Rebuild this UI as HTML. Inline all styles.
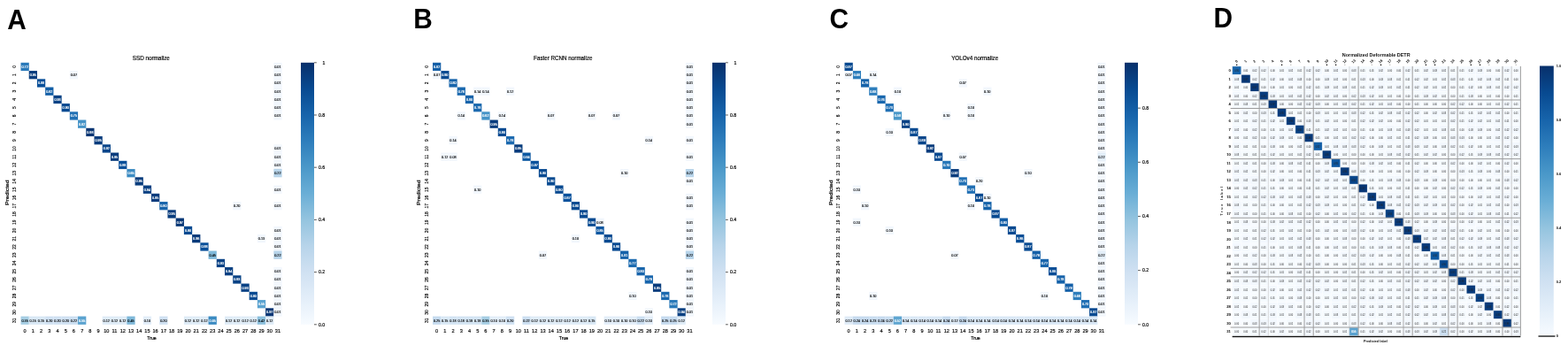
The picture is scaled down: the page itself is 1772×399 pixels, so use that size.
<!DOCTYPE html>
<html><head><meta charset="utf-8"><title>Confusion matrices</title>
<style>
html,body{margin:0;padding:0;background:#fff;}
body{width:1772px;height:399px;overflow:hidden;position:relative;}
svg text{font-family:"Liberation Sans",Arial,sans-serif;}
.cw text{font-size:3.7px;fill:#fff;stroke:#fff;stroke-width:.15px;text-anchor:middle}
.ck text{font-size:3.8px;fill:#000;stroke:#000;stroke-width:.12px;text-anchor:middle}
.tk text{fill:#000;stroke:#000;stroke-width:.15px;text-anchor:middle}
.dk text{font-size:3.0px;fill:#222}
.dw text{font-size:3.3px;fill:#fff;stroke:#fff;stroke-width:.18px}
</style></head><body>
<svg width="1772" height="399" viewBox="0 0 1772 399" style="position:absolute;left:0;top:0">
<rect x="0" y="0" width="1772" height="399" fill="#ffffff"/>
<rect x="23.50" y="70.80" width="9.27" height="9.30" fill="#2979b9"/>
<rect x="32.72" y="80.05" width="9.27" height="9.30" fill="#083c7d"/>
<rect x="41.94" y="89.30" width="9.27" height="9.30" fill="#084f99"/>
<rect x="51.16" y="98.55" width="9.27" height="9.30" fill="#135fa7"/>
<rect x="60.38" y="107.80" width="9.27" height="9.30" fill="#084285"/>
<rect x="69.60" y="117.05" width="9.27" height="9.30" fill="#084a91"/>
<rect x="78.82" y="126.30" width="9.27" height="9.30" fill="#2070b4"/>
<rect x="88.04" y="135.55" width="9.27" height="9.30" fill="#4493c7"/>
<rect x="97.26" y="144.80" width="9.27" height="9.30" fill="#083573"/>
<rect x="106.48" y="154.05" width="9.27" height="9.30" fill="#083c7d"/>
<rect x="115.70" y="163.30" width="9.27" height="9.30" fill="#08458a"/>
<rect x="124.92" y="172.55" width="9.27" height="9.30" fill="#083c7d"/>
<rect x="134.14" y="181.80" width="9.27" height="9.30" fill="#084f99"/>
<rect x="143.36" y="191.05" width="9.27" height="9.30" fill="#3b8bc2"/>
<rect x="152.58" y="200.30" width="9.27" height="9.30" fill="#083c7d"/>
<rect x="161.80" y="209.55" width="9.27" height="9.30" fill="#084082"/>
<rect x="171.02" y="218.80" width="9.27" height="9.30" fill="#083c7d"/>
<rect x="180.24" y="228.05" width="9.27" height="9.30" fill="#1764ab"/>
<rect x="189.46" y="237.30" width="9.27" height="9.30" fill="#083c7d"/>
<rect x="198.68" y="246.55" width="9.27" height="9.30" fill="#083776"/>
<rect x="207.90" y="255.80" width="9.27" height="9.30" fill="#084a91"/>
<rect x="217.12" y="265.05" width="9.27" height="9.30" fill="#083a7a"/>
<rect x="226.34" y="274.30" width="9.27" height="9.30" fill="#084f99"/>
<rect x="235.56" y="283.55" width="9.27" height="9.30" fill="#7fb9da"/>
<rect x="244.78" y="292.80" width="9.27" height="9.30" fill="#084285"/>
<rect x="254.00" y="302.05" width="9.27" height="9.30" fill="#084082"/>
<rect x="263.22" y="311.30" width="9.27" height="9.30" fill="#084285"/>
<rect x="272.44" y="320.55" width="9.27" height="9.30" fill="#084285"/>
<rect x="281.66" y="329.80" width="9.27" height="9.30" fill="#084a91"/>
<rect x="290.88" y="339.05" width="9.27" height="9.30" fill="#5ba3d0"/>
<rect x="300.10" y="348.30" width="9.27" height="9.30" fill="#083776"/>
<rect x="78.82" y="80.05" width="9.27" height="9.30" fill="#f2f7fd"/>
<rect x="263.22" y="228.05" width="9.27" height="9.30" fill="#f2f7fd"/>
<rect x="290.88" y="265.05" width="9.27" height="9.30" fill="#f2f7fd"/>
<rect x="309.32" y="70.80" width="9.27" height="9.30" fill="#f2f7fd"/>
<rect x="309.32" y="80.05" width="9.27" height="9.30" fill="#f2f7fd"/>
<rect x="309.32" y="89.30" width="9.27" height="9.30" fill="#f2f7fd"/>
<rect x="309.32" y="98.55" width="9.27" height="9.30" fill="#f2f7fd"/>
<rect x="309.32" y="107.80" width="9.27" height="9.30" fill="#f2f7fd"/>
<rect x="309.32" y="117.05" width="9.27" height="9.30" fill="#f2f7fd"/>
<rect x="309.32" y="126.30" width="9.27" height="9.30" fill="#f2f7fd"/>
<rect x="309.32" y="163.30" width="9.27" height="9.30" fill="#f2f7fd"/>
<rect x="309.32" y="172.55" width="9.27" height="9.30" fill="#f2f7fd"/>
<rect x="309.32" y="181.80" width="9.27" height="9.30" fill="#f2f7fd"/>
<rect x="309.32" y="191.05" width="9.27" height="9.30" fill="#b7d4ea"/>
<rect x="309.32" y="209.55" width="9.27" height="9.30" fill="#f2f7fd"/>
<rect x="309.32" y="228.05" width="9.27" height="9.30" fill="#f2f7fd"/>
<rect x="309.32" y="255.80" width="9.27" height="9.30" fill="#f2f7fd"/>
<rect x="309.32" y="265.05" width="9.27" height="9.30" fill="#f2f7fd"/>
<rect x="309.32" y="274.30" width="9.27" height="9.30" fill="#f2f7fd"/>
<rect x="309.32" y="283.55" width="9.27" height="9.30" fill="#b7d4ea"/>
<rect x="309.32" y="302.05" width="9.27" height="9.30" fill="#f2f7fd"/>
<rect x="309.32" y="311.30" width="9.27" height="9.30" fill="#f2f7fd"/>
<rect x="309.32" y="320.55" width="9.27" height="9.30" fill="#f2f7fd"/>
<rect x="309.32" y="329.80" width="9.27" height="9.30" fill="#f2f7fd"/>
<rect x="309.32" y="339.05" width="9.27" height="9.30" fill="#f2f7fd"/>
<rect x="309.32" y="348.30" width="9.27" height="9.30" fill="#f2f7fd"/>
<rect x="23.50" y="357.55" width="9.27" height="9.30" fill="#a6cee4"/>
<rect x="32.72" y="357.55" width="9.27" height="9.30" fill="#d9e8f5"/>
<rect x="41.94" y="357.55" width="9.27" height="9.30" fill="#d9e8f5"/>
<rect x="51.16" y="357.55" width="9.27" height="9.30" fill="#d0e1f2"/>
<rect x="60.38" y="357.55" width="9.27" height="9.30" fill="#d0e1f2"/>
<rect x="69.60" y="357.55" width="9.27" height="9.30" fill="#d0e1f2"/>
<rect x="78.82" y="357.55" width="9.27" height="9.30" fill="#ccdff1"/>
<rect x="88.04" y="357.55" width="9.27" height="9.30" fill="#5ba3d0"/>
<rect x="115.70" y="357.55" width="9.27" height="9.30" fill="#dfecf7"/>
<rect x="124.92" y="357.55" width="9.27" height="9.30" fill="#dfecf7"/>
<rect x="134.14" y="357.55" width="9.27" height="9.30" fill="#dfecf7"/>
<rect x="143.36" y="357.55" width="9.27" height="9.30" fill="#7fb9da"/>
<rect x="161.80" y="357.55" width="9.27" height="9.30" fill="#e3eef9"/>
<rect x="180.24" y="357.55" width="9.27" height="9.30" fill="#d0e1f2"/>
<rect x="207.90" y="357.55" width="9.27" height="9.30" fill="#dfecf7"/>
<rect x="217.12" y="357.55" width="9.27" height="9.30" fill="#dfecf7"/>
<rect x="226.34" y="357.55" width="9.27" height="9.30" fill="#dfecf7"/>
<rect x="235.56" y="357.55" width="9.27" height="9.30" fill="#3b8bc2"/>
<rect x="254.00" y="357.55" width="9.27" height="9.30" fill="#dfecf7"/>
<rect x="263.22" y="357.55" width="9.27" height="9.30" fill="#dfecf7"/>
<rect x="272.44" y="357.55" width="9.27" height="9.30" fill="#dfecf7"/>
<rect x="281.66" y="357.55" width="9.27" height="9.30" fill="#dfecf7"/>
<rect x="290.88" y="357.55" width="9.27" height="9.30" fill="#8cc0dd"/>
<rect x="300.10" y="357.55" width="9.27" height="9.30" fill="#dfecf7"/>
<g class="cw"><text x="28.1" y="76.7">0.72</text><text x="37.3" y="86.0">0.95</text><text x="46.5" y="95.2">0.88</text><text x="55.8" y="104.5">0.82</text><text x="65.0" y="113.7">0.93</text><text x="74.2" y="123.0">0.90</text><text x="83.4" y="132.2">0.75</text><text x="92.7" y="141.5">0.62</text><text x="101.9" y="150.7">0.98</text><text x="111.1" y="160.0">0.95</text><text x="120.3" y="169.2">0.92</text><text x="129.5" y="178.5">0.95</text><text x="138.8" y="187.7">0.88</text><text x="148.0" y="197.0">0.65</text><text x="157.2" y="206.2">0.95</text><text x="166.4" y="215.5">0.94</text><text x="175.6" y="224.7">0.95</text><text x="184.9" y="234.0">0.80</text><text x="194.1" y="243.2">0.95</text><text x="203.3" y="252.5">0.97</text><text x="212.5" y="261.7">0.90</text><text x="221.7" y="271.0">0.96</text><text x="231.0" y="280.2">0.88</text><text x="249.4" y="298.7">0.93</text><text x="258.6" y="308.0">0.94</text><text x="267.8" y="317.2">0.93</text><text x="277.1" y="326.5">0.93</text><text x="286.3" y="335.7">0.90</text><text x="295.5" y="345.0">0.55</text><text x="304.7" y="354.2">0.97</text><text x="92.7" y="363.5">0.55</text><text x="240.2" y="363.5">0.65</text></g>
<g class="ck"><text x="240.2" y="289.5">0.45</text><text x="83.4" y="86.0">0.07</text><text x="267.8" y="234.0">0.20</text><text x="295.5" y="271.0">0.13</text><text x="313.9" y="76.7">0.01</text><text x="313.9" y="86.0">0.01</text><text x="313.9" y="95.2">0.01</text><text x="313.9" y="104.5">0.01</text><text x="313.9" y="113.7">0.01</text><text x="313.9" y="123.0">0.01</text><text x="313.9" y="132.2">0.01</text><text x="313.9" y="169.2">0.01</text><text x="313.9" y="178.5">0.01</text><text x="313.9" y="187.7">0.01</text><text x="313.9" y="197.0">0.22</text><text x="313.9" y="215.5">0.01</text><text x="313.9" y="234.0">0.01</text><text x="313.9" y="261.7">0.01</text><text x="313.9" y="271.0">0.01</text><text x="313.9" y="280.2">0.01</text><text x="313.9" y="289.5">0.22</text><text x="313.9" y="308.0">0.01</text><text x="313.9" y="317.2">0.01</text><text x="313.9" y="326.5">0.01</text><text x="313.9" y="335.7">0.01</text><text x="313.9" y="345.0">0.01</text><text x="313.9" y="354.2">0.01</text><text x="28.1" y="363.5">0.35</text><text x="37.3" y="363.5">0.15</text><text x="46.5" y="363.5">0.15</text><text x="55.8" y="363.5">0.20</text><text x="65.0" y="363.5">0.20</text><text x="74.2" y="363.5">0.20</text><text x="83.4" y="363.5">0.22</text><text x="120.3" y="363.5">0.12</text><text x="129.5" y="363.5">0.12</text><text x="138.8" y="363.5">0.12</text><text x="148.0" y="363.5">0.45</text><text x="166.4" y="363.5">0.10</text><text x="184.9" y="363.5">0.20</text><text x="212.5" y="363.5">0.12</text><text x="221.7" y="363.5">0.12</text><text x="231.0" y="363.5">0.12</text><text x="258.6" y="363.5">0.12</text><text x="267.8" y="363.5">0.12</text><text x="277.1" y="363.5">0.12</text><text x="286.3" y="363.5">0.12</text><text x="295.5" y="363.5">0.42</text><text x="304.7" y="363.5">0.12</text></g>
<g class="tk" font-size="5"><text transform="translate(18.3,75.4) rotate(-90)">0</text><text transform="translate(18.3,84.7) rotate(-90)">1</text><text transform="translate(18.3,93.9) rotate(-90)">2</text><text transform="translate(18.3,103.2) rotate(-90)">3</text><text transform="translate(18.3,112.4) rotate(-90)">4</text><text transform="translate(18.3,121.7) rotate(-90)">5</text><text transform="translate(18.3,130.9) rotate(-90)">6</text><text transform="translate(18.3,140.2) rotate(-90)">7</text><text transform="translate(18.3,149.4) rotate(-90)">8</text><text transform="translate(18.3,158.7) rotate(-90)">9</text><text transform="translate(18.3,167.9) rotate(-90)">10</text><text transform="translate(18.3,177.2) rotate(-90)">11</text><text transform="translate(18.3,186.4) rotate(-90)">12</text><text transform="translate(18.3,195.7) rotate(-90)">13</text><text transform="translate(18.3,204.9) rotate(-90)">14</text><text transform="translate(18.3,214.2) rotate(-90)">15</text><text transform="translate(18.3,223.4) rotate(-90)">16</text><text transform="translate(18.3,232.7) rotate(-90)">17</text><text transform="translate(18.3,241.9) rotate(-90)">18</text><text transform="translate(18.3,251.2) rotate(-90)">19</text><text transform="translate(18.3,260.4) rotate(-90)">20</text><text transform="translate(18.3,269.7) rotate(-90)">21</text><text transform="translate(18.3,278.9) rotate(-90)">22</text><text transform="translate(18.3,288.2) rotate(-90)">23</text><text transform="translate(18.3,297.4) rotate(-90)">24</text><text transform="translate(18.3,306.7) rotate(-90)">25</text><text transform="translate(18.3,315.9) rotate(-90)">26</text><text transform="translate(18.3,325.2) rotate(-90)">27</text><text transform="translate(18.3,334.4) rotate(-90)">28</text><text transform="translate(18.3,343.7) rotate(-90)">29</text><text transform="translate(18.3,352.9) rotate(-90)">30</text><text transform="translate(18.3,362.2) rotate(-90)">31</text></g>
<g class="tk" font-size="5.6"><text x="28.1" y="376.2">0</text><text x="37.3" y="376.2">1</text><text x="46.5" y="376.2">2</text><text x="55.8" y="376.2">3</text><text x="65.0" y="376.2">4</text><text x="74.2" y="376.2">5</text><text x="83.4" y="376.2">6</text><text x="92.7" y="376.2">7</text><text x="101.9" y="376.2">8</text><text x="111.1" y="376.2">9</text><text x="120.3" y="376.2">10</text><text x="129.5" y="376.2">11</text><text x="138.8" y="376.2">12</text><text x="148.0" y="376.2">13</text><text x="157.2" y="376.2">14</text><text x="166.4" y="376.2">15</text><text x="175.6" y="376.2">16</text><text x="184.9" y="376.2">17</text><text x="194.1" y="376.2">18</text><text x="203.3" y="376.2">19</text><text x="212.5" y="376.2">20</text><text x="221.7" y="376.2">21</text><text x="231.0" y="376.2">22</text><text x="240.2" y="376.2">23</text><text x="249.4" y="376.2">24</text><text x="258.6" y="376.2">25</text><text x="267.8" y="376.2">26</text><text x="277.1" y="376.2">27</text><text x="286.3" y="376.2">28</text><text x="295.5" y="376.2">29</text><text x="304.7" y="376.2">30</text><text x="313.9" y="376.2">31</text></g>
<text transform="translate(9.90,232.0) rotate(-90)" font-size="5.4" fill="#000" stroke="#000" stroke-width="0.2" textLength="28.6" lengthAdjust="spacingAndGlyphs">Predicted</text>
<text x="171.50" y="384.2" font-size="5.2" fill="#000" stroke="#000" stroke-width="0.2" text-anchor="middle">True</text>
<text x="149.70" y="68.1" font-size="7.2" fill="#000" stroke="#000" stroke-width="0.2" textLength="42.2" lengthAdjust="spacingAndGlyphs">SSD normalize</text>
<defs><linearGradient id="cb23" x1="0" y1="1" x2="0" y2="0">
<stop offset="0.00" stop-color="#f7fbff"/>
<stop offset="0.10" stop-color="#e3eef9"/>
<stop offset="0.20" stop-color="#d0e1f2"/>
<stop offset="0.30" stop-color="#b7d4ea"/>
<stop offset="0.40" stop-color="#94c4df"/>
<stop offset="0.50" stop-color="#6aaed6"/>
<stop offset="0.60" stop-color="#4a98c9"/>
<stop offset="0.70" stop-color="#2e7ebc"/>
<stop offset="0.80" stop-color="#1764ab"/>
<stop offset="0.90" stop-color="#084a91"/>
<stop offset="1.00" stop-color="#08306b"/>
</linearGradient></defs>
<rect x="340" y="70.8" width="15" height="296.0" fill="url(#cb23)"/>
<line x1="355" y1="70.80" x2="357.8" y2="70.80" stroke="#111" stroke-width="0.7"/>
<text x="364.5" y="72.60" font-size="5.1" fill="#000" stroke="#000" stroke-width="0.2">1</text>
<line x1="355" y1="130.00" x2="357.8" y2="130.00" stroke="#111" stroke-width="0.7"/>
<text x="360" y="131.80" font-size="5.1" fill="#000" stroke="#000" stroke-width="0.2">0.8</text>
<line x1="355" y1="189.20" x2="357.8" y2="189.20" stroke="#111" stroke-width="0.7"/>
<text x="360" y="191.00" font-size="5.1" fill="#000" stroke="#000" stroke-width="0.2">0.6</text>
<line x1="355" y1="248.40" x2="357.8" y2="248.40" stroke="#111" stroke-width="0.7"/>
<text x="360" y="250.20" font-size="5.1" fill="#000" stroke="#000" stroke-width="0.2">0.4</text>
<line x1="355" y1="307.60" x2="357.8" y2="307.60" stroke="#111" stroke-width="0.7"/>
<text x="360" y="309.40" font-size="5.1" fill="#000" stroke="#000" stroke-width="0.2">0.2</text>
<line x1="355" y1="366.80" x2="357.8" y2="366.80" stroke="#111" stroke-width="0.7"/>
<text x="360" y="368.60" font-size="5.1" fill="#000" stroke="#000" stroke-width="0.2">0.0</text>
<rect x="489.00" y="70.80" width="9.27" height="9.30" fill="#135fa7"/>
<rect x="498.22" y="80.05" width="9.27" height="9.30" fill="#084a91"/>
<rect x="507.44" y="89.30" width="9.27" height="9.30" fill="#1764ab"/>
<rect x="516.66" y="98.55" width="9.27" height="9.30" fill="#1b69af"/>
<rect x="525.88" y="107.80" width="9.27" height="9.30" fill="#1764ab"/>
<rect x="535.10" y="117.05" width="9.27" height="9.30" fill="#1b69af"/>
<rect x="544.32" y="126.30" width="9.27" height="9.30" fill="#4493c7"/>
<rect x="553.54" y="135.55" width="9.27" height="9.30" fill="#083c7d"/>
<rect x="562.76" y="144.80" width="9.27" height="9.30" fill="#084a91"/>
<rect x="571.98" y="154.05" width="9.27" height="9.30" fill="#1b69af"/>
<rect x="581.20" y="163.30" width="9.27" height="9.30" fill="#083c7d"/>
<rect x="590.42" y="172.55" width="9.27" height="9.30" fill="#0e59a2"/>
<rect x="599.64" y="181.80" width="9.27" height="9.30" fill="#09529d"/>
<rect x="608.86" y="191.05" width="9.27" height="9.30" fill="#084a91"/>
<rect x="618.08" y="200.30" width="9.27" height="9.30" fill="#084a91"/>
<rect x="627.30" y="209.55" width="9.27" height="9.30" fill="#084a91"/>
<rect x="636.52" y="218.80" width="9.27" height="9.30" fill="#09529d"/>
<rect x="645.74" y="228.05" width="9.27" height="9.30" fill="#084a91"/>
<rect x="654.96" y="237.30" width="9.27" height="9.30" fill="#084a91"/>
<rect x="664.18" y="246.55" width="9.27" height="9.30" fill="#084a91"/>
<rect x="673.40" y="255.80" width="9.27" height="9.30" fill="#0d57a1"/>
<rect x="682.62" y="265.05" width="9.27" height="9.30" fill="#084a91"/>
<rect x="691.84" y="274.30" width="9.27" height="9.30" fill="#084a91"/>
<rect x="701.06" y="283.55" width="9.27" height="9.30" fill="#1561a9"/>
<rect x="710.28" y="292.80" width="9.27" height="9.30" fill="#1c6bb0"/>
<rect x="719.50" y="302.05" width="9.27" height="9.30" fill="#1764ab"/>
<rect x="728.72" y="311.30" width="9.27" height="9.30" fill="#1966ad"/>
<rect x="737.94" y="320.55" width="9.27" height="9.30" fill="#083c7d"/>
<rect x="747.16" y="329.80" width="9.27" height="9.30" fill="#1b69af"/>
<rect x="756.38" y="339.05" width="9.27" height="9.30" fill="#2979b9"/>
<rect x="765.60" y="348.30" width="9.27" height="9.30" fill="#084082"/>
<rect x="489.00" y="80.05" width="9.27" height="9.30" fill="#f2f7fd"/>
<rect x="535.10" y="98.55" width="9.27" height="9.30" fill="#f2f7fd"/>
<rect x="544.32" y="98.55" width="9.27" height="9.30" fill="#f2f7fd"/>
<rect x="571.98" y="98.55" width="9.27" height="9.30" fill="#f2f7fd"/>
<rect x="516.66" y="126.30" width="9.27" height="9.30" fill="#f2f7fd"/>
<rect x="562.76" y="126.30" width="9.27" height="9.30" fill="#f2f7fd"/>
<rect x="618.08" y="126.30" width="9.27" height="9.30" fill="#f2f7fd"/>
<rect x="664.18" y="126.30" width="9.27" height="9.30" fill="#f2f7fd"/>
<rect x="691.84" y="126.30" width="9.27" height="9.30" fill="#f2f7fd"/>
<rect x="507.44" y="154.05" width="9.27" height="9.30" fill="#f2f7fd"/>
<rect x="728.72" y="154.05" width="9.27" height="9.30" fill="#f2f7fd"/>
<rect x="498.22" y="172.55" width="9.27" height="9.30" fill="#f2f7fd"/>
<rect x="507.44" y="172.55" width="9.27" height="9.30" fill="#f2f7fd"/>
<rect x="701.06" y="191.05" width="9.27" height="9.30" fill="#f2f7fd"/>
<rect x="535.10" y="209.55" width="9.27" height="9.30" fill="#f2f7fd"/>
<rect x="673.40" y="246.55" width="9.27" height="9.30" fill="#f2f7fd"/>
<rect x="645.74" y="265.05" width="9.27" height="9.30" fill="#f2f7fd"/>
<rect x="608.86" y="283.55" width="9.27" height="9.30" fill="#f2f7fd"/>
<rect x="710.28" y="329.80" width="9.27" height="9.30" fill="#f2f7fd"/>
<rect x="728.72" y="348.30" width="9.27" height="9.30" fill="#f2f7fd"/>
<rect x="774.82" y="70.80" width="9.27" height="9.30" fill="#f2f7fd"/>
<rect x="774.82" y="80.05" width="9.27" height="9.30" fill="#f2f7fd"/>
<rect x="774.82" y="89.30" width="9.27" height="9.30" fill="#f2f7fd"/>
<rect x="774.82" y="98.55" width="9.27" height="9.30" fill="#f2f7fd"/>
<rect x="774.82" y="107.80" width="9.27" height="9.30" fill="#f2f7fd"/>
<rect x="774.82" y="117.05" width="9.27" height="9.30" fill="#f2f7fd"/>
<rect x="774.82" y="126.30" width="9.27" height="9.30" fill="#f2f7fd"/>
<rect x="774.82" y="135.55" width="9.27" height="9.30" fill="#f2f7fd"/>
<rect x="774.82" y="154.05" width="9.27" height="9.30" fill="#f2f7fd"/>
<rect x="774.82" y="172.55" width="9.27" height="9.30" fill="#f2f7fd"/>
<rect x="774.82" y="191.05" width="9.27" height="9.30" fill="#b7d4ea"/>
<rect x="774.82" y="200.30" width="9.27" height="9.30" fill="#f2f7fd"/>
<rect x="774.82" y="218.80" width="9.27" height="9.30" fill="#f2f7fd"/>
<rect x="774.82" y="228.05" width="9.27" height="9.30" fill="#f2f7fd"/>
<rect x="774.82" y="246.55" width="9.27" height="9.30" fill="#f2f7fd"/>
<rect x="774.82" y="255.80" width="9.27" height="9.30" fill="#f2f7fd"/>
<rect x="774.82" y="265.05" width="9.27" height="9.30" fill="#f2f7fd"/>
<rect x="774.82" y="274.30" width="9.27" height="9.30" fill="#f2f7fd"/>
<rect x="774.82" y="283.55" width="9.27" height="9.30" fill="#b7d4ea"/>
<rect x="774.82" y="302.05" width="9.27" height="9.30" fill="#f2f7fd"/>
<rect x="774.82" y="311.30" width="9.27" height="9.30" fill="#f2f7fd"/>
<rect x="774.82" y="320.55" width="9.27" height="9.30" fill="#f2f7fd"/>
<rect x="774.82" y="329.80" width="9.27" height="9.30" fill="#f2f7fd"/>
<rect x="774.82" y="339.05" width="9.27" height="9.30" fill="#f2f7fd"/>
<rect x="774.82" y="348.30" width="9.27" height="9.30" fill="#f2f7fd"/>
<rect x="489.00" y="357.55" width="9.27" height="9.30" fill="#c6dbef"/>
<rect x="498.22" y="357.55" width="9.27" height="9.30" fill="#d9e8f5"/>
<rect x="507.44" y="357.55" width="9.27" height="9.30" fill="#d3e4f3"/>
<rect x="516.66" y="357.55" width="9.27" height="9.30" fill="#d3e4f3"/>
<rect x="525.88" y="357.55" width="9.27" height="9.30" fill="#d3e4f3"/>
<rect x="535.10" y="357.55" width="9.27" height="9.30" fill="#d3e4f3"/>
<rect x="544.32" y="357.55" width="9.27" height="9.30" fill="#a6cee4"/>
<rect x="553.54" y="357.55" width="9.27" height="9.30" fill="#e3eef9"/>
<rect x="562.76" y="357.55" width="9.27" height="9.30" fill="#e3eef9"/>
<rect x="571.98" y="357.55" width="9.27" height="9.30" fill="#d0e1f2"/>
<rect x="590.42" y="357.55" width="9.27" height="9.30" fill="#ccdff1"/>
<rect x="599.64" y="357.55" width="9.27" height="9.30" fill="#dfecf7"/>
<rect x="608.86" y="357.55" width="9.27" height="9.30" fill="#dfecf7"/>
<rect x="618.08" y="357.55" width="9.27" height="9.30" fill="#dfecf7"/>
<rect x="627.30" y="357.55" width="9.27" height="9.30" fill="#dfecf7"/>
<rect x="636.52" y="357.55" width="9.27" height="9.30" fill="#dfecf7"/>
<rect x="645.74" y="357.55" width="9.27" height="9.30" fill="#dfecf7"/>
<rect x="654.96" y="357.55" width="9.27" height="9.30" fill="#dfecf7"/>
<rect x="664.18" y="357.55" width="9.27" height="9.30" fill="#d9e8f5"/>
<rect x="682.62" y="357.55" width="9.27" height="9.30" fill="#e3eef9"/>
<rect x="691.84" y="357.55" width="9.27" height="9.30" fill="#e3eef9"/>
<rect x="701.06" y="357.55" width="9.27" height="9.30" fill="#e3eef9"/>
<rect x="710.28" y="357.55" width="9.27" height="9.30" fill="#e3eef9"/>
<rect x="719.50" y="357.55" width="9.27" height="9.30" fill="#ccdff1"/>
<rect x="728.72" y="357.55" width="9.27" height="9.30" fill="#e3eef9"/>
<rect x="747.16" y="357.55" width="9.27" height="9.30" fill="#c6dbef"/>
<rect x="756.38" y="357.55" width="9.27" height="9.30" fill="#c6dbef"/>
<rect x="765.60" y="357.55" width="9.27" height="9.30" fill="#dfecf7"/>
<g class="cw"><text x="493.6" y="76.7">0.82</text><text x="502.8" y="86.0">0.90</text><text x="512.0" y="95.2">0.80</text><text x="521.3" y="104.5">0.78</text><text x="530.5" y="113.7">0.80</text><text x="539.7" y="123.0">0.78</text><text x="548.9" y="132.2">0.62</text><text x="558.1" y="141.5">0.95</text><text x="567.4" y="150.7">0.90</text><text x="576.6" y="160.0">0.78</text><text x="585.8" y="169.2">0.95</text><text x="595.0" y="178.5">0.84</text><text x="604.2" y="187.7">0.87</text><text x="613.5" y="197.0">0.90</text><text x="622.7" y="206.2">0.90</text><text x="631.9" y="215.5">0.90</text><text x="641.1" y="224.7">0.87</text><text x="650.4" y="234.0">0.90</text><text x="659.6" y="243.2">0.90</text><text x="668.8" y="252.5">0.90</text><text x="678.0" y="261.7">0.85</text><text x="687.2" y="271.0">0.90</text><text x="696.5" y="280.2">0.90</text><text x="705.7" y="289.5">0.81</text><text x="714.9" y="298.7">0.77</text><text x="724.1" y="308.0">0.80</text><text x="733.3" y="317.2">0.79</text><text x="742.6" y="326.5">0.95</text><text x="751.8" y="335.7">0.78</text><text x="761.0" y="345.0">0.72</text><text x="770.2" y="354.2">0.94</text></g>
<g class="ck"><text x="493.6" y="86.0">0.07</text><text x="539.7" y="104.5">0.14</text><text x="548.9" y="104.5">0.14</text><text x="576.6" y="104.5">0.12</text><text x="521.3" y="132.2">0.14</text><text x="567.4" y="132.2">0.14</text><text x="622.7" y="132.2">0.07</text><text x="668.8" y="132.2">0.07</text><text x="696.5" y="132.2">0.07</text><text x="512.0" y="160.0">0.14</text><text x="733.3" y="160.0">0.14</text><text x="502.8" y="178.5">0.12</text><text x="512.0" y="178.5">0.08</text><text x="705.7" y="197.0">0.10</text><text x="539.7" y="215.5">0.10</text><text x="678.0" y="252.5">0.08</text><text x="650.4" y="271.0">0.10</text><text x="613.5" y="289.5">0.07</text><text x="714.9" y="335.7">0.10</text><text x="733.3" y="354.2">0.10</text><text x="779.4" y="76.7">0.01</text><text x="779.4" y="86.0">0.01</text><text x="779.4" y="95.2">0.01</text><text x="779.4" y="104.5">0.01</text><text x="779.4" y="113.7">0.01</text><text x="779.4" y="123.0">0.01</text><text x="779.4" y="132.2">0.01</text><text x="779.4" y="141.5">0.01</text><text x="779.4" y="160.0">0.01</text><text x="779.4" y="178.5">0.01</text><text x="779.4" y="197.0">0.22</text><text x="779.4" y="206.2">0.01</text><text x="779.4" y="224.7">0.01</text><text x="779.4" y="234.0">0.01</text><text x="779.4" y="252.5">0.01</text><text x="779.4" y="261.7">0.01</text><text x="779.4" y="271.0">0.01</text><text x="779.4" y="280.2">0.01</text><text x="779.4" y="289.5">0.22</text><text x="779.4" y="308.0">0.01</text><text x="779.4" y="317.2">0.01</text><text x="779.4" y="326.5">0.01</text><text x="779.4" y="335.7">0.01</text><text x="779.4" y="345.0">0.01</text><text x="779.4" y="354.2">0.01</text><text x="493.6" y="363.5">0.25</text><text x="502.8" y="363.5">0.15</text><text x="512.0" y="363.5">0.18</text><text x="521.3" y="363.5">0.18</text><text x="530.5" y="363.5">0.18</text><text x="539.7" y="363.5">0.18</text><text x="548.9" y="363.5">0.35</text><text x="558.1" y="363.5">0.10</text><text x="567.4" y="363.5">0.10</text><text x="576.6" y="363.5">0.20</text><text x="595.0" y="363.5">0.22</text><text x="604.2" y="363.5">0.12</text><text x="613.5" y="363.5">0.12</text><text x="622.7" y="363.5">0.12</text><text x="631.9" y="363.5">0.12</text><text x="641.1" y="363.5">0.12</text><text x="650.4" y="363.5">0.12</text><text x="659.6" y="363.5">0.12</text><text x="668.8" y="363.5">0.15</text><text x="687.2" y="363.5">0.10</text><text x="696.5" y="363.5">0.10</text><text x="705.7" y="363.5">0.10</text><text x="714.9" y="363.5">0.10</text><text x="724.1" y="363.5">0.22</text><text x="733.3" y="363.5">0.10</text><text x="751.8" y="363.5">0.25</text><text x="761.0" y="363.5">0.25</text><text x="770.2" y="363.5">0.12</text></g>
<g class="tk" font-size="5"><text transform="translate(483.8,75.4) rotate(-90)">0</text><text transform="translate(483.8,84.7) rotate(-90)">1</text><text transform="translate(483.8,93.9) rotate(-90)">2</text><text transform="translate(483.8,103.2) rotate(-90)">3</text><text transform="translate(483.8,112.4) rotate(-90)">4</text><text transform="translate(483.8,121.7) rotate(-90)">5</text><text transform="translate(483.8,130.9) rotate(-90)">6</text><text transform="translate(483.8,140.2) rotate(-90)">7</text><text transform="translate(483.8,149.4) rotate(-90)">8</text><text transform="translate(483.8,158.7) rotate(-90)">9</text><text transform="translate(483.8,167.9) rotate(-90)">10</text><text transform="translate(483.8,177.2) rotate(-90)">11</text><text transform="translate(483.8,186.4) rotate(-90)">12</text><text transform="translate(483.8,195.7) rotate(-90)">13</text><text transform="translate(483.8,204.9) rotate(-90)">14</text><text transform="translate(483.8,214.2) rotate(-90)">15</text><text transform="translate(483.8,223.4) rotate(-90)">16</text><text transform="translate(483.8,232.7) rotate(-90)">17</text><text transform="translate(483.8,241.9) rotate(-90)">18</text><text transform="translate(483.8,251.2) rotate(-90)">19</text><text transform="translate(483.8,260.4) rotate(-90)">20</text><text transform="translate(483.8,269.7) rotate(-90)">21</text><text transform="translate(483.8,278.9) rotate(-90)">22</text><text transform="translate(483.8,288.2) rotate(-90)">23</text><text transform="translate(483.8,297.4) rotate(-90)">24</text><text transform="translate(483.8,306.7) rotate(-90)">25</text><text transform="translate(483.8,315.9) rotate(-90)">26</text><text transform="translate(483.8,325.2) rotate(-90)">27</text><text transform="translate(483.8,334.4) rotate(-90)">28</text><text transform="translate(483.8,343.7) rotate(-90)">29</text><text transform="translate(483.8,352.9) rotate(-90)">30</text><text transform="translate(483.8,362.2) rotate(-90)">31</text></g>
<g class="tk" font-size="5.6"><text x="493.6" y="376.2">0</text><text x="502.8" y="376.2">1</text><text x="512.0" y="376.2">2</text><text x="521.3" y="376.2">3</text><text x="530.5" y="376.2">4</text><text x="539.7" y="376.2">5</text><text x="548.9" y="376.2">6</text><text x="558.1" y="376.2">7</text><text x="567.4" y="376.2">8</text><text x="576.6" y="376.2">9</text><text x="585.8" y="376.2">10</text><text x="595.0" y="376.2">11</text><text x="604.2" y="376.2">12</text><text x="613.5" y="376.2">13</text><text x="622.7" y="376.2">14</text><text x="631.9" y="376.2">15</text><text x="641.1" y="376.2">16</text><text x="650.4" y="376.2">17</text><text x="659.6" y="376.2">18</text><text x="668.8" y="376.2">19</text><text x="678.0" y="376.2">20</text><text x="687.2" y="376.2">21</text><text x="696.5" y="376.2">22</text><text x="705.7" y="376.2">23</text><text x="714.9" y="376.2">24</text><text x="724.1" y="376.2">25</text><text x="733.3" y="376.2">26</text><text x="742.6" y="376.2">27</text><text x="751.8" y="376.2">28</text><text x="761.0" y="376.2">29</text><text x="770.2" y="376.2">30</text><text x="779.4" y="376.2">31</text></g>
<text transform="translate(475.40,232.0) rotate(-90)" font-size="5.4" fill="#000" stroke="#000" stroke-width="0.2" textLength="28.6" lengthAdjust="spacingAndGlyphs">Predicted</text>
<text x="637.00" y="384.2" font-size="5.2" fill="#000" stroke="#000" stroke-width="0.2" text-anchor="middle">True</text>
<text x="603.10" y="68.1" font-size="7.2" fill="#000" stroke="#000" stroke-width="0.2" textLength="66.4" lengthAdjust="spacingAndGlyphs">Faster RCNN normalize</text>
<defs><linearGradient id="cb489" x1="0" y1="1" x2="0" y2="0">
<stop offset="0.00" stop-color="#f7fbff"/>
<stop offset="0.10" stop-color="#e3eef9"/>
<stop offset="0.20" stop-color="#d0e1f2"/>
<stop offset="0.30" stop-color="#b7d4ea"/>
<stop offset="0.40" stop-color="#94c4df"/>
<stop offset="0.50" stop-color="#6aaed6"/>
<stop offset="0.60" stop-color="#4a98c9"/>
<stop offset="0.70" stop-color="#2e7ebc"/>
<stop offset="0.80" stop-color="#1764ab"/>
<stop offset="0.90" stop-color="#084a91"/>
<stop offset="1.00" stop-color="#08306b"/>
</linearGradient></defs>
<rect x="805" y="70.8" width="15" height="296.0" fill="url(#cb489)"/>
<line x1="820" y1="70.80" x2="822.8" y2="70.80" stroke="#111" stroke-width="0.7"/>
<text x="829.5" y="72.60" font-size="5.1" fill="#000" stroke="#000" stroke-width="0.2">1</text>
<line x1="820" y1="130.00" x2="822.8" y2="130.00" stroke="#111" stroke-width="0.7"/>
<text x="825" y="131.80" font-size="5.1" fill="#000" stroke="#000" stroke-width="0.2">0.8</text>
<line x1="820" y1="189.20" x2="822.8" y2="189.20" stroke="#111" stroke-width="0.7"/>
<text x="825" y="191.00" font-size="5.1" fill="#000" stroke="#000" stroke-width="0.2">0.6</text>
<line x1="820" y1="248.40" x2="822.8" y2="248.40" stroke="#111" stroke-width="0.7"/>
<text x="825" y="250.20" font-size="5.1" fill="#000" stroke="#000" stroke-width="0.2">0.4</text>
<line x1="820" y1="307.60" x2="822.8" y2="307.60" stroke="#111" stroke-width="0.7"/>
<text x="825" y="309.40" font-size="5.1" fill="#000" stroke="#000" stroke-width="0.2">0.2</text>
<line x1="820" y1="366.80" x2="822.8" y2="366.80" stroke="#111" stroke-width="0.7"/>
<text x="825" y="368.60" font-size="5.1" fill="#000" stroke="#000" stroke-width="0.2">0.0</text>
<rect x="954.50" y="70.80" width="9.27" height="9.30" fill="#084a91"/>
<rect x="963.72" y="80.05" width="9.27" height="9.30" fill="#2e7ebc"/>
<rect x="972.94" y="89.30" width="9.27" height="9.30" fill="#1562a9"/>
<rect x="982.16" y="98.55" width="9.27" height="9.30" fill="#2e7ebc"/>
<rect x="991.38" y="107.80" width="9.27" height="9.30" fill="#1a68ae"/>
<rect x="1000.60" y="117.05" width="9.27" height="9.30" fill="#206fb4"/>
<rect x="1009.82" y="126.30" width="9.27" height="9.30" fill="#4a98c9"/>
<rect x="1019.04" y="135.55" width="9.27" height="9.30" fill="#084285"/>
<rect x="1028.26" y="144.80" width="9.27" height="9.30" fill="#084a91"/>
<rect x="1037.48" y="154.05" width="9.27" height="9.30" fill="#08458a"/>
<rect x="1046.70" y="163.30" width="9.27" height="9.30" fill="#083c7d"/>
<rect x="1055.92" y="172.55" width="9.27" height="9.30" fill="#084a91"/>
<rect x="1065.14" y="181.80" width="9.27" height="9.30" fill="#2777b8"/>
<rect x="1074.36" y="191.05" width="9.27" height="9.30" fill="#083c7d"/>
<rect x="1083.58" y="200.30" width="9.27" height="9.30" fill="#206fb4"/>
<rect x="1092.80" y="209.55" width="9.27" height="9.30" fill="#206fb4"/>
<rect x="1102.02" y="218.80" width="9.27" height="9.30" fill="#084a91"/>
<rect x="1111.24" y="228.05" width="9.27" height="9.30" fill="#1562a9"/>
<rect x="1120.46" y="237.30" width="9.27" height="9.30" fill="#084a91"/>
<rect x="1129.68" y="246.55" width="9.27" height="9.30" fill="#125da6"/>
<rect x="1138.90" y="255.80" width="9.27" height="9.30" fill="#084a91"/>
<rect x="1148.12" y="265.05" width="9.27" height="9.30" fill="#084d96"/>
<rect x="1157.34" y="274.30" width="9.27" height="9.30" fill="#084a91"/>
<rect x="1166.56" y="283.55" width="9.27" height="9.30" fill="#1460a8"/>
<rect x="1175.78" y="292.80" width="9.27" height="9.30" fill="#1865ac"/>
<rect x="1185.00" y="302.05" width="9.27" height="9.30" fill="#084d96"/>
<rect x="1194.22" y="311.30" width="9.27" height="9.30" fill="#1562a9"/>
<rect x="1203.44" y="320.55" width="9.27" height="9.30" fill="#1460a8"/>
<rect x="1212.66" y="329.80" width="9.27" height="9.30" fill="#2e7ebc"/>
<rect x="1221.88" y="339.05" width="9.27" height="9.30" fill="#206fb4"/>
<rect x="1231.10" y="348.30" width="9.27" height="9.30" fill="#084a91"/>
<rect x="954.50" y="80.05" width="9.27" height="9.30" fill="#f2f7fd"/>
<rect x="982.16" y="80.05" width="9.27" height="9.30" fill="#f2f7fd"/>
<rect x="1083.58" y="89.30" width="9.27" height="9.30" fill="#f2f7fd"/>
<rect x="1009.82" y="98.55" width="9.27" height="9.30" fill="#f2f7fd"/>
<rect x="1111.24" y="98.55" width="9.27" height="9.30" fill="#f2f7fd"/>
<rect x="1092.80" y="117.05" width="9.27" height="9.30" fill="#f2f7fd"/>
<rect x="1065.14" y="126.30" width="9.27" height="9.30" fill="#f2f7fd"/>
<rect x="1092.80" y="126.30" width="9.27" height="9.30" fill="#f2f7fd"/>
<rect x="1000.60" y="144.80" width="9.27" height="9.30" fill="#f2f7fd"/>
<rect x="1083.58" y="172.55" width="9.27" height="9.30" fill="#f2f7fd"/>
<rect x="1157.34" y="191.05" width="9.27" height="9.30" fill="#f2f7fd"/>
<rect x="1102.02" y="200.30" width="9.27" height="9.30" fill="#f2f7fd"/>
<rect x="963.72" y="209.55" width="9.27" height="9.30" fill="#f2f7fd"/>
<rect x="1111.24" y="218.80" width="9.27" height="9.30" fill="#f2f7fd"/>
<rect x="972.94" y="228.05" width="9.27" height="9.30" fill="#f2f7fd"/>
<rect x="1092.80" y="228.05" width="9.27" height="9.30" fill="#f2f7fd"/>
<rect x="963.72" y="246.55" width="9.27" height="9.30" fill="#f2f7fd"/>
<rect x="1000.60" y="255.80" width="9.27" height="9.30" fill="#f2f7fd"/>
<rect x="1074.36" y="283.55" width="9.27" height="9.30" fill="#f2f7fd"/>
<rect x="982.16" y="329.80" width="9.27" height="9.30" fill="#f2f7fd"/>
<rect x="1175.78" y="329.80" width="9.27" height="9.30" fill="#f2f7fd"/>
<rect x="1240.32" y="70.80" width="9.27" height="9.30" fill="#f2f7fd"/>
<rect x="1240.32" y="80.05" width="9.27" height="9.30" fill="#f2f7fd"/>
<rect x="1240.32" y="89.30" width="9.27" height="9.30" fill="#f2f7fd"/>
<rect x="1240.32" y="98.55" width="9.27" height="9.30" fill="#f2f7fd"/>
<rect x="1240.32" y="107.80" width="9.27" height="9.30" fill="#f2f7fd"/>
<rect x="1240.32" y="117.05" width="9.27" height="9.30" fill="#f2f7fd"/>
<rect x="1240.32" y="126.30" width="9.27" height="9.30" fill="#f2f7fd"/>
<rect x="1240.32" y="135.55" width="9.27" height="9.30" fill="#f2f7fd"/>
<rect x="1240.32" y="144.80" width="9.27" height="9.30" fill="#f2f7fd"/>
<rect x="1240.32" y="154.05" width="9.27" height="9.30" fill="#f2f7fd"/>
<rect x="1240.32" y="163.30" width="9.27" height="9.30" fill="#f2f7fd"/>
<rect x="1240.32" y="172.55" width="9.27" height="9.30" fill="#e3eef8"/>
<rect x="1240.32" y="181.80" width="9.27" height="9.30" fill="#f2f7fd"/>
<rect x="1240.32" y="191.05" width="9.27" height="9.30" fill="#f2f7fd"/>
<rect x="1240.32" y="200.30" width="9.27" height="9.30" fill="#f2f7fd"/>
<rect x="1240.32" y="209.55" width="9.27" height="9.30" fill="#f2f7fd"/>
<rect x="1240.32" y="218.80" width="9.27" height="9.30" fill="#f2f7fd"/>
<rect x="1240.32" y="228.05" width="9.27" height="9.30" fill="#f2f7fd"/>
<rect x="1240.32" y="237.30" width="9.27" height="9.30" fill="#f2f7fd"/>
<rect x="1240.32" y="246.55" width="9.27" height="9.30" fill="#f2f7fd"/>
<rect x="1240.32" y="255.80" width="9.27" height="9.30" fill="#f2f7fd"/>
<rect x="1240.32" y="265.05" width="9.27" height="9.30" fill="#f2f7fd"/>
<rect x="1240.32" y="274.30" width="9.27" height="9.30" fill="#f2f7fd"/>
<rect x="1240.32" y="283.55" width="9.27" height="9.30" fill="#e3eef8"/>
<rect x="1240.32" y="292.80" width="9.27" height="9.30" fill="#f2f7fd"/>
<rect x="1240.32" y="302.05" width="9.27" height="9.30" fill="#f2f7fd"/>
<rect x="1240.32" y="311.30" width="9.27" height="9.30" fill="#f2f7fd"/>
<rect x="1240.32" y="320.55" width="9.27" height="9.30" fill="#f2f7fd"/>
<rect x="1240.32" y="329.80" width="9.27" height="9.30" fill="#f2f7fd"/>
<rect x="1240.32" y="339.05" width="9.27" height="9.30" fill="#f2f7fd"/>
<rect x="1240.32" y="348.30" width="9.27" height="9.30" fill="#f2f7fd"/>
<rect x="954.50" y="357.55" width="9.27" height="9.30" fill="#dfebf7"/>
<rect x="963.72" y="357.55" width="9.27" height="9.30" fill="#c7dbef"/>
<rect x="972.94" y="357.55" width="9.27" height="9.30" fill="#c7dbef"/>
<rect x="982.16" y="357.55" width="9.27" height="9.30" fill="#c9ddf0"/>
<rect x="991.38" y="357.55" width="9.27" height="9.30" fill="#c7dbef"/>
<rect x="1000.60" y="357.55" width="9.27" height="9.30" fill="#cadef0"/>
<rect x="1009.82" y="357.55" width="9.27" height="9.30" fill="#5fa6d1"/>
<rect x="1019.04" y="357.55" width="9.27" height="9.30" fill="#dae8f6"/>
<rect x="1028.26" y="357.55" width="9.27" height="9.30" fill="#dae8f6"/>
<rect x="1037.48" y="357.55" width="9.27" height="9.30" fill="#dae8f6"/>
<rect x="1046.70" y="357.55" width="9.27" height="9.30" fill="#dae8f6"/>
<rect x="1055.92" y="357.55" width="9.27" height="9.30" fill="#dae8f6"/>
<rect x="1065.14" y="357.55" width="9.27" height="9.30" fill="#c7dbef"/>
<rect x="1074.36" y="357.55" width="9.27" height="9.30" fill="#dfebf7"/>
<rect x="1083.58" y="357.55" width="9.27" height="9.30" fill="#c7dbef"/>
<rect x="1092.80" y="357.55" width="9.27" height="9.30" fill="#dae8f6"/>
<rect x="1102.02" y="357.55" width="9.27" height="9.30" fill="#dae8f6"/>
<rect x="1111.24" y="357.55" width="9.27" height="9.30" fill="#dae8f6"/>
<rect x="1120.46" y="357.55" width="9.27" height="9.30" fill="#dae8f6"/>
<rect x="1129.68" y="357.55" width="9.27" height="9.30" fill="#dae8f6"/>
<rect x="1138.90" y="357.55" width="9.27" height="9.30" fill="#dae8f6"/>
<rect x="1148.12" y="357.55" width="9.27" height="9.30" fill="#dae8f6"/>
<rect x="1157.34" y="357.55" width="9.27" height="9.30" fill="#dae8f6"/>
<rect x="1166.56" y="357.55" width="9.27" height="9.30" fill="#dae8f6"/>
<rect x="1175.78" y="357.55" width="9.27" height="9.30" fill="#dae8f6"/>
<rect x="1185.00" y="357.55" width="9.27" height="9.30" fill="#dae8f6"/>
<rect x="1194.22" y="357.55" width="9.27" height="9.30" fill="#dae8f6"/>
<rect x="1203.44" y="357.55" width="9.27" height="9.30" fill="#dae8f6"/>
<rect x="1212.66" y="357.55" width="9.27" height="9.30" fill="#dae8f6"/>
<rect x="1221.88" y="357.55" width="9.27" height="9.30" fill="#dae8f6"/>
<rect x="1231.10" y="357.55" width="9.27" height="9.30" fill="#dae8f6"/>
<g class="cw"><text x="959.1" y="76.7">0.87</text><text x="968.3" y="86.0">0.68</text><text x="977.6" y="95.2">0.78</text><text x="986.8" y="104.5">0.68</text><text x="996.0" y="113.7">0.76</text><text x="1005.2" y="123.0">0.73</text><text x="1014.4" y="132.2">0.58</text><text x="1023.6" y="141.5">0.90</text><text x="1032.9" y="150.7">0.87</text><text x="1042.1" y="160.0">0.89</text><text x="1051.3" y="169.2">0.92</text><text x="1060.5" y="178.5">0.87</text><text x="1069.8" y="187.7">0.70</text><text x="1079.0" y="197.0">0.92</text><text x="1088.2" y="206.2">0.73</text><text x="1097.4" y="215.5">0.73</text><text x="1106.6" y="224.7">0.87</text><text x="1115.8" y="234.0">0.78</text><text x="1125.1" y="243.2">0.87</text><text x="1134.3" y="252.5">0.80</text><text x="1143.5" y="261.7">0.87</text><text x="1152.7" y="271.0">0.86</text><text x="1161.9" y="280.2">0.87</text><text x="1171.2" y="289.5">0.79</text><text x="1180.4" y="298.7">0.77</text><text x="1189.6" y="308.0">0.86</text><text x="1198.8" y="317.2">0.78</text><text x="1208.0" y="326.5">0.79</text><text x="1217.3" y="335.7">0.68</text><text x="1226.5" y="345.0">0.73</text><text x="1235.7" y="354.2">0.87</text><text x="1014.4" y="363.5">0.52</text></g>
<g class="ck"><text x="959.1" y="86.0">0.07</text><text x="986.8" y="86.0">0.14</text><text x="1088.2" y="95.2">0.07</text><text x="1014.4" y="104.5">0.10</text><text x="1115.8" y="104.5">0.10</text><text x="1097.4" y="123.0">0.10</text><text x="1069.8" y="132.2">0.10</text><text x="1097.4" y="132.2">0.10</text><text x="1005.2" y="150.7">0.10</text><text x="1088.2" y="178.5">0.07</text><text x="1161.9" y="197.0">0.10</text><text x="1106.6" y="206.2">0.20</text><text x="968.3" y="215.5">0.10</text><text x="1115.8" y="224.7">0.10</text><text x="977.6" y="234.0">0.10</text><text x="1097.4" y="234.0">0.10</text><text x="968.3" y="252.5">0.10</text><text x="1005.2" y="261.7">0.10</text><text x="1079.0" y="289.5">0.07</text><text x="986.8" y="335.7">0.10</text><text x="1180.4" y="335.7">0.10</text><text x="1244.9" y="76.7">0.01</text><text x="1244.9" y="86.0">0.01</text><text x="1244.9" y="95.2">0.01</text><text x="1244.9" y="104.5">0.01</text><text x="1244.9" y="113.7">0.01</text><text x="1244.9" y="123.0">0.01</text><text x="1244.9" y="132.2">0.01</text><text x="1244.9" y="141.5">0.01</text><text x="1244.9" y="150.7">0.01</text><text x="1244.9" y="160.0">0.01</text><text x="1244.9" y="169.2">0.01</text><text x="1244.9" y="178.5">0.22</text><text x="1244.9" y="187.7">0.01</text><text x="1244.9" y="197.0">0.01</text><text x="1244.9" y="206.2">0.01</text><text x="1244.9" y="215.5">0.01</text><text x="1244.9" y="224.7">0.01</text><text x="1244.9" y="234.0">0.01</text><text x="1244.9" y="243.2">0.01</text><text x="1244.9" y="252.5">0.01</text><text x="1244.9" y="261.7">0.01</text><text x="1244.9" y="271.0">0.01</text><text x="1244.9" y="280.2">0.01</text><text x="1244.9" y="289.5">0.22</text><text x="1244.9" y="298.7">0.01</text><text x="1244.9" y="308.0">0.01</text><text x="1244.9" y="317.2">0.01</text><text x="1244.9" y="326.5">0.01</text><text x="1244.9" y="335.7">0.01</text><text x="1244.9" y="345.0">0.01</text><text x="1244.9" y="354.2">0.01</text><text x="959.1" y="363.5">0.12</text><text x="968.3" y="363.5">0.24</text><text x="977.6" y="363.5">0.24</text><text x="986.8" y="363.5">0.23</text><text x="996.0" y="363.5">0.24</text><text x="1005.2" y="363.5">0.22</text><text x="1023.6" y="363.5">0.14</text><text x="1032.9" y="363.5">0.14</text><text x="1042.1" y="363.5">0.14</text><text x="1051.3" y="363.5">0.14</text><text x="1060.5" y="363.5">0.14</text><text x="1069.8" y="363.5">0.24</text><text x="1079.0" y="363.5">0.12</text><text x="1088.2" y="363.5">0.24</text><text x="1097.4" y="363.5">0.14</text><text x="1106.6" y="363.5">0.14</text><text x="1115.8" y="363.5">0.14</text><text x="1125.1" y="363.5">0.14</text><text x="1134.3" y="363.5">0.14</text><text x="1143.5" y="363.5">0.14</text><text x="1152.7" y="363.5">0.14</text><text x="1161.9" y="363.5">0.14</text><text x="1171.2" y="363.5">0.14</text><text x="1180.4" y="363.5">0.14</text><text x="1189.6" y="363.5">0.14</text><text x="1198.8" y="363.5">0.14</text><text x="1208.0" y="363.5">0.14</text><text x="1217.3" y="363.5">0.14</text><text x="1226.5" y="363.5">0.14</text><text x="1235.7" y="363.5">0.14</text></g>
<g class="tk" font-size="5"><text transform="translate(949.3,75.4) rotate(-90)">0</text><text transform="translate(949.3,84.7) rotate(-90)">1</text><text transform="translate(949.3,93.9) rotate(-90)">2</text><text transform="translate(949.3,103.2) rotate(-90)">3</text><text transform="translate(949.3,112.4) rotate(-90)">4</text><text transform="translate(949.3,121.7) rotate(-90)">5</text><text transform="translate(949.3,130.9) rotate(-90)">6</text><text transform="translate(949.3,140.2) rotate(-90)">7</text><text transform="translate(949.3,149.4) rotate(-90)">8</text><text transform="translate(949.3,158.7) rotate(-90)">9</text><text transform="translate(949.3,167.9) rotate(-90)">10</text><text transform="translate(949.3,177.2) rotate(-90)">11</text><text transform="translate(949.3,186.4) rotate(-90)">12</text><text transform="translate(949.3,195.7) rotate(-90)">13</text><text transform="translate(949.3,204.9) rotate(-90)">14</text><text transform="translate(949.3,214.2) rotate(-90)">15</text><text transform="translate(949.3,223.4) rotate(-90)">16</text><text transform="translate(949.3,232.7) rotate(-90)">17</text><text transform="translate(949.3,241.9) rotate(-90)">18</text><text transform="translate(949.3,251.2) rotate(-90)">19</text><text transform="translate(949.3,260.4) rotate(-90)">20</text><text transform="translate(949.3,269.7) rotate(-90)">21</text><text transform="translate(949.3,278.9) rotate(-90)">22</text><text transform="translate(949.3,288.2) rotate(-90)">23</text><text transform="translate(949.3,297.4) rotate(-90)">24</text><text transform="translate(949.3,306.7) rotate(-90)">25</text><text transform="translate(949.3,315.9) rotate(-90)">26</text><text transform="translate(949.3,325.2) rotate(-90)">27</text><text transform="translate(949.3,334.4) rotate(-90)">28</text><text transform="translate(949.3,343.7) rotate(-90)">29</text><text transform="translate(949.3,352.9) rotate(-90)">30</text><text transform="translate(949.3,362.2) rotate(-90)">31</text></g>
<g class="tk" font-size="5.6"><text x="959.1" y="376.2">0</text><text x="968.3" y="376.2">1</text><text x="977.6" y="376.2">2</text><text x="986.8" y="376.2">3</text><text x="996.0" y="376.2">4</text><text x="1005.2" y="376.2">5</text><text x="1014.4" y="376.2">6</text><text x="1023.6" y="376.2">7</text><text x="1032.9" y="376.2">8</text><text x="1042.1" y="376.2">9</text><text x="1051.3" y="376.2">10</text><text x="1060.5" y="376.2">11</text><text x="1069.8" y="376.2">12</text><text x="1079.0" y="376.2">13</text><text x="1088.2" y="376.2">14</text><text x="1097.4" y="376.2">15</text><text x="1106.6" y="376.2">16</text><text x="1115.8" y="376.2">17</text><text x="1125.1" y="376.2">18</text><text x="1134.3" y="376.2">19</text><text x="1143.5" y="376.2">20</text><text x="1152.7" y="376.2">21</text><text x="1161.9" y="376.2">22</text><text x="1171.2" y="376.2">23</text><text x="1180.4" y="376.2">24</text><text x="1189.6" y="376.2">25</text><text x="1198.8" y="376.2">26</text><text x="1208.0" y="376.2">27</text><text x="1217.3" y="376.2">28</text><text x="1226.5" y="376.2">29</text><text x="1235.7" y="376.2">30</text><text x="1244.9" y="376.2">31</text></g>
<text transform="translate(940.90,232.0) rotate(-90)" font-size="5.4" fill="#000" stroke="#000" stroke-width="0.2" textLength="28.6" lengthAdjust="spacingAndGlyphs">Predicted</text>
<text x="1102.50" y="384.2" font-size="5.2" fill="#000" stroke="#000" stroke-width="0.2" text-anchor="middle">True</text>
<text x="1075.20" y="68.1" font-size="7.2" fill="#000" stroke="#000" stroke-width="0.2" textLength="53.0" lengthAdjust="spacingAndGlyphs">YOLOv4 normalize</text>
<defs><linearGradient id="cb954" x1="0" y1="1" x2="0" y2="0">
<stop offset="0.00" stop-color="#f7fbff"/>
<stop offset="0.10" stop-color="#e3eef9"/>
<stop offset="0.20" stop-color="#d0e1f2"/>
<stop offset="0.30" stop-color="#b7d4ea"/>
<stop offset="0.40" stop-color="#94c4df"/>
<stop offset="0.50" stop-color="#6aaed6"/>
<stop offset="0.60" stop-color="#4a98c9"/>
<stop offset="0.70" stop-color="#2e7ebc"/>
<stop offset="0.80" stop-color="#1764ab"/>
<stop offset="0.90" stop-color="#084a91"/>
<stop offset="1.00" stop-color="#08306b"/>
</linearGradient></defs>
<rect x="1271" y="70.8" width="15" height="296.0" fill="url(#cb954)"/>
<line x1="1286" y1="122.17" x2="1288.8" y2="122.17" stroke="#111" stroke-width="0.7"/>
<text x="1291" y="123.97" font-size="5.1" fill="#000" stroke="#000" stroke-width="0.2">0.8</text>
<line x1="1286" y1="183.33" x2="1288.8" y2="183.33" stroke="#111" stroke-width="0.7"/>
<text x="1291" y="185.13" font-size="5.1" fill="#000" stroke="#000" stroke-width="0.2">0.6</text>
<line x1="1286" y1="244.49" x2="1288.8" y2="244.49" stroke="#111" stroke-width="0.7"/>
<text x="1291" y="246.29" font-size="5.1" fill="#000" stroke="#000" stroke-width="0.2">0.4</text>
<line x1="1286" y1="305.64" x2="1288.8" y2="305.64" stroke="#111" stroke-width="0.7"/>
<text x="1291" y="307.44" font-size="5.1" fill="#000" stroke="#000" stroke-width="0.2">0.2</text>
<line x1="1286" y1="366.80" x2="1288.8" y2="366.80" stroke="#111" stroke-width="0.7"/>
<text x="1291" y="368.60" font-size="5.1" fill="#000" stroke="#000" stroke-width="0.2">0.0</text>
<rect x="1392.6" y="74.9" width="10.23" height="9.57" fill="#1764ab"/><rect x="1402.8" y="74.9" width="10.23" height="9.57" fill="#f7fbff"/><rect x="1413.0" y="74.9" width="10.23" height="9.57" fill="#f3f8fe"/><rect x="1423.1" y="74.9" width="10.23" height="9.57" fill="#f3f8fe"/><rect x="1433.3" y="74.9" width="10.23" height="9.57" fill="#f7fbff"/><rect x="1443.5" y="74.9" width="10.23" height="9.57" fill="#f5fafe"/><rect x="1453.7" y="74.9" width="10.23" height="9.57" fill="#f3f8fe"/><rect x="1463.9" y="74.9" width="10.23" height="9.57" fill="#f5fafe"/><rect x="1474.0" y="74.9" width="10.23" height="9.57" fill="#f3f8fe"/><rect x="1484.2" y="74.9" width="10.23" height="9.57" fill="#f3f8fe"/><rect x="1494.4" y="74.9" width="10.23" height="9.57" fill="#f7fbff"/><rect x="1504.6" y="74.9" width="10.23" height="9.57" fill="#f3f8fe"/><rect x="1514.8" y="74.9" width="10.23" height="9.57" fill="#f7fbff"/><rect x="1524.9" y="74.9" width="10.23" height="9.57" fill="#f2f7fd"/><rect x="1535.1" y="74.9" width="10.23" height="9.57" fill="#f5fafe"/><rect x="1545.3" y="74.9" width="10.23" height="9.57" fill="#f5fafe"/><rect x="1555.5" y="74.9" width="10.23" height="9.57" fill="#f3f8fe"/><rect x="1565.7" y="74.9" width="10.23" height="9.57" fill="#f7fbff"/><rect x="1575.8" y="74.9" width="10.23" height="9.57" fill="#f7fbff"/><rect x="1586.0" y="74.9" width="10.23" height="9.57" fill="#f3f8fe"/><rect x="1596.2" y="74.9" width="10.23" height="9.57" fill="#f5fafe"/><rect x="1606.4" y="74.9" width="10.23" height="9.57" fill="#f3f8fe"/><rect x="1616.6" y="74.9" width="10.23" height="9.57" fill="#f2f7fd"/><rect x="1626.7" y="74.9" width="10.23" height="9.57" fill="#f3f8fe"/><rect x="1636.9" y="74.9" width="10.23" height="9.57" fill="#f5fafe"/><rect x="1647.1" y="74.9" width="10.23" height="9.57" fill="#f5fafe"/><rect x="1657.3" y="74.9" width="10.23" height="9.57" fill="#f3f8fe"/><rect x="1667.5" y="74.9" width="10.23" height="9.57" fill="#f2f7fd"/><rect x="1677.6" y="74.9" width="10.23" height="9.57" fill="#f7fbff"/><rect x="1687.8" y="74.9" width="10.23" height="9.57" fill="#f7fbff"/><rect x="1698.0" y="74.9" width="10.23" height="9.57" fill="#f3f8fe"/><rect x="1708.2" y="74.9" width="10.23" height="9.57" fill="#f7fbff"/><rect x="1392.6" y="84.4" width="10.23" height="9.57" fill="#f2f7fd"/><rect x="1402.8" y="84.4" width="10.23" height="9.57" fill="#083776"/><rect x="1413.0" y="84.4" width="10.23" height="9.57" fill="#f3f8fe"/><rect x="1423.1" y="84.4" width="10.23" height="9.57" fill="#f5fafe"/><rect x="1433.3" y="84.4" width="10.23" height="9.57" fill="#f3f8fe"/><rect x="1443.5" y="84.4" width="10.23" height="9.57" fill="#f7fbff"/><rect x="1453.7" y="84.4" width="10.23" height="9.57" fill="#f3f8fe"/><rect x="1463.9" y="84.4" width="10.23" height="9.57" fill="#f2f7fd"/><rect x="1474.0" y="84.4" width="10.23" height="9.57" fill="#f7fbff"/><rect x="1484.2" y="84.4" width="10.23" height="9.57" fill="#f7fbff"/><rect x="1494.4" y="84.4" width="10.23" height="9.57" fill="#f2f7fd"/><rect x="1504.6" y="84.4" width="10.23" height="9.57" fill="#f3f8fe"/><rect x="1514.8" y="84.4" width="10.23" height="9.57" fill="#f7fbff"/><rect x="1524.9" y="84.4" width="10.23" height="9.57" fill="#f5fafe"/><rect x="1535.1" y="84.4" width="10.23" height="9.57" fill="#f2f7fd"/><rect x="1545.3" y="84.4" width="10.23" height="9.57" fill="#f7fbff"/><rect x="1555.5" y="84.4" width="10.23" height="9.57" fill="#f2f7fd"/><rect x="1565.7" y="84.4" width="10.23" height="9.57" fill="#f2f7fd"/><rect x="1575.8" y="84.4" width="10.23" height="9.57" fill="#f5fafe"/><rect x="1586.0" y="84.4" width="10.23" height="9.57" fill="#f5fafe"/><rect x="1596.2" y="84.4" width="10.23" height="9.57" fill="#f3f8fe"/><rect x="1606.4" y="84.4" width="10.23" height="9.57" fill="#f3f8fe"/><rect x="1616.6" y="84.4" width="10.23" height="9.57" fill="#f5fafe"/><rect x="1626.7" y="84.4" width="10.23" height="9.57" fill="#f3f8fe"/><rect x="1636.9" y="84.4" width="10.23" height="9.57" fill="#f2f7fd"/><rect x="1647.1" y="84.4" width="10.23" height="9.57" fill="#f5fafe"/><rect x="1657.3" y="84.4" width="10.23" height="9.57" fill="#f5fafe"/><rect x="1667.5" y="84.4" width="10.23" height="9.57" fill="#f3f8fe"/><rect x="1677.6" y="84.4" width="10.23" height="9.57" fill="#f2f7fd"/><rect x="1687.8" y="84.4" width="10.23" height="9.57" fill="#f3f8fe"/><rect x="1698.0" y="84.4" width="10.23" height="9.57" fill="#f5fafe"/><rect x="1708.2" y="84.4" width="10.23" height="9.57" fill="#f7fbff"/><rect x="1392.6" y="93.9" width="10.23" height="9.57" fill="#f5fafe"/><rect x="1402.8" y="93.9" width="10.23" height="9.57" fill="#f7fbff"/><rect x="1413.0" y="93.9" width="10.23" height="9.57" fill="#083776"/><rect x="1423.1" y="93.9" width="10.23" height="9.57" fill="#f7fbff"/><rect x="1433.3" y="93.9" width="10.23" height="9.57" fill="#f7fbff"/><rect x="1443.5" y="93.9" width="10.23" height="9.57" fill="#f5fafe"/><rect x="1453.7" y="93.9" width="10.23" height="9.57" fill="#f7fbff"/><rect x="1463.9" y="93.9" width="10.23" height="9.57" fill="#f5fafe"/><rect x="1474.0" y="93.9" width="10.23" height="9.57" fill="#f3f8fe"/><rect x="1484.2" y="93.9" width="10.23" height="9.57" fill="#f5fafe"/><rect x="1494.4" y="93.9" width="10.23" height="9.57" fill="#f2f7fd"/><rect x="1504.6" y="93.9" width="10.23" height="9.57" fill="#f3f8fe"/><rect x="1514.8" y="93.9" width="10.23" height="9.57" fill="#f2f7fd"/><rect x="1524.9" y="93.9" width="10.23" height="9.57" fill="#f5fafe"/><rect x="1535.1" y="93.9" width="10.23" height="9.57" fill="#f5fafe"/><rect x="1545.3" y="93.9" width="10.23" height="9.57" fill="#f3f8fe"/><rect x="1555.5" y="93.9" width="10.23" height="9.57" fill="#f2f7fd"/><rect x="1565.7" y="93.9" width="10.23" height="9.57" fill="#f5fafe"/><rect x="1575.8" y="93.9" width="10.23" height="9.57" fill="#f3f8fe"/><rect x="1586.0" y="93.9" width="10.23" height="9.57" fill="#f5fafe"/><rect x="1596.2" y="93.9" width="10.23" height="9.57" fill="#f3f8fe"/><rect x="1606.4" y="93.9" width="10.23" height="9.57" fill="#f3f8fe"/><rect x="1616.6" y="93.9" width="10.23" height="9.57" fill="#f5fafe"/><rect x="1626.7" y="93.9" width="10.23" height="9.57" fill="#f3f8fe"/><rect x="1636.9" y="93.9" width="10.23" height="9.57" fill="#f7fbff"/><rect x="1647.1" y="93.9" width="10.23" height="9.57" fill="#f5fafe"/><rect x="1657.3" y="93.9" width="10.23" height="9.57" fill="#f3f8fe"/><rect x="1667.5" y="93.9" width="10.23" height="9.57" fill="#f7fbff"/><rect x="1677.6" y="93.9" width="10.23" height="9.57" fill="#f2f7fd"/><rect x="1687.8" y="93.9" width="10.23" height="9.57" fill="#f5fafe"/><rect x="1698.0" y="93.9" width="10.23" height="9.57" fill="#f3f8fe"/><rect x="1708.2" y="93.9" width="10.23" height="9.57" fill="#f3f8fe"/><rect x="1392.6" y="103.5" width="10.23" height="9.57" fill="#f3f8fe"/><rect x="1402.8" y="103.5" width="10.23" height="9.57" fill="#f7fbff"/><rect x="1413.0" y="103.5" width="10.23" height="9.57" fill="#f3f8fe"/><rect x="1423.1" y="103.5" width="10.23" height="9.57" fill="#083c7d"/><rect x="1433.3" y="103.5" width="10.23" height="9.57" fill="#f2f7fd"/><rect x="1443.5" y="103.5" width="10.23" height="9.57" fill="#f5fafe"/><rect x="1453.7" y="103.5" width="10.23" height="9.57" fill="#f3f8fe"/><rect x="1463.9" y="103.5" width="10.23" height="9.57" fill="#f3f8fe"/><rect x="1474.0" y="103.5" width="10.23" height="9.57" fill="#f3f8fe"/><rect x="1484.2" y="103.5" width="10.23" height="9.57" fill="#f7fbff"/><rect x="1494.4" y="103.5" width="10.23" height="9.57" fill="#f3f8fe"/><rect x="1504.6" y="103.5" width="10.23" height="9.57" fill="#f3f8fe"/><rect x="1514.8" y="103.5" width="10.23" height="9.57" fill="#f7fbff"/><rect x="1524.9" y="103.5" width="10.23" height="9.57" fill="#f3f8fe"/><rect x="1535.1" y="103.5" width="10.23" height="9.57" fill="#f2f7fd"/><rect x="1545.3" y="103.5" width="10.23" height="9.57" fill="#f3f8fe"/><rect x="1555.5" y="103.5" width="10.23" height="9.57" fill="#f5fafe"/><rect x="1565.7" y="103.5" width="10.23" height="9.57" fill="#f5fafe"/><rect x="1575.8" y="103.5" width="10.23" height="9.57" fill="#f7fbff"/><rect x="1586.0" y="103.5" width="10.23" height="9.57" fill="#f7fbff"/><rect x="1596.2" y="103.5" width="10.23" height="9.57" fill="#f5fafe"/><rect x="1606.4" y="103.5" width="10.23" height="9.57" fill="#f2f7fd"/><rect x="1616.6" y="103.5" width="10.23" height="9.57" fill="#f3f8fe"/><rect x="1626.7" y="103.5" width="10.23" height="9.57" fill="#f5fafe"/><rect x="1636.9" y="103.5" width="10.23" height="9.57" fill="#f7fbff"/><rect x="1647.1" y="103.5" width="10.23" height="9.57" fill="#f5fafe"/><rect x="1657.3" y="103.5" width="10.23" height="9.57" fill="#f2f7fd"/><rect x="1667.5" y="103.5" width="10.23" height="9.57" fill="#f7fbff"/><rect x="1677.6" y="103.5" width="10.23" height="9.57" fill="#f5fafe"/><rect x="1687.8" y="103.5" width="10.23" height="9.57" fill="#f7fbff"/><rect x="1698.0" y="103.5" width="10.23" height="9.57" fill="#f7fbff"/><rect x="1708.2" y="103.5" width="10.23" height="9.57" fill="#f5fafe"/><rect x="1392.6" y="113.0" width="10.23" height="9.57" fill="#f5fafe"/><rect x="1402.8" y="113.0" width="10.23" height="9.57" fill="#f2f7fd"/><rect x="1413.0" y="113.0" width="10.23" height="9.57" fill="#f5fafe"/><rect x="1423.1" y="113.0" width="10.23" height="9.57" fill="#f2f7fd"/><rect x="1433.3" y="113.0" width="10.23" height="9.57" fill="#083776"/><rect x="1443.5" y="113.0" width="10.23" height="9.57" fill="#f7fbff"/><rect x="1453.7" y="113.0" width="10.23" height="9.57" fill="#f7fbff"/><rect x="1463.9" y="113.0" width="10.23" height="9.57" fill="#f3f8fe"/><rect x="1474.0" y="113.0" width="10.23" height="9.57" fill="#f3f8fe"/><rect x="1484.2" y="113.0" width="10.23" height="9.57" fill="#f2f7fd"/><rect x="1494.4" y="113.0" width="10.23" height="9.57" fill="#f7fbff"/><rect x="1504.6" y="113.0" width="10.23" height="9.57" fill="#f5fafe"/><rect x="1514.8" y="113.0" width="10.23" height="9.57" fill="#f3f8fe"/><rect x="1524.9" y="113.0" width="10.23" height="9.57" fill="#f3f8fe"/><rect x="1535.1" y="113.0" width="10.23" height="9.57" fill="#f5fafe"/><rect x="1545.3" y="113.0" width="10.23" height="9.57" fill="#f3f8fe"/><rect x="1555.5" y="113.0" width="10.23" height="9.57" fill="#f5fafe"/><rect x="1565.7" y="113.0" width="10.23" height="9.57" fill="#f3f8fe"/><rect x="1575.8" y="113.0" width="10.23" height="9.57" fill="#f7fbff"/><rect x="1586.0" y="113.0" width="10.23" height="9.57" fill="#f7fbff"/><rect x="1596.2" y="113.0" width="10.23" height="9.57" fill="#f5fafe"/><rect x="1606.4" y="113.0" width="10.23" height="9.57" fill="#f7fbff"/><rect x="1616.6" y="113.0" width="10.23" height="9.57" fill="#f7fbff"/><rect x="1626.7" y="113.0" width="10.23" height="9.57" fill="#f7fbff"/><rect x="1636.9" y="113.0" width="10.23" height="9.57" fill="#f3f8fe"/><rect x="1647.1" y="113.0" width="10.23" height="9.57" fill="#f3f8fe"/><rect x="1657.3" y="113.0" width="10.23" height="9.57" fill="#f7fbff"/><rect x="1667.5" y="113.0" width="10.23" height="9.57" fill="#f7fbff"/><rect x="1677.6" y="113.0" width="10.23" height="9.57" fill="#f5fafe"/><rect x="1687.8" y="113.0" width="10.23" height="9.57" fill="#f5fafe"/><rect x="1698.0" y="113.0" width="10.23" height="9.57" fill="#f3f8fe"/><rect x="1708.2" y="113.0" width="10.23" height="9.57" fill="#f5fafe"/><rect x="1392.6" y="122.5" width="10.23" height="9.57" fill="#f7fbff"/><rect x="1402.8" y="122.5" width="10.23" height="9.57" fill="#f3f8fe"/><rect x="1413.0" y="122.5" width="10.23" height="9.57" fill="#f7fbff"/><rect x="1423.1" y="122.5" width="10.23" height="9.57" fill="#f2f7fd"/><rect x="1433.3" y="122.5" width="10.23" height="9.57" fill="#f5fafe"/><rect x="1443.5" y="122.5" width="10.23" height="9.57" fill="#083c7d"/><rect x="1453.7" y="122.5" width="10.23" height="9.57" fill="#f5fafe"/><rect x="1463.9" y="122.5" width="10.23" height="9.57" fill="#f5fafe"/><rect x="1474.0" y="122.5" width="10.23" height="9.57" fill="#f7fbff"/><rect x="1484.2" y="122.5" width="10.23" height="9.57" fill="#f2f7fd"/><rect x="1494.4" y="122.5" width="10.23" height="9.57" fill="#f5fafe"/><rect x="1504.6" y="122.5" width="10.23" height="9.57" fill="#f5fafe"/><rect x="1514.8" y="122.5" width="10.23" height="9.57" fill="#f5fafe"/><rect x="1524.9" y="122.5" width="10.23" height="9.57" fill="#f2f7fd"/><rect x="1535.1" y="122.5" width="10.23" height="9.57" fill="#f3f8fe"/><rect x="1545.3" y="122.5" width="10.23" height="9.57" fill="#f5fafe"/><rect x="1555.5" y="122.5" width="10.23" height="9.57" fill="#f3f8fe"/><rect x="1565.7" y="122.5" width="10.23" height="9.57" fill="#f2f7fd"/><rect x="1575.8" y="122.5" width="10.23" height="9.57" fill="#f3f8fe"/><rect x="1586.0" y="122.5" width="10.23" height="9.57" fill="#f3f8fe"/><rect x="1596.2" y="122.5" width="10.23" height="9.57" fill="#f3f8fe"/><rect x="1606.4" y="122.5" width="10.23" height="9.57" fill="#f7fbff"/><rect x="1616.6" y="122.5" width="10.23" height="9.57" fill="#f3f8fe"/><rect x="1626.7" y="122.5" width="10.23" height="9.57" fill="#f2f7fd"/><rect x="1636.9" y="122.5" width="10.23" height="9.57" fill="#f3f8fe"/><rect x="1647.1" y="122.5" width="10.23" height="9.57" fill="#f5fafe"/><rect x="1657.3" y="122.5" width="10.23" height="9.57" fill="#f5fafe"/><rect x="1667.5" y="122.5" width="10.23" height="9.57" fill="#f3f8fe"/><rect x="1677.6" y="122.5" width="10.23" height="9.57" fill="#f3f8fe"/><rect x="1687.8" y="122.5" width="10.23" height="9.57" fill="#f3f8fe"/><rect x="1698.0" y="122.5" width="10.23" height="9.57" fill="#f7fbff"/><rect x="1708.2" y="122.5" width="10.23" height="9.57" fill="#f5fafe"/><rect x="1392.6" y="132.0" width="10.23" height="9.57" fill="#f5fafe"/><rect x="1402.8" y="132.0" width="10.23" height="9.57" fill="#f5fafe"/><rect x="1413.0" y="132.0" width="10.23" height="9.57" fill="#f3f8fe"/><rect x="1423.1" y="132.0" width="10.23" height="9.57" fill="#f5fafe"/><rect x="1433.3" y="132.0" width="10.23" height="9.57" fill="#f3f8fe"/><rect x="1443.5" y="132.0" width="10.23" height="9.57" fill="#f5fafe"/><rect x="1453.7" y="132.0" width="10.23" height="9.57" fill="#083a7a"/><rect x="1463.9" y="132.0" width="10.23" height="9.57" fill="#f7fbff"/><rect x="1474.0" y="132.0" width="10.23" height="9.57" fill="#f2f7fd"/><rect x="1484.2" y="132.0" width="10.23" height="9.57" fill="#f5fafe"/><rect x="1494.4" y="132.0" width="10.23" height="9.57" fill="#f3f8fe"/><rect x="1504.6" y="132.0" width="10.23" height="9.57" fill="#f5fafe"/><rect x="1514.8" y="132.0" width="10.23" height="9.57" fill="#f7fbff"/><rect x="1524.9" y="132.0" width="10.23" height="9.57" fill="#f5fafe"/><rect x="1535.1" y="132.0" width="10.23" height="9.57" fill="#f3f8fe"/><rect x="1545.3" y="132.0" width="10.23" height="9.57" fill="#f3f8fe"/><rect x="1555.5" y="132.0" width="10.23" height="9.57" fill="#f3f8fe"/><rect x="1565.7" y="132.0" width="10.23" height="9.57" fill="#f7fbff"/><rect x="1575.8" y="132.0" width="10.23" height="9.57" fill="#f7fbff"/><rect x="1586.0" y="132.0" width="10.23" height="9.57" fill="#f3f8fe"/><rect x="1596.2" y="132.0" width="10.23" height="9.57" fill="#f3f8fe"/><rect x="1606.4" y="132.0" width="10.23" height="9.57" fill="#f5fafe"/><rect x="1616.6" y="132.0" width="10.23" height="9.57" fill="#f5fafe"/><rect x="1626.7" y="132.0" width="10.23" height="9.57" fill="#f5fafe"/><rect x="1636.9" y="132.0" width="10.23" height="9.57" fill="#f3f8fe"/><rect x="1647.1" y="132.0" width="10.23" height="9.57" fill="#f5fafe"/><rect x="1657.3" y="132.0" width="10.23" height="9.57" fill="#f3f8fe"/><rect x="1667.5" y="132.0" width="10.23" height="9.57" fill="#f3f8fe"/><rect x="1677.6" y="132.0" width="10.23" height="9.57" fill="#f5fafe"/><rect x="1687.8" y="132.0" width="10.23" height="9.57" fill="#f3f8fe"/><rect x="1698.0" y="132.0" width="10.23" height="9.57" fill="#f5fafe"/><rect x="1708.2" y="132.0" width="10.23" height="9.57" fill="#f7fbff"/><rect x="1392.6" y="141.5" width="10.23" height="9.57" fill="#f3f8fe"/><rect x="1402.8" y="141.5" width="10.23" height="9.57" fill="#f7fbff"/><rect x="1413.0" y="141.5" width="10.23" height="9.57" fill="#f3f8fe"/><rect x="1423.1" y="141.5" width="10.23" height="9.57" fill="#f7fbff"/><rect x="1433.3" y="141.5" width="10.23" height="9.57" fill="#f5fafe"/><rect x="1443.5" y="141.5" width="10.23" height="9.57" fill="#f5fafe"/><rect x="1453.7" y="141.5" width="10.23" height="9.57" fill="#f3f8fe"/><rect x="1463.9" y="141.5" width="10.23" height="9.57" fill="#084082"/><rect x="1474.0" y="141.5" width="10.23" height="9.57" fill="#f5fafe"/><rect x="1484.2" y="141.5" width="10.23" height="9.57" fill="#f5fafe"/><rect x="1494.4" y="141.5" width="10.23" height="9.57" fill="#f3f8fe"/><rect x="1504.6" y="141.5" width="10.23" height="9.57" fill="#f3f8fe"/><rect x="1514.8" y="141.5" width="10.23" height="9.57" fill="#f5fafe"/><rect x="1524.9" y="141.5" width="10.23" height="9.57" fill="#f7fbff"/><rect x="1535.1" y="141.5" width="10.23" height="9.57" fill="#f5fafe"/><rect x="1545.3" y="141.5" width="10.23" height="9.57" fill="#f7fbff"/><rect x="1555.5" y="141.5" width="10.23" height="9.57" fill="#f5fafe"/><rect x="1565.7" y="141.5" width="10.23" height="9.57" fill="#f2f7fd"/><rect x="1575.8" y="141.5" width="10.23" height="9.57" fill="#f5fafe"/><rect x="1586.0" y="141.5" width="10.23" height="9.57" fill="#f2f7fd"/><rect x="1596.2" y="141.5" width="10.23" height="9.57" fill="#f3f8fe"/><rect x="1606.4" y="141.5" width="10.23" height="9.57" fill="#f5fafe"/><rect x="1616.6" y="141.5" width="10.23" height="9.57" fill="#f5fafe"/><rect x="1626.7" y="141.5" width="10.23" height="9.57" fill="#f2f7fd"/><rect x="1636.9" y="141.5" width="10.23" height="9.57" fill="#f5fafe"/><rect x="1647.1" y="141.5" width="10.23" height="9.57" fill="#f7fbff"/><rect x="1657.3" y="141.5" width="10.23" height="9.57" fill="#f2f7fd"/><rect x="1667.5" y="141.5" width="10.23" height="9.57" fill="#f2f7fd"/><rect x="1677.6" y="141.5" width="10.23" height="9.57" fill="#f7fbff"/><rect x="1687.8" y="141.5" width="10.23" height="9.57" fill="#f3f8fe"/><rect x="1698.0" y="141.5" width="10.23" height="9.57" fill="#f3f8fe"/><rect x="1708.2" y="141.5" width="10.23" height="9.57" fill="#f3f8fe"/><rect x="1392.6" y="151.1" width="10.23" height="9.57" fill="#f7fbff"/><rect x="1402.8" y="151.1" width="10.23" height="9.57" fill="#f5fafe"/><rect x="1413.0" y="151.1" width="10.23" height="9.57" fill="#f3f8fe"/><rect x="1423.1" y="151.1" width="10.23" height="9.57" fill="#f7fbff"/><rect x="1433.3" y="151.1" width="10.23" height="9.57" fill="#f3f8fe"/><rect x="1443.5" y="151.1" width="10.23" height="9.57" fill="#f2f7fd"/><rect x="1453.7" y="151.1" width="10.23" height="9.57" fill="#f5fafe"/><rect x="1463.9" y="151.1" width="10.23" height="9.57" fill="#f7fbff"/><rect x="1474.0" y="151.1" width="10.23" height="9.57" fill="#083a7a"/><rect x="1484.2" y="151.1" width="10.23" height="9.57" fill="#f5fafe"/><rect x="1494.4" y="151.1" width="10.23" height="9.57" fill="#f7fbff"/><rect x="1504.6" y="151.1" width="10.23" height="9.57" fill="#f3f8fe"/><rect x="1514.8" y="151.1" width="10.23" height="9.57" fill="#f5fafe"/><rect x="1524.9" y="151.1" width="10.23" height="9.57" fill="#f3f8fe"/><rect x="1535.1" y="151.1" width="10.23" height="9.57" fill="#f3f8fe"/><rect x="1545.3" y="151.1" width="10.23" height="9.57" fill="#f7fbff"/><rect x="1555.5" y="151.1" width="10.23" height="9.57" fill="#f7fbff"/><rect x="1565.7" y="151.1" width="10.23" height="9.57" fill="#f3f8fe"/><rect x="1575.8" y="151.1" width="10.23" height="9.57" fill="#f5fafe"/><rect x="1586.0" y="151.1" width="10.23" height="9.57" fill="#f5fafe"/><rect x="1596.2" y="151.1" width="10.23" height="9.57" fill="#f3f8fe"/><rect x="1606.4" y="151.1" width="10.23" height="9.57" fill="#f2f7fd"/><rect x="1616.6" y="151.1" width="10.23" height="9.57" fill="#f7fbff"/><rect x="1626.7" y="151.1" width="10.23" height="9.57" fill="#f5fafe"/><rect x="1636.9" y="151.1" width="10.23" height="9.57" fill="#f2f7fd"/><rect x="1647.1" y="151.1" width="10.23" height="9.57" fill="#f2f7fd"/><rect x="1657.3" y="151.1" width="10.23" height="9.57" fill="#f7fbff"/><rect x="1667.5" y="151.1" width="10.23" height="9.57" fill="#f7fbff"/><rect x="1677.6" y="151.1" width="10.23" height="9.57" fill="#f5fafe"/><rect x="1687.8" y="151.1" width="10.23" height="9.57" fill="#f3f8fe"/><rect x="1698.0" y="151.1" width="10.23" height="9.57" fill="#f3f8fe"/><rect x="1708.2" y="151.1" width="10.23" height="9.57" fill="#f7fbff"/><rect x="1392.6" y="160.6" width="10.23" height="9.57" fill="#f3f8fe"/><rect x="1402.8" y="160.6" width="10.23" height="9.57" fill="#f5fafe"/><rect x="1413.0" y="160.6" width="10.23" height="9.57" fill="#f5fafe"/><rect x="1423.1" y="160.6" width="10.23" height="9.57" fill="#f7fbff"/><rect x="1433.3" y="160.6" width="10.23" height="9.57" fill="#f2f7fd"/><rect x="1443.5" y="160.6" width="10.23" height="9.57" fill="#f7fbff"/><rect x="1453.7" y="160.6" width="10.23" height="9.57" fill="#f7fbff"/><rect x="1463.9" y="160.6" width="10.23" height="9.57" fill="#f3f8fe"/><rect x="1474.0" y="160.6" width="10.23" height="9.57" fill="#f7fbff"/><rect x="1484.2" y="160.6" width="10.23" height="9.57" fill="#135fa7"/><rect x="1494.4" y="160.6" width="10.23" height="9.57" fill="#f5fafe"/><rect x="1504.6" y="160.6" width="10.23" height="9.57" fill="#f2f7fd"/><rect x="1514.8" y="160.6" width="10.23" height="9.57" fill="#f2f7fd"/><rect x="1524.9" y="160.6" width="10.23" height="9.57" fill="#f2f7fd"/><rect x="1535.1" y="160.6" width="10.23" height="9.57" fill="#f3f8fe"/><rect x="1545.3" y="160.6" width="10.23" height="9.57" fill="#f7fbff"/><rect x="1555.5" y="160.6" width="10.23" height="9.57" fill="#f2f7fd"/><rect x="1565.7" y="160.6" width="10.23" height="9.57" fill="#f5fafe"/><rect x="1575.8" y="160.6" width="10.23" height="9.57" fill="#f5fafe"/><rect x="1586.0" y="160.6" width="10.23" height="9.57" fill="#f2f7fd"/><rect x="1596.2" y="160.6" width="10.23" height="9.57" fill="#f2f7fd"/><rect x="1606.4" y="160.6" width="10.23" height="9.57" fill="#f3f8fe"/><rect x="1616.6" y="160.6" width="10.23" height="9.57" fill="#f7fbff"/><rect x="1626.7" y="160.6" width="10.23" height="9.57" fill="#f2f7fd"/><rect x="1636.9" y="160.6" width="10.23" height="9.57" fill="#f3f8fe"/><rect x="1647.1" y="160.6" width="10.23" height="9.57" fill="#f5fafe"/><rect x="1657.3" y="160.6" width="10.23" height="9.57" fill="#f3f8fe"/><rect x="1667.5" y="160.6" width="10.23" height="9.57" fill="#f7fbff"/><rect x="1677.6" y="160.6" width="10.23" height="9.57" fill="#f5fafe"/><rect x="1687.8" y="160.6" width="10.23" height="9.57" fill="#f5fafe"/><rect x="1698.0" y="160.6" width="10.23" height="9.57" fill="#f3f8fe"/><rect x="1708.2" y="160.6" width="10.23" height="9.57" fill="#f2f7fd"/><rect x="1392.6" y="170.1" width="10.23" height="9.57" fill="#f2f7fd"/><rect x="1402.8" y="170.1" width="10.23" height="9.57" fill="#f5fafe"/><rect x="1413.0" y="170.1" width="10.23" height="9.57" fill="#f5fafe"/><rect x="1423.1" y="170.1" width="10.23" height="9.57" fill="#f5fafe"/><rect x="1433.3" y="170.1" width="10.23" height="9.57" fill="#f3f8fe"/><rect x="1443.5" y="170.1" width="10.23" height="9.57" fill="#f5fafe"/><rect x="1453.7" y="170.1" width="10.23" height="9.57" fill="#f5fafe"/><rect x="1463.9" y="170.1" width="10.23" height="9.57" fill="#f5fafe"/><rect x="1474.0" y="170.1" width="10.23" height="9.57" fill="#f3f8fe"/><rect x="1484.2" y="170.1" width="10.23" height="9.57" fill="#f5fafe"/><rect x="1494.4" y="170.1" width="10.23" height="9.57" fill="#083a7a"/><rect x="1504.6" y="170.1" width="10.23" height="9.57" fill="#f7fbff"/><rect x="1514.8" y="170.1" width="10.23" height="9.57" fill="#f5fafe"/><rect x="1524.9" y="170.1" width="10.23" height="9.57" fill="#f7fbff"/><rect x="1535.1" y="170.1" width="10.23" height="9.57" fill="#f7fbff"/><rect x="1545.3" y="170.1" width="10.23" height="9.57" fill="#f7fbff"/><rect x="1555.5" y="170.1" width="10.23" height="9.57" fill="#f5fafe"/><rect x="1565.7" y="170.1" width="10.23" height="9.57" fill="#f2f7fd"/><rect x="1575.8" y="170.1" width="10.23" height="9.57" fill="#f3f8fe"/><rect x="1586.0" y="170.1" width="10.23" height="9.57" fill="#f3f8fe"/><rect x="1596.2" y="170.1" width="10.23" height="9.57" fill="#f5fafe"/><rect x="1606.4" y="170.1" width="10.23" height="9.57" fill="#f3f8fe"/><rect x="1616.6" y="170.1" width="10.23" height="9.57" fill="#f3f8fe"/><rect x="1626.7" y="170.1" width="10.23" height="9.57" fill="#f7fbff"/><rect x="1636.9" y="170.1" width="10.23" height="9.57" fill="#f7fbff"/><rect x="1647.1" y="170.1" width="10.23" height="9.57" fill="#f3f8fe"/><rect x="1657.3" y="170.1" width="10.23" height="9.57" fill="#f5fafe"/><rect x="1667.5" y="170.1" width="10.23" height="9.57" fill="#f2f7fd"/><rect x="1677.6" y="170.1" width="10.23" height="9.57" fill="#f2f7fd"/><rect x="1687.8" y="170.1" width="10.23" height="9.57" fill="#f3f8fe"/><rect x="1698.0" y="170.1" width="10.23" height="9.57" fill="#f3f8fe"/><rect x="1708.2" y="170.1" width="10.23" height="9.57" fill="#f3f8fe"/><rect x="1392.6" y="179.6" width="10.23" height="9.57" fill="#f5fafe"/><rect x="1402.8" y="179.6" width="10.23" height="9.57" fill="#f3f8fe"/><rect x="1413.0" y="179.6" width="10.23" height="9.57" fill="#f5fafe"/><rect x="1423.1" y="179.6" width="10.23" height="9.57" fill="#f7fbff"/><rect x="1433.3" y="179.6" width="10.23" height="9.57" fill="#f2f7fd"/><rect x="1443.5" y="179.6" width="10.23" height="9.57" fill="#f7fbff"/><rect x="1453.7" y="179.6" width="10.23" height="9.57" fill="#f2f7fd"/><rect x="1463.9" y="179.6" width="10.23" height="9.57" fill="#f3f8fe"/><rect x="1474.0" y="179.6" width="10.23" height="9.57" fill="#f5fafe"/><rect x="1484.2" y="179.6" width="10.23" height="9.57" fill="#f7fbff"/><rect x="1494.4" y="179.6" width="10.23" height="9.57" fill="#f2f7fd"/><rect x="1504.6" y="179.6" width="10.23" height="9.57" fill="#0d57a1"/><rect x="1514.8" y="179.6" width="10.23" height="9.57" fill="#f7fbff"/><rect x="1524.9" y="179.6" width="10.23" height="9.57" fill="#f7fbff"/><rect x="1535.1" y="179.6" width="10.23" height="9.57" fill="#f7fbff"/><rect x="1545.3" y="179.6" width="10.23" height="9.57" fill="#f2f7fd"/><rect x="1555.5" y="179.6" width="10.23" height="9.57" fill="#f3f8fe"/><rect x="1565.7" y="179.6" width="10.23" height="9.57" fill="#f3f8fe"/><rect x="1575.8" y="179.6" width="10.23" height="9.57" fill="#f7fbff"/><rect x="1586.0" y="179.6" width="10.23" height="9.57" fill="#f5fafe"/><rect x="1596.2" y="179.6" width="10.23" height="9.57" fill="#f3f8fe"/><rect x="1606.4" y="179.6" width="10.23" height="9.57" fill="#f7fbff"/><rect x="1616.6" y="179.6" width="10.23" height="9.57" fill="#f7fbff"/><rect x="1626.7" y="179.6" width="10.23" height="9.57" fill="#f5fafe"/><rect x="1636.9" y="179.6" width="10.23" height="9.57" fill="#f3f8fe"/><rect x="1647.1" y="179.6" width="10.23" height="9.57" fill="#f7fbff"/><rect x="1657.3" y="179.6" width="10.23" height="9.57" fill="#f7fbff"/><rect x="1667.5" y="179.6" width="10.23" height="9.57" fill="#f3f8fe"/><rect x="1677.6" y="179.6" width="10.23" height="9.57" fill="#f5fafe"/><rect x="1687.8" y="179.6" width="10.23" height="9.57" fill="#f7fbff"/><rect x="1698.0" y="179.6" width="10.23" height="9.57" fill="#f3f8fe"/><rect x="1708.2" y="179.6" width="10.23" height="9.57" fill="#f7fbff"/><rect x="1392.6" y="189.1" width="10.23" height="9.57" fill="#f3f8fe"/><rect x="1402.8" y="189.1" width="10.23" height="9.57" fill="#f3f8fe"/><rect x="1413.0" y="189.1" width="10.23" height="9.57" fill="#f5fafe"/><rect x="1423.1" y="189.1" width="10.23" height="9.57" fill="#f7fbff"/><rect x="1433.3" y="189.1" width="10.23" height="9.57" fill="#f3f8fe"/><rect x="1443.5" y="189.1" width="10.23" height="9.57" fill="#f7fbff"/><rect x="1453.7" y="189.1" width="10.23" height="9.57" fill="#f5fafe"/><rect x="1463.9" y="189.1" width="10.23" height="9.57" fill="#f7fbff"/><rect x="1474.0" y="189.1" width="10.23" height="9.57" fill="#f5fafe"/><rect x="1484.2" y="189.1" width="10.23" height="9.57" fill="#f2f7fd"/><rect x="1494.4" y="189.1" width="10.23" height="9.57" fill="#f3f8fe"/><rect x="1504.6" y="189.1" width="10.23" height="9.57" fill="#f5fafe"/><rect x="1514.8" y="189.1" width="10.23" height="9.57" fill="#083a7a"/><rect x="1524.9" y="189.1" width="10.23" height="9.57" fill="#f2f7fd"/><rect x="1535.1" y="189.1" width="10.23" height="9.57" fill="#f2f7fd"/><rect x="1545.3" y="189.1" width="10.23" height="9.57" fill="#f7fbff"/><rect x="1555.5" y="189.1" width="10.23" height="9.57" fill="#f5fafe"/><rect x="1565.7" y="189.1" width="10.23" height="9.57" fill="#f7fbff"/><rect x="1575.8" y="189.1" width="10.23" height="9.57" fill="#f7fbff"/><rect x="1586.0" y="189.1" width="10.23" height="9.57" fill="#f7fbff"/><rect x="1596.2" y="189.1" width="10.23" height="9.57" fill="#f3f8fe"/><rect x="1606.4" y="189.1" width="10.23" height="9.57" fill="#f2f7fd"/><rect x="1616.6" y="189.1" width="10.23" height="9.57" fill="#f7fbff"/><rect x="1626.7" y="189.1" width="10.23" height="9.57" fill="#f7fbff"/><rect x="1636.9" y="189.1" width="10.23" height="9.57" fill="#f7fbff"/><rect x="1647.1" y="189.1" width="10.23" height="9.57" fill="#f2f7fd"/><rect x="1657.3" y="189.1" width="10.23" height="9.57" fill="#f5fafe"/><rect x="1667.5" y="189.1" width="10.23" height="9.57" fill="#f2f7fd"/><rect x="1677.6" y="189.1" width="10.23" height="9.57" fill="#f7fbff"/><rect x="1687.8" y="189.1" width="10.23" height="9.57" fill="#f2f7fd"/><rect x="1698.0" y="189.1" width="10.23" height="9.57" fill="#f7fbff"/><rect x="1708.2" y="189.1" width="10.23" height="9.57" fill="#f5fafe"/><rect x="1392.6" y="198.7" width="10.23" height="9.57" fill="#f3f8fe"/><rect x="1402.8" y="198.7" width="10.23" height="9.57" fill="#f3f8fe"/><rect x="1413.0" y="198.7" width="10.23" height="9.57" fill="#f2f7fd"/><rect x="1423.1" y="198.7" width="10.23" height="9.57" fill="#f5fafe"/><rect x="1433.3" y="198.7" width="10.23" height="9.57" fill="#f7fbff"/><rect x="1443.5" y="198.7" width="10.23" height="9.57" fill="#f2f7fd"/><rect x="1453.7" y="198.7" width="10.23" height="9.57" fill="#f5fafe"/><rect x="1463.9" y="198.7" width="10.23" height="9.57" fill="#f7fbff"/><rect x="1474.0" y="198.7" width="10.23" height="9.57" fill="#f5fafe"/><rect x="1484.2" y="198.7" width="10.23" height="9.57" fill="#f3f8fe"/><rect x="1494.4" y="198.7" width="10.23" height="9.57" fill="#f3f8fe"/><rect x="1504.6" y="198.7" width="10.23" height="9.57" fill="#f3f8fe"/><rect x="1514.8" y="198.7" width="10.23" height="9.57" fill="#f5fafe"/><rect x="1524.9" y="198.7" width="10.23" height="9.57" fill="#08458a"/><rect x="1535.1" y="198.7" width="10.23" height="9.57" fill="#f7fbff"/><rect x="1545.3" y="198.7" width="10.23" height="9.57" fill="#f5fafe"/><rect x="1555.5" y="198.7" width="10.23" height="9.57" fill="#f5fafe"/><rect x="1565.7" y="198.7" width="10.23" height="9.57" fill="#f2f7fd"/><rect x="1575.8" y="198.7" width="10.23" height="9.57" fill="#f2f7fd"/><rect x="1586.0" y="198.7" width="10.23" height="9.57" fill="#f7fbff"/><rect x="1596.2" y="198.7" width="10.23" height="9.57" fill="#f2f7fd"/><rect x="1606.4" y="198.7" width="10.23" height="9.57" fill="#f7fbff"/><rect x="1616.6" y="198.7" width="10.23" height="9.57" fill="#f2f7fd"/><rect x="1626.7" y="198.7" width="10.23" height="9.57" fill="#f7fbff"/><rect x="1636.9" y="198.7" width="10.23" height="9.57" fill="#f7fbff"/><rect x="1647.1" y="198.7" width="10.23" height="9.57" fill="#f7fbff"/><rect x="1657.3" y="198.7" width="10.23" height="9.57" fill="#f7fbff"/><rect x="1667.5" y="198.7" width="10.23" height="9.57" fill="#f7fbff"/><rect x="1677.6" y="198.7" width="10.23" height="9.57" fill="#f5fafe"/><rect x="1687.8" y="198.7" width="10.23" height="9.57" fill="#f7fbff"/><rect x="1698.0" y="198.7" width="10.23" height="9.57" fill="#f2f7fd"/><rect x="1708.2" y="198.7" width="10.23" height="9.57" fill="#f3f8fe"/><rect x="1392.6" y="208.2" width="10.23" height="9.57" fill="#f7fbff"/><rect x="1402.8" y="208.2" width="10.23" height="9.57" fill="#f3f8fe"/><rect x="1413.0" y="208.2" width="10.23" height="9.57" fill="#f3f8fe"/><rect x="1423.1" y="208.2" width="10.23" height="9.57" fill="#f5fafe"/><rect x="1433.3" y="208.2" width="10.23" height="9.57" fill="#f5fafe"/><rect x="1443.5" y="208.2" width="10.23" height="9.57" fill="#f7fbff"/><rect x="1453.7" y="208.2" width="10.23" height="9.57" fill="#f5fafe"/><rect x="1463.9" y="208.2" width="10.23" height="9.57" fill="#f7fbff"/><rect x="1474.0" y="208.2" width="10.23" height="9.57" fill="#f5fafe"/><rect x="1484.2" y="208.2" width="10.23" height="9.57" fill="#f5fafe"/><rect x="1494.4" y="208.2" width="10.23" height="9.57" fill="#f3f8fe"/><rect x="1504.6" y="208.2" width="10.23" height="9.57" fill="#f5fafe"/><rect x="1514.8" y="208.2" width="10.23" height="9.57" fill="#f3f8fe"/><rect x="1524.9" y="208.2" width="10.23" height="9.57" fill="#f5fafe"/><rect x="1535.1" y="208.2" width="10.23" height="9.57" fill="#083776"/><rect x="1545.3" y="208.2" width="10.23" height="9.57" fill="#f5fafe"/><rect x="1555.5" y="208.2" width="10.23" height="9.57" fill="#f5fafe"/><rect x="1565.7" y="208.2" width="10.23" height="9.57" fill="#f7fbff"/><rect x="1575.8" y="208.2" width="10.23" height="9.57" fill="#f5fafe"/><rect x="1586.0" y="208.2" width="10.23" height="9.57" fill="#f5fafe"/><rect x="1596.2" y="208.2" width="10.23" height="9.57" fill="#f7fbff"/><rect x="1606.4" y="208.2" width="10.23" height="9.57" fill="#f7fbff"/><rect x="1616.6" y="208.2" width="10.23" height="9.57" fill="#f3f8fe"/><rect x="1626.7" y="208.2" width="10.23" height="9.57" fill="#f7fbff"/><rect x="1636.9" y="208.2" width="10.23" height="9.57" fill="#f3f8fe"/><rect x="1647.1" y="208.2" width="10.23" height="9.57" fill="#f3f8fe"/><rect x="1657.3" y="208.2" width="10.23" height="9.57" fill="#f5fafe"/><rect x="1667.5" y="208.2" width="10.23" height="9.57" fill="#f2f7fd"/><rect x="1677.6" y="208.2" width="10.23" height="9.57" fill="#f7fbff"/><rect x="1687.8" y="208.2" width="10.23" height="9.57" fill="#f3f8fe"/><rect x="1698.0" y="208.2" width="10.23" height="9.57" fill="#f7fbff"/><rect x="1708.2" y="208.2" width="10.23" height="9.57" fill="#f7fbff"/><rect x="1392.6" y="217.7" width="10.23" height="9.57" fill="#f5fafe"/><rect x="1402.8" y="217.7" width="10.23" height="9.57" fill="#f5fafe"/><rect x="1413.0" y="217.7" width="10.23" height="9.57" fill="#f3f8fe"/><rect x="1423.1" y="217.7" width="10.23" height="9.57" fill="#f3f8fe"/><rect x="1433.3" y="217.7" width="10.23" height="9.57" fill="#f2f7fd"/><rect x="1443.5" y="217.7" width="10.23" height="9.57" fill="#f3f8fe"/><rect x="1453.7" y="217.7" width="10.23" height="9.57" fill="#f5fafe"/><rect x="1463.9" y="217.7" width="10.23" height="9.57" fill="#f3f8fe"/><rect x="1474.0" y="217.7" width="10.23" height="9.57" fill="#f2f7fd"/><rect x="1484.2" y="217.7" width="10.23" height="9.57" fill="#f7fbff"/><rect x="1494.4" y="217.7" width="10.23" height="9.57" fill="#f3f8fe"/><rect x="1504.6" y="217.7" width="10.23" height="9.57" fill="#f5fafe"/><rect x="1514.8" y="217.7" width="10.23" height="9.57" fill="#f7fbff"/><rect x="1524.9" y="217.7" width="10.23" height="9.57" fill="#f5fafe"/><rect x="1535.1" y="217.7" width="10.23" height="9.57" fill="#f3f8fe"/><rect x="1545.3" y="217.7" width="10.23" height="9.57" fill="#083a7a"/><rect x="1555.5" y="217.7" width="10.23" height="9.57" fill="#f5fafe"/><rect x="1565.7" y="217.7" width="10.23" height="9.57" fill="#f2f7fd"/><rect x="1575.8" y="217.7" width="10.23" height="9.57" fill="#f3f8fe"/><rect x="1586.0" y="217.7" width="10.23" height="9.57" fill="#f5fafe"/><rect x="1596.2" y="217.7" width="10.23" height="9.57" fill="#f5fafe"/><rect x="1606.4" y="217.7" width="10.23" height="9.57" fill="#f3f8fe"/><rect x="1616.6" y="217.7" width="10.23" height="9.57" fill="#f5fafe"/><rect x="1626.7" y="217.7" width="10.23" height="9.57" fill="#f5fafe"/><rect x="1636.9" y="217.7" width="10.23" height="9.57" fill="#f7fbff"/><rect x="1647.1" y="217.7" width="10.23" height="9.57" fill="#f7fbff"/><rect x="1657.3" y="217.7" width="10.23" height="9.57" fill="#f7fbff"/><rect x="1667.5" y="217.7" width="10.23" height="9.57" fill="#f3f8fe"/><rect x="1677.6" y="217.7" width="10.23" height="9.57" fill="#f5fafe"/><rect x="1687.8" y="217.7" width="10.23" height="9.57" fill="#f3f8fe"/><rect x="1698.0" y="217.7" width="10.23" height="9.57" fill="#f3f8fe"/><rect x="1708.2" y="217.7" width="10.23" height="9.57" fill="#f7fbff"/><rect x="1392.6" y="227.2" width="10.23" height="9.57" fill="#f2f7fd"/><rect x="1402.8" y="227.2" width="10.23" height="9.57" fill="#f5fafe"/><rect x="1413.0" y="227.2" width="10.23" height="9.57" fill="#f7fbff"/><rect x="1423.1" y="227.2" width="10.23" height="9.57" fill="#f5fafe"/><rect x="1433.3" y="227.2" width="10.23" height="9.57" fill="#f7fbff"/><rect x="1443.5" y="227.2" width="10.23" height="9.57" fill="#f7fbff"/><rect x="1453.7" y="227.2" width="10.23" height="9.57" fill="#f5fafe"/><rect x="1463.9" y="227.2" width="10.23" height="9.57" fill="#f5fafe"/><rect x="1474.0" y="227.2" width="10.23" height="9.57" fill="#f3f8fe"/><rect x="1484.2" y="227.2" width="10.23" height="9.57" fill="#f2f7fd"/><rect x="1494.4" y="227.2" width="10.23" height="9.57" fill="#f2f7fd"/><rect x="1504.6" y="227.2" width="10.23" height="9.57" fill="#f5fafe"/><rect x="1514.8" y="227.2" width="10.23" height="9.57" fill="#f7fbff"/><rect x="1524.9" y="227.2" width="10.23" height="9.57" fill="#f5fafe"/><rect x="1535.1" y="227.2" width="10.23" height="9.57" fill="#f3f8fe"/><rect x="1545.3" y="227.2" width="10.23" height="9.57" fill="#f7fbff"/><rect x="1555.5" y="227.2" width="10.23" height="9.57" fill="#083a7a"/><rect x="1565.7" y="227.2" width="10.23" height="9.57" fill="#f2f7fd"/><rect x="1575.8" y="227.2" width="10.23" height="9.57" fill="#f3f8fe"/><rect x="1586.0" y="227.2" width="10.23" height="9.57" fill="#f3f8fe"/><rect x="1596.2" y="227.2" width="10.23" height="9.57" fill="#f2f7fd"/><rect x="1606.4" y="227.2" width="10.23" height="9.57" fill="#f3f8fe"/><rect x="1616.6" y="227.2" width="10.23" height="9.57" fill="#f2f7fd"/><rect x="1626.7" y="227.2" width="10.23" height="9.57" fill="#f5fafe"/><rect x="1636.9" y="227.2" width="10.23" height="9.57" fill="#f3f8fe"/><rect x="1647.1" y="227.2" width="10.23" height="9.57" fill="#f7fbff"/><rect x="1657.3" y="227.2" width="10.23" height="9.57" fill="#f3f8fe"/><rect x="1667.5" y="227.2" width="10.23" height="9.57" fill="#f5fafe"/><rect x="1677.6" y="227.2" width="10.23" height="9.57" fill="#f3f8fe"/><rect x="1687.8" y="227.2" width="10.23" height="9.57" fill="#f3f8fe"/><rect x="1698.0" y="227.2" width="10.23" height="9.57" fill="#f7fbff"/><rect x="1708.2" y="227.2" width="10.23" height="9.57" fill="#f2f7fd"/><rect x="1392.6" y="236.7" width="10.23" height="9.57" fill="#f3f8fe"/><rect x="1402.8" y="236.7" width="10.23" height="9.57" fill="#f3f8fe"/><rect x="1413.0" y="236.7" width="10.23" height="9.57" fill="#f7fbff"/><rect x="1423.1" y="236.7" width="10.23" height="9.57" fill="#f5fafe"/><rect x="1433.3" y="236.7" width="10.23" height="9.57" fill="#f7fbff"/><rect x="1443.5" y="236.7" width="10.23" height="9.57" fill="#f7fbff"/><rect x="1453.7" y="236.7" width="10.23" height="9.57" fill="#f2f7fd"/><rect x="1463.9" y="236.7" width="10.23" height="9.57" fill="#f5fafe"/><rect x="1474.0" y="236.7" width="10.23" height="9.57" fill="#f7fbff"/><rect x="1484.2" y="236.7" width="10.23" height="9.57" fill="#f3f8fe"/><rect x="1494.4" y="236.7" width="10.23" height="9.57" fill="#f7fbff"/><rect x="1504.6" y="236.7" width="10.23" height="9.57" fill="#f3f8fe"/><rect x="1514.8" y="236.7" width="10.23" height="9.57" fill="#f7fbff"/><rect x="1524.9" y="236.7" width="10.23" height="9.57" fill="#f3f8fe"/><rect x="1535.1" y="236.7" width="10.23" height="9.57" fill="#f5fafe"/><rect x="1545.3" y="236.7" width="10.23" height="9.57" fill="#f7fbff"/><rect x="1555.5" y="236.7" width="10.23" height="9.57" fill="#f2f7fd"/><rect x="1565.7" y="236.7" width="10.23" height="9.57" fill="#084082"/><rect x="1575.8" y="236.7" width="10.23" height="9.57" fill="#f7fbff"/><rect x="1586.0" y="236.7" width="10.23" height="9.57" fill="#f5fafe"/><rect x="1596.2" y="236.7" width="10.23" height="9.57" fill="#f2f7fd"/><rect x="1606.4" y="236.7" width="10.23" height="9.57" fill="#f2f7fd"/><rect x="1616.6" y="236.7" width="10.23" height="9.57" fill="#f7fbff"/><rect x="1626.7" y="236.7" width="10.23" height="9.57" fill="#f7fbff"/><rect x="1636.9" y="236.7" width="10.23" height="9.57" fill="#f2f7fd"/><rect x="1647.1" y="236.7" width="10.23" height="9.57" fill="#f7fbff"/><rect x="1657.3" y="236.7" width="10.23" height="9.57" fill="#f3f8fe"/><rect x="1667.5" y="236.7" width="10.23" height="9.57" fill="#f5fafe"/><rect x="1677.6" y="236.7" width="10.23" height="9.57" fill="#f2f7fd"/><rect x="1687.8" y="236.7" width="10.23" height="9.57" fill="#f3f8fe"/><rect x="1698.0" y="236.7" width="10.23" height="9.57" fill="#f5fafe"/><rect x="1708.2" y="236.7" width="10.23" height="9.57" fill="#f3f8fe"/><rect x="1392.6" y="246.3" width="10.23" height="9.57" fill="#f5fafe"/><rect x="1402.8" y="246.3" width="10.23" height="9.57" fill="#f2f7fd"/><rect x="1413.0" y="246.3" width="10.23" height="9.57" fill="#f7fbff"/><rect x="1423.1" y="246.3" width="10.23" height="9.57" fill="#f7fbff"/><rect x="1433.3" y="246.3" width="10.23" height="9.57" fill="#f2f7fd"/><rect x="1443.5" y="246.3" width="10.23" height="9.57" fill="#f3f8fe"/><rect x="1453.7" y="246.3" width="10.23" height="9.57" fill="#f3f8fe"/><rect x="1463.9" y="246.3" width="10.23" height="9.57" fill="#f3f8fe"/><rect x="1474.0" y="246.3" width="10.23" height="9.57" fill="#f3f8fe"/><rect x="1484.2" y="246.3" width="10.23" height="9.57" fill="#f7fbff"/><rect x="1494.4" y="246.3" width="10.23" height="9.57" fill="#f7fbff"/><rect x="1504.6" y="246.3" width="10.23" height="9.57" fill="#f3f8fe"/><rect x="1514.8" y="246.3" width="10.23" height="9.57" fill="#f3f8fe"/><rect x="1524.9" y="246.3" width="10.23" height="9.57" fill="#f7fbff"/><rect x="1535.1" y="246.3" width="10.23" height="9.57" fill="#f3f8fe"/><rect x="1545.3" y="246.3" width="10.23" height="9.57" fill="#f7fbff"/><rect x="1555.5" y="246.3" width="10.23" height="9.57" fill="#f3f8fe"/><rect x="1565.7" y="246.3" width="10.23" height="9.57" fill="#f5fafe"/><rect x="1575.8" y="246.3" width="10.23" height="9.57" fill="#083a7a"/><rect x="1586.0" y="246.3" width="10.23" height="9.57" fill="#f2f7fd"/><rect x="1596.2" y="246.3" width="10.23" height="9.57" fill="#f3f8fe"/><rect x="1606.4" y="246.3" width="10.23" height="9.57" fill="#f7fbff"/><rect x="1616.6" y="246.3" width="10.23" height="9.57" fill="#f2f7fd"/><rect x="1626.7" y="246.3" width="10.23" height="9.57" fill="#f7fbff"/><rect x="1636.9" y="246.3" width="10.23" height="9.57" fill="#f7fbff"/><rect x="1647.1" y="246.3" width="10.23" height="9.57" fill="#f7fbff"/><rect x="1657.3" y="246.3" width="10.23" height="9.57" fill="#f3f8fe"/><rect x="1667.5" y="246.3" width="10.23" height="9.57" fill="#f7fbff"/><rect x="1677.6" y="246.3" width="10.23" height="9.57" fill="#f5fafe"/><rect x="1687.8" y="246.3" width="10.23" height="9.57" fill="#f3f8fe"/><rect x="1698.0" y="246.3" width="10.23" height="9.57" fill="#f3f8fe"/><rect x="1708.2" y="246.3" width="10.23" height="9.57" fill="#f2f7fd"/><rect x="1392.6" y="255.8" width="10.23" height="9.57" fill="#f5fafe"/><rect x="1402.8" y="255.8" width="10.23" height="9.57" fill="#f5fafe"/><rect x="1413.0" y="255.8" width="10.23" height="9.57" fill="#f5fafe"/><rect x="1423.1" y="255.8" width="10.23" height="9.57" fill="#f3f8fe"/><rect x="1433.3" y="255.8" width="10.23" height="9.57" fill="#f5fafe"/><rect x="1443.5" y="255.8" width="10.23" height="9.57" fill="#f5fafe"/><rect x="1453.7" y="255.8" width="10.23" height="9.57" fill="#f3f8fe"/><rect x="1463.9" y="255.8" width="10.23" height="9.57" fill="#f5fafe"/><rect x="1474.0" y="255.8" width="10.23" height="9.57" fill="#f7fbff"/><rect x="1484.2" y="255.8" width="10.23" height="9.57" fill="#f5fafe"/><rect x="1494.4" y="255.8" width="10.23" height="9.57" fill="#f3f8fe"/><rect x="1504.6" y="255.8" width="10.23" height="9.57" fill="#f7fbff"/><rect x="1514.8" y="255.8" width="10.23" height="9.57" fill="#f5fafe"/><rect x="1524.9" y="255.8" width="10.23" height="9.57" fill="#f2f7fd"/><rect x="1535.1" y="255.8" width="10.23" height="9.57" fill="#f3f8fe"/><rect x="1545.3" y="255.8" width="10.23" height="9.57" fill="#f7fbff"/><rect x="1555.5" y="255.8" width="10.23" height="9.57" fill="#f5fafe"/><rect x="1565.7" y="255.8" width="10.23" height="9.57" fill="#f3f8fe"/><rect x="1575.8" y="255.8" width="10.23" height="9.57" fill="#f3f8fe"/><rect x="1586.0" y="255.8" width="10.23" height="9.57" fill="#083a7a"/><rect x="1596.2" y="255.8" width="10.23" height="9.57" fill="#f2f7fd"/><rect x="1606.4" y="255.8" width="10.23" height="9.57" fill="#f3f8fe"/><rect x="1616.6" y="255.8" width="10.23" height="9.57" fill="#f3f8fe"/><rect x="1626.7" y="255.8" width="10.23" height="9.57" fill="#f3f8fe"/><rect x="1636.9" y="255.8" width="10.23" height="9.57" fill="#f3f8fe"/><rect x="1647.1" y="255.8" width="10.23" height="9.57" fill="#f5fafe"/><rect x="1657.3" y="255.8" width="10.23" height="9.57" fill="#f7fbff"/><rect x="1667.5" y="255.8" width="10.23" height="9.57" fill="#f3f8fe"/><rect x="1677.6" y="255.8" width="10.23" height="9.57" fill="#f5fafe"/><rect x="1687.8" y="255.8" width="10.23" height="9.57" fill="#f7fbff"/><rect x="1698.0" y="255.8" width="10.23" height="9.57" fill="#f7fbff"/><rect x="1708.2" y="255.8" width="10.23" height="9.57" fill="#f7fbff"/><rect x="1392.6" y="265.3" width="10.23" height="9.57" fill="#f5fafe"/><rect x="1402.8" y="265.3" width="10.23" height="9.57" fill="#f3f8fe"/><rect x="1413.0" y="265.3" width="10.23" height="9.57" fill="#f5fafe"/><rect x="1423.1" y="265.3" width="10.23" height="9.57" fill="#f3f8fe"/><rect x="1433.3" y="265.3" width="10.23" height="9.57" fill="#f3f8fe"/><rect x="1443.5" y="265.3" width="10.23" height="9.57" fill="#f5fafe"/><rect x="1453.7" y="265.3" width="10.23" height="9.57" fill="#f3f8fe"/><rect x="1463.9" y="265.3" width="10.23" height="9.57" fill="#f3f8fe"/><rect x="1474.0" y="265.3" width="10.23" height="9.57" fill="#f2f7fd"/><rect x="1484.2" y="265.3" width="10.23" height="9.57" fill="#f7fbff"/><rect x="1494.4" y="265.3" width="10.23" height="9.57" fill="#f7fbff"/><rect x="1504.6" y="265.3" width="10.23" height="9.57" fill="#f5fafe"/><rect x="1514.8" y="265.3" width="10.23" height="9.57" fill="#f2f7fd"/><rect x="1524.9" y="265.3" width="10.23" height="9.57" fill="#f7fbff"/><rect x="1535.1" y="265.3" width="10.23" height="9.57" fill="#f7fbff"/><rect x="1545.3" y="265.3" width="10.23" height="9.57" fill="#f3f8fe"/><rect x="1555.5" y="265.3" width="10.23" height="9.57" fill="#f3f8fe"/><rect x="1565.7" y="265.3" width="10.23" height="9.57" fill="#f5fafe"/><rect x="1575.8" y="265.3" width="10.23" height="9.57" fill="#f7fbff"/><rect x="1586.0" y="265.3" width="10.23" height="9.57" fill="#f2f7fd"/><rect x="1596.2" y="265.3" width="10.23" height="9.57" fill="#083a7a"/><rect x="1606.4" y="265.3" width="10.23" height="9.57" fill="#f3f8fe"/><rect x="1616.6" y="265.3" width="10.23" height="9.57" fill="#f3f8fe"/><rect x="1626.7" y="265.3" width="10.23" height="9.57" fill="#f2f7fd"/><rect x="1636.9" y="265.3" width="10.23" height="9.57" fill="#f5fafe"/><rect x="1647.1" y="265.3" width="10.23" height="9.57" fill="#f3f8fe"/><rect x="1657.3" y="265.3" width="10.23" height="9.57" fill="#f3f8fe"/><rect x="1667.5" y="265.3" width="10.23" height="9.57" fill="#f2f7fd"/><rect x="1677.6" y="265.3" width="10.23" height="9.57" fill="#f5fafe"/><rect x="1687.8" y="265.3" width="10.23" height="9.57" fill="#f3f8fe"/><rect x="1698.0" y="265.3" width="10.23" height="9.57" fill="#f2f7fd"/><rect x="1708.2" y="265.3" width="10.23" height="9.57" fill="#f3f8fe"/><rect x="1392.6" y="274.8" width="10.23" height="9.57" fill="#f3f8fe"/><rect x="1402.8" y="274.8" width="10.23" height="9.57" fill="#f5fafe"/><rect x="1413.0" y="274.8" width="10.23" height="9.57" fill="#f7fbff"/><rect x="1423.1" y="274.8" width="10.23" height="9.57" fill="#f5fafe"/><rect x="1433.3" y="274.8" width="10.23" height="9.57" fill="#f7fbff"/><rect x="1443.5" y="274.8" width="10.23" height="9.57" fill="#f5fafe"/><rect x="1453.7" y="274.8" width="10.23" height="9.57" fill="#f5fafe"/><rect x="1463.9" y="274.8" width="10.23" height="9.57" fill="#f2f7fd"/><rect x="1474.0" y="274.8" width="10.23" height="9.57" fill="#f5fafe"/><rect x="1484.2" y="274.8" width="10.23" height="9.57" fill="#f7fbff"/><rect x="1494.4" y="274.8" width="10.23" height="9.57" fill="#f7fbff"/><rect x="1504.6" y="274.8" width="10.23" height="9.57" fill="#f3f8fe"/><rect x="1514.8" y="274.8" width="10.23" height="9.57" fill="#f5fafe"/><rect x="1524.9" y="274.8" width="10.23" height="9.57" fill="#f7fbff"/><rect x="1535.1" y="274.8" width="10.23" height="9.57" fill="#f5fafe"/><rect x="1545.3" y="274.8" width="10.23" height="9.57" fill="#f5fafe"/><rect x="1555.5" y="274.8" width="10.23" height="9.57" fill="#f2f7fd"/><rect x="1565.7" y="274.8" width="10.23" height="9.57" fill="#f2f7fd"/><rect x="1575.8" y="274.8" width="10.23" height="9.57" fill="#f7fbff"/><rect x="1586.0" y="274.8" width="10.23" height="9.57" fill="#f5fafe"/><rect x="1596.2" y="274.8" width="10.23" height="9.57" fill="#f3f8fe"/><rect x="1606.4" y="274.8" width="10.23" height="9.57" fill="#083a7a"/><rect x="1616.6" y="274.8" width="10.23" height="9.57" fill="#f5fafe"/><rect x="1626.7" y="274.8" width="10.23" height="9.57" fill="#f3f8fe"/><rect x="1636.9" y="274.8" width="10.23" height="9.57" fill="#f3f8fe"/><rect x="1647.1" y="274.8" width="10.23" height="9.57" fill="#f7fbff"/><rect x="1657.3" y="274.8" width="10.23" height="9.57" fill="#f5fafe"/><rect x="1667.5" y="274.8" width="10.23" height="9.57" fill="#f3f8fe"/><rect x="1677.6" y="274.8" width="10.23" height="9.57" fill="#f2f7fd"/><rect x="1687.8" y="274.8" width="10.23" height="9.57" fill="#f2f7fd"/><rect x="1698.0" y="274.8" width="10.23" height="9.57" fill="#f3f8fe"/><rect x="1708.2" y="274.8" width="10.23" height="9.57" fill="#f3f8fe"/><rect x="1392.6" y="284.3" width="10.23" height="9.57" fill="#f7fbff"/><rect x="1402.8" y="284.3" width="10.23" height="9.57" fill="#f5fafe"/><rect x="1413.0" y="284.3" width="10.23" height="9.57" fill="#f3f8fe"/><rect x="1423.1" y="284.3" width="10.23" height="9.57" fill="#f7fbff"/><rect x="1433.3" y="284.3" width="10.23" height="9.57" fill="#f2f7fd"/><rect x="1443.5" y="284.3" width="10.23" height="9.57" fill="#f5fafe"/><rect x="1453.7" y="284.3" width="10.23" height="9.57" fill="#f2f7fd"/><rect x="1463.9" y="284.3" width="10.23" height="9.57" fill="#f3f8fe"/><rect x="1474.0" y="284.3" width="10.23" height="9.57" fill="#f7fbff"/><rect x="1484.2" y="284.3" width="10.23" height="9.57" fill="#f5fafe"/><rect x="1494.4" y="284.3" width="10.23" height="9.57" fill="#f7fbff"/><rect x="1504.6" y="284.3" width="10.23" height="9.57" fill="#f7fbff"/><rect x="1514.8" y="284.3" width="10.23" height="9.57" fill="#f3f8fe"/><rect x="1524.9" y="284.3" width="10.23" height="9.57" fill="#f3f8fe"/><rect x="1535.1" y="284.3" width="10.23" height="9.57" fill="#f2f7fd"/><rect x="1545.3" y="284.3" width="10.23" height="9.57" fill="#f3f8fe"/><rect x="1555.5" y="284.3" width="10.23" height="9.57" fill="#f7fbff"/><rect x="1565.7" y="284.3" width="10.23" height="9.57" fill="#f7fbff"/><rect x="1575.8" y="284.3" width="10.23" height="9.57" fill="#f2f7fd"/><rect x="1586.0" y="284.3" width="10.23" height="9.57" fill="#f5fafe"/><rect x="1596.2" y="284.3" width="10.23" height="9.57" fill="#f7fbff"/><rect x="1606.4" y="284.3" width="10.23" height="9.57" fill="#f7fbff"/><rect x="1616.6" y="284.3" width="10.23" height="9.57" fill="#0e59a2"/><rect x="1626.7" y="284.3" width="10.23" height="9.57" fill="#f2f7fd"/><rect x="1636.9" y="284.3" width="10.23" height="9.57" fill="#f5fafe"/><rect x="1647.1" y="284.3" width="10.23" height="9.57" fill="#f7fbff"/><rect x="1657.3" y="284.3" width="10.23" height="9.57" fill="#f7fbff"/><rect x="1667.5" y="284.3" width="10.23" height="9.57" fill="#f3f8fe"/><rect x="1677.6" y="284.3" width="10.23" height="9.57" fill="#f3f8fe"/><rect x="1687.8" y="284.3" width="10.23" height="9.57" fill="#f3f8fe"/><rect x="1698.0" y="284.3" width="10.23" height="9.57" fill="#f2f7fd"/><rect x="1708.2" y="284.3" width="10.23" height="9.57" fill="#f7fbff"/><rect x="1392.6" y="293.9" width="10.23" height="9.57" fill="#f5fafe"/><rect x="1402.8" y="293.9" width="10.23" height="9.57" fill="#f7fbff"/><rect x="1413.0" y="293.9" width="10.23" height="9.57" fill="#f2f7fd"/><rect x="1423.1" y="293.9" width="10.23" height="9.57" fill="#f7fbff"/><rect x="1433.3" y="293.9" width="10.23" height="9.57" fill="#f5fafe"/><rect x="1443.5" y="293.9" width="10.23" height="9.57" fill="#f7fbff"/><rect x="1453.7" y="293.9" width="10.23" height="9.57" fill="#f5fafe"/><rect x="1463.9" y="293.9" width="10.23" height="9.57" fill="#f7fbff"/><rect x="1474.0" y="293.9" width="10.23" height="9.57" fill="#f3f8fe"/><rect x="1484.2" y="293.9" width="10.23" height="9.57" fill="#f2f7fd"/><rect x="1494.4" y="293.9" width="10.23" height="9.57" fill="#f7fbff"/><rect x="1504.6" y="293.9" width="10.23" height="9.57" fill="#f7fbff"/><rect x="1514.8" y="293.9" width="10.23" height="9.57" fill="#f7fbff"/><rect x="1524.9" y="293.9" width="10.23" height="9.57" fill="#f5fafe"/><rect x="1535.1" y="293.9" width="10.23" height="9.57" fill="#f2f7fd"/><rect x="1545.3" y="293.9" width="10.23" height="9.57" fill="#f5fafe"/><rect x="1555.5" y="293.9" width="10.23" height="9.57" fill="#f7fbff"/><rect x="1565.7" y="293.9" width="10.23" height="9.57" fill="#f5fafe"/><rect x="1575.8" y="293.9" width="10.23" height="9.57" fill="#f5fafe"/><rect x="1586.0" y="293.9" width="10.23" height="9.57" fill="#f3f8fe"/><rect x="1596.2" y="293.9" width="10.23" height="9.57" fill="#f3f8fe"/><rect x="1606.4" y="293.9" width="10.23" height="9.57" fill="#f3f8fe"/><rect x="1616.6" y="293.9" width="10.23" height="9.57" fill="#f5fafe"/><rect x="1626.7" y="293.9" width="10.23" height="9.57" fill="#084a91"/><rect x="1636.9" y="293.9" width="10.23" height="9.57" fill="#f7fbff"/><rect x="1647.1" y="293.9" width="10.23" height="9.57" fill="#f7fbff"/><rect x="1657.3" y="293.9" width="10.23" height="9.57" fill="#f5fafe"/><rect x="1667.5" y="293.9" width="10.23" height="9.57" fill="#f5fafe"/><rect x="1677.6" y="293.9" width="10.23" height="9.57" fill="#f5fafe"/><rect x="1687.8" y="293.9" width="10.23" height="9.57" fill="#f5fafe"/><rect x="1698.0" y="293.9" width="10.23" height="9.57" fill="#f5fafe"/><rect x="1708.2" y="293.9" width="10.23" height="9.57" fill="#f7fbff"/><rect x="1392.6" y="303.4" width="10.23" height="9.57" fill="#f7fbff"/><rect x="1402.8" y="303.4" width="10.23" height="9.57" fill="#f3f8fe"/><rect x="1413.0" y="303.4" width="10.23" height="9.57" fill="#f3f8fe"/><rect x="1423.1" y="303.4" width="10.23" height="9.57" fill="#f3f8fe"/><rect x="1433.3" y="303.4" width="10.23" height="9.57" fill="#f5fafe"/><rect x="1443.5" y="303.4" width="10.23" height="9.57" fill="#f5fafe"/><rect x="1453.7" y="303.4" width="10.23" height="9.57" fill="#f7fbff"/><rect x="1463.9" y="303.4" width="10.23" height="9.57" fill="#f3f8fe"/><rect x="1474.0" y="303.4" width="10.23" height="9.57" fill="#f5fafe"/><rect x="1484.2" y="303.4" width="10.23" height="9.57" fill="#f7fbff"/><rect x="1494.4" y="303.4" width="10.23" height="9.57" fill="#f5fafe"/><rect x="1504.6" y="303.4" width="10.23" height="9.57" fill="#f7fbff"/><rect x="1514.8" y="303.4" width="10.23" height="9.57" fill="#f3f8fe"/><rect x="1524.9" y="303.4" width="10.23" height="9.57" fill="#f5fafe"/><rect x="1535.1" y="303.4" width="10.23" height="9.57" fill="#f7fbff"/><rect x="1545.3" y="303.4" width="10.23" height="9.57" fill="#f5fafe"/><rect x="1555.5" y="303.4" width="10.23" height="9.57" fill="#f3f8fe"/><rect x="1565.7" y="303.4" width="10.23" height="9.57" fill="#f5fafe"/><rect x="1575.8" y="303.4" width="10.23" height="9.57" fill="#f7fbff"/><rect x="1586.0" y="303.4" width="10.23" height="9.57" fill="#f3f8fe"/><rect x="1596.2" y="303.4" width="10.23" height="9.57" fill="#f3f8fe"/><rect x="1606.4" y="303.4" width="10.23" height="9.57" fill="#f5fafe"/><rect x="1616.6" y="303.4" width="10.23" height="9.57" fill="#f3f8fe"/><rect x="1626.7" y="303.4" width="10.23" height="9.57" fill="#f2f7fd"/><rect x="1636.9" y="303.4" width="10.23" height="9.57" fill="#083c7d"/><rect x="1647.1" y="303.4" width="10.23" height="9.57" fill="#f5fafe"/><rect x="1657.3" y="303.4" width="10.23" height="9.57" fill="#f2f7fd"/><rect x="1667.5" y="303.4" width="10.23" height="9.57" fill="#f5fafe"/><rect x="1677.6" y="303.4" width="10.23" height="9.57" fill="#f5fafe"/><rect x="1687.8" y="303.4" width="10.23" height="9.57" fill="#f3f8fe"/><rect x="1698.0" y="303.4" width="10.23" height="9.57" fill="#f3f8fe"/><rect x="1708.2" y="303.4" width="10.23" height="9.57" fill="#f3f8fe"/><rect x="1392.6" y="312.9" width="10.23" height="9.57" fill="#f3f8fe"/><rect x="1402.8" y="312.9" width="10.23" height="9.57" fill="#f2f7fd"/><rect x="1413.0" y="312.9" width="10.23" height="9.57" fill="#f2f7fd"/><rect x="1423.1" y="312.9" width="10.23" height="9.57" fill="#f5fafe"/><rect x="1433.3" y="312.9" width="10.23" height="9.57" fill="#f7fbff"/><rect x="1443.5" y="312.9" width="10.23" height="9.57" fill="#f2f7fd"/><rect x="1453.7" y="312.9" width="10.23" height="9.57" fill="#f5fafe"/><rect x="1463.9" y="312.9" width="10.23" height="9.57" fill="#f3f8fe"/><rect x="1474.0" y="312.9" width="10.23" height="9.57" fill="#f3f8fe"/><rect x="1484.2" y="312.9" width="10.23" height="9.57" fill="#f3f8fe"/><rect x="1494.4" y="312.9" width="10.23" height="9.57" fill="#f3f8fe"/><rect x="1504.6" y="312.9" width="10.23" height="9.57" fill="#f7fbff"/><rect x="1514.8" y="312.9" width="10.23" height="9.57" fill="#f3f8fe"/><rect x="1524.9" y="312.9" width="10.23" height="9.57" fill="#f5fafe"/><rect x="1535.1" y="312.9" width="10.23" height="9.57" fill="#f3f8fe"/><rect x="1545.3" y="312.9" width="10.23" height="9.57" fill="#f5fafe"/><rect x="1555.5" y="312.9" width="10.23" height="9.57" fill="#f7fbff"/><rect x="1565.7" y="312.9" width="10.23" height="9.57" fill="#f3f8fe"/><rect x="1575.8" y="312.9" width="10.23" height="9.57" fill="#f5fafe"/><rect x="1586.0" y="312.9" width="10.23" height="9.57" fill="#f3f8fe"/><rect x="1596.2" y="312.9" width="10.23" height="9.57" fill="#f3f8fe"/><rect x="1606.4" y="312.9" width="10.23" height="9.57" fill="#f3f8fe"/><rect x="1616.6" y="312.9" width="10.23" height="9.57" fill="#f3f8fe"/><rect x="1626.7" y="312.9" width="10.23" height="9.57" fill="#f7fbff"/><rect x="1636.9" y="312.9" width="10.23" height="9.57" fill="#f3f8fe"/><rect x="1647.1" y="312.9" width="10.23" height="9.57" fill="#083a7a"/><rect x="1657.3" y="312.9" width="10.23" height="9.57" fill="#f3f8fe"/><rect x="1667.5" y="312.9" width="10.23" height="9.57" fill="#f3f8fe"/><rect x="1677.6" y="312.9" width="10.23" height="9.57" fill="#f3f8fe"/><rect x="1687.8" y="312.9" width="10.23" height="9.57" fill="#f7fbff"/><rect x="1698.0" y="312.9" width="10.23" height="9.57" fill="#f7fbff"/><rect x="1708.2" y="312.9" width="10.23" height="9.57" fill="#f5fafe"/><rect x="1392.6" y="322.4" width="10.23" height="9.57" fill="#f3f8fe"/><rect x="1402.8" y="322.4" width="10.23" height="9.57" fill="#f5fafe"/><rect x="1413.0" y="322.4" width="10.23" height="9.57" fill="#f7fbff"/><rect x="1423.1" y="322.4" width="10.23" height="9.57" fill="#f7fbff"/><rect x="1433.3" y="322.4" width="10.23" height="9.57" fill="#f3f8fe"/><rect x="1443.5" y="322.4" width="10.23" height="9.57" fill="#f7fbff"/><rect x="1453.7" y="322.4" width="10.23" height="9.57" fill="#f5fafe"/><rect x="1463.9" y="322.4" width="10.23" height="9.57" fill="#f3f8fe"/><rect x="1474.0" y="322.4" width="10.23" height="9.57" fill="#f3f8fe"/><rect x="1484.2" y="322.4" width="10.23" height="9.57" fill="#f3f8fe"/><rect x="1494.4" y="322.4" width="10.23" height="9.57" fill="#f3f8fe"/><rect x="1504.6" y="322.4" width="10.23" height="9.57" fill="#f5fafe"/><rect x="1514.8" y="322.4" width="10.23" height="9.57" fill="#f3f8fe"/><rect x="1524.9" y="322.4" width="10.23" height="9.57" fill="#f5fafe"/><rect x="1535.1" y="322.4" width="10.23" height="9.57" fill="#f3f8fe"/><rect x="1545.3" y="322.4" width="10.23" height="9.57" fill="#f7fbff"/><rect x="1555.5" y="322.4" width="10.23" height="9.57" fill="#f5fafe"/><rect x="1565.7" y="322.4" width="10.23" height="9.57" fill="#f5fafe"/><rect x="1575.8" y="322.4" width="10.23" height="9.57" fill="#f5fafe"/><rect x="1586.0" y="322.4" width="10.23" height="9.57" fill="#f2f7fd"/><rect x="1596.2" y="322.4" width="10.23" height="9.57" fill="#f7fbff"/><rect x="1606.4" y="322.4" width="10.23" height="9.57" fill="#f3f8fe"/><rect x="1616.6" y="322.4" width="10.23" height="9.57" fill="#f7fbff"/><rect x="1626.7" y="322.4" width="10.23" height="9.57" fill="#f7fbff"/><rect x="1636.9" y="322.4" width="10.23" height="9.57" fill="#f3f8fe"/><rect x="1647.1" y="322.4" width="10.23" height="9.57" fill="#f7fbff"/><rect x="1657.3" y="322.4" width="10.23" height="9.57" fill="#083a7a"/><rect x="1667.5" y="322.4" width="10.23" height="9.57" fill="#f2f7fd"/><rect x="1677.6" y="322.4" width="10.23" height="9.57" fill="#f3f8fe"/><rect x="1687.8" y="322.4" width="10.23" height="9.57" fill="#f3f8fe"/><rect x="1698.0" y="322.4" width="10.23" height="9.57" fill="#f3f8fe"/><rect x="1708.2" y="322.4" width="10.23" height="9.57" fill="#f3f8fe"/><rect x="1392.6" y="331.9" width="10.23" height="9.57" fill="#f5fafe"/><rect x="1402.8" y="331.9" width="10.23" height="9.57" fill="#f5fafe"/><rect x="1413.0" y="331.9" width="10.23" height="9.57" fill="#f7fbff"/><rect x="1423.1" y="331.9" width="10.23" height="9.57" fill="#f5fafe"/><rect x="1433.3" y="331.9" width="10.23" height="9.57" fill="#f5fafe"/><rect x="1443.5" y="331.9" width="10.23" height="9.57" fill="#f5fafe"/><rect x="1453.7" y="331.9" width="10.23" height="9.57" fill="#f7fbff"/><rect x="1463.9" y="331.9" width="10.23" height="9.57" fill="#f2f7fd"/><rect x="1474.0" y="331.9" width="10.23" height="9.57" fill="#f7fbff"/><rect x="1484.2" y="331.9" width="10.23" height="9.57" fill="#f7fbff"/><rect x="1494.4" y="331.9" width="10.23" height="9.57" fill="#f5fafe"/><rect x="1504.6" y="331.9" width="10.23" height="9.57" fill="#f3f8fe"/><rect x="1514.8" y="331.9" width="10.23" height="9.57" fill="#f5fafe"/><rect x="1524.9" y="331.9" width="10.23" height="9.57" fill="#f7fbff"/><rect x="1535.1" y="331.9" width="10.23" height="9.57" fill="#f3f8fe"/><rect x="1545.3" y="331.9" width="10.23" height="9.57" fill="#f2f7fd"/><rect x="1555.5" y="331.9" width="10.23" height="9.57" fill="#f3f8fe"/><rect x="1565.7" y="331.9" width="10.23" height="9.57" fill="#f5fafe"/><rect x="1575.8" y="331.9" width="10.23" height="9.57" fill="#f5fafe"/><rect x="1586.0" y="331.9" width="10.23" height="9.57" fill="#f5fafe"/><rect x="1596.2" y="331.9" width="10.23" height="9.57" fill="#f5fafe"/><rect x="1606.4" y="331.9" width="10.23" height="9.57" fill="#f3f8fe"/><rect x="1616.6" y="331.9" width="10.23" height="9.57" fill="#f2f7fd"/><rect x="1626.7" y="331.9" width="10.23" height="9.57" fill="#f2f7fd"/><rect x="1636.9" y="331.9" width="10.23" height="9.57" fill="#f7fbff"/><rect x="1647.1" y="331.9" width="10.23" height="9.57" fill="#f5fafe"/><rect x="1657.3" y="331.9" width="10.23" height="9.57" fill="#f5fafe"/><rect x="1667.5" y="331.9" width="10.23" height="9.57" fill="#084082"/><rect x="1677.6" y="331.9" width="10.23" height="9.57" fill="#f2f7fd"/><rect x="1687.8" y="331.9" width="10.23" height="9.57" fill="#f7fbff"/><rect x="1698.0" y="331.9" width="10.23" height="9.57" fill="#f7fbff"/><rect x="1708.2" y="331.9" width="10.23" height="9.57" fill="#f5fafe"/><rect x="1392.6" y="341.5" width="10.23" height="9.57" fill="#f3f8fe"/><rect x="1402.8" y="341.5" width="10.23" height="9.57" fill="#f7fbff"/><rect x="1413.0" y="341.5" width="10.23" height="9.57" fill="#f3f8fe"/><rect x="1423.1" y="341.5" width="10.23" height="9.57" fill="#f7fbff"/><rect x="1433.3" y="341.5" width="10.23" height="9.57" fill="#f3f8fe"/><rect x="1443.5" y="341.5" width="10.23" height="9.57" fill="#f2f7fd"/><rect x="1453.7" y="341.5" width="10.23" height="9.57" fill="#f3f8fe"/><rect x="1463.9" y="341.5" width="10.23" height="9.57" fill="#f7fbff"/><rect x="1474.0" y="341.5" width="10.23" height="9.57" fill="#f7fbff"/><rect x="1484.2" y="341.5" width="10.23" height="9.57" fill="#f3f8fe"/><rect x="1494.4" y="341.5" width="10.23" height="9.57" fill="#f7fbff"/><rect x="1504.6" y="341.5" width="10.23" height="9.57" fill="#f3f8fe"/><rect x="1514.8" y="341.5" width="10.23" height="9.57" fill="#f5fafe"/><rect x="1524.9" y="341.5" width="10.23" height="9.57" fill="#f3f8fe"/><rect x="1535.1" y="341.5" width="10.23" height="9.57" fill="#f3f8fe"/><rect x="1545.3" y="341.5" width="10.23" height="9.57" fill="#f5fafe"/><rect x="1555.5" y="341.5" width="10.23" height="9.57" fill="#f2f7fd"/><rect x="1565.7" y="341.5" width="10.23" height="9.57" fill="#f3f8fe"/><rect x="1575.8" y="341.5" width="10.23" height="9.57" fill="#f7fbff"/><rect x="1586.0" y="341.5" width="10.23" height="9.57" fill="#f3f8fe"/><rect x="1596.2" y="341.5" width="10.23" height="9.57" fill="#f3f8fe"/><rect x="1606.4" y="341.5" width="10.23" height="9.57" fill="#f7fbff"/><rect x="1616.6" y="341.5" width="10.23" height="9.57" fill="#f2f7fd"/><rect x="1626.7" y="341.5" width="10.23" height="9.57" fill="#f5fafe"/><rect x="1636.9" y="341.5" width="10.23" height="9.57" fill="#f2f7fd"/><rect x="1647.1" y="341.5" width="10.23" height="9.57" fill="#f7fbff"/><rect x="1657.3" y="341.5" width="10.23" height="9.57" fill="#f3f8fe"/><rect x="1667.5" y="341.5" width="10.23" height="9.57" fill="#f3f8fe"/><rect x="1677.6" y="341.5" width="10.23" height="9.57" fill="#083a7a"/><rect x="1687.8" y="341.5" width="10.23" height="9.57" fill="#f7fbff"/><rect x="1698.0" y="341.5" width="10.23" height="9.57" fill="#f3f8fe"/><rect x="1708.2" y="341.5" width="10.23" height="9.57" fill="#f7fbff"/><rect x="1392.6" y="351.0" width="10.23" height="9.57" fill="#f7fbff"/><rect x="1402.8" y="351.0" width="10.23" height="9.57" fill="#f2f7fd"/><rect x="1413.0" y="351.0" width="10.23" height="9.57" fill="#f5fafe"/><rect x="1423.1" y="351.0" width="10.23" height="9.57" fill="#f5fafe"/><rect x="1433.3" y="351.0" width="10.23" height="9.57" fill="#f2f7fd"/><rect x="1443.5" y="351.0" width="10.23" height="9.57" fill="#f5fafe"/><rect x="1453.7" y="351.0" width="10.23" height="9.57" fill="#f7fbff"/><rect x="1463.9" y="351.0" width="10.23" height="9.57" fill="#f2f7fd"/><rect x="1474.0" y="351.0" width="10.23" height="9.57" fill="#f2f7fd"/><rect x="1484.2" y="351.0" width="10.23" height="9.57" fill="#f5fafe"/><rect x="1494.4" y="351.0" width="10.23" height="9.57" fill="#f5fafe"/><rect x="1504.6" y="351.0" width="10.23" height="9.57" fill="#f2f7fd"/><rect x="1514.8" y="351.0" width="10.23" height="9.57" fill="#f5fafe"/><rect x="1524.9" y="351.0" width="10.23" height="9.57" fill="#f5fafe"/><rect x="1535.1" y="351.0" width="10.23" height="9.57" fill="#f3f8fe"/><rect x="1545.3" y="351.0" width="10.23" height="9.57" fill="#f3f8fe"/><rect x="1555.5" y="351.0" width="10.23" height="9.57" fill="#f5fafe"/><rect x="1565.7" y="351.0" width="10.23" height="9.57" fill="#f3f8fe"/><rect x="1575.8" y="351.0" width="10.23" height="9.57" fill="#f5fafe"/><rect x="1586.0" y="351.0" width="10.23" height="9.57" fill="#f3f8fe"/><rect x="1596.2" y="351.0" width="10.23" height="9.57" fill="#f3f8fe"/><rect x="1606.4" y="351.0" width="10.23" height="9.57" fill="#f3f8fe"/><rect x="1616.6" y="351.0" width="10.23" height="9.57" fill="#f5fafe"/><rect x="1626.7" y="351.0" width="10.23" height="9.57" fill="#f2f7fd"/><rect x="1636.9" y="351.0" width="10.23" height="9.57" fill="#f3f8fe"/><rect x="1647.1" y="351.0" width="10.23" height="9.57" fill="#f5fafe"/><rect x="1657.3" y="351.0" width="10.23" height="9.57" fill="#f7fbff"/><rect x="1667.5" y="351.0" width="10.23" height="9.57" fill="#f3f8fe"/><rect x="1677.6" y="351.0" width="10.23" height="9.57" fill="#f7fbff"/><rect x="1687.8" y="351.0" width="10.23" height="9.57" fill="#083c7d"/><rect x="1698.0" y="351.0" width="10.23" height="9.57" fill="#f3f8fe"/><rect x="1708.2" y="351.0" width="10.23" height="9.57" fill="#f3f8fe"/><rect x="1392.6" y="360.5" width="10.23" height="9.57" fill="#f7fbff"/><rect x="1402.8" y="360.5" width="10.23" height="9.57" fill="#f7fbff"/><rect x="1413.0" y="360.5" width="10.23" height="9.57" fill="#f2f7fd"/><rect x="1423.1" y="360.5" width="10.23" height="9.57" fill="#f2f7fd"/><rect x="1433.3" y="360.5" width="10.23" height="9.57" fill="#f3f8fe"/><rect x="1443.5" y="360.5" width="10.23" height="9.57" fill="#f7fbff"/><rect x="1453.7" y="360.5" width="10.23" height="9.57" fill="#f5fafe"/><rect x="1463.9" y="360.5" width="10.23" height="9.57" fill="#f7fbff"/><rect x="1474.0" y="360.5" width="10.23" height="9.57" fill="#f3f8fe"/><rect x="1484.2" y="360.5" width="10.23" height="9.57" fill="#f3f8fe"/><rect x="1494.4" y="360.5" width="10.23" height="9.57" fill="#f5fafe"/><rect x="1504.6" y="360.5" width="10.23" height="9.57" fill="#f7fbff"/><rect x="1514.8" y="360.5" width="10.23" height="9.57" fill="#f7fbff"/><rect x="1524.9" y="360.5" width="10.23" height="9.57" fill="#f2f7fd"/><rect x="1535.1" y="360.5" width="10.23" height="9.57" fill="#f3f8fe"/><rect x="1545.3" y="360.5" width="10.23" height="9.57" fill="#f7fbff"/><rect x="1555.5" y="360.5" width="10.23" height="9.57" fill="#f7fbff"/><rect x="1565.7" y="360.5" width="10.23" height="9.57" fill="#f2f7fd"/><rect x="1575.8" y="360.5" width="10.23" height="9.57" fill="#f3f8fe"/><rect x="1586.0" y="360.5" width="10.23" height="9.57" fill="#f3f8fe"/><rect x="1596.2" y="360.5" width="10.23" height="9.57" fill="#f5fafe"/><rect x="1606.4" y="360.5" width="10.23" height="9.57" fill="#f7fbff"/><rect x="1616.6" y="360.5" width="10.23" height="9.57" fill="#f3f8fe"/><rect x="1626.7" y="360.5" width="10.23" height="9.57" fill="#f5fafe"/><rect x="1636.9" y="360.5" width="10.23" height="9.57" fill="#f3f8fe"/><rect x="1647.1" y="360.5" width="10.23" height="9.57" fill="#f7fbff"/><rect x="1657.3" y="360.5" width="10.23" height="9.57" fill="#f7fbff"/><rect x="1667.5" y="360.5" width="10.23" height="9.57" fill="#f5fafe"/><rect x="1677.6" y="360.5" width="10.23" height="9.57" fill="#f2f7fd"/><rect x="1687.8" y="360.5" width="10.23" height="9.57" fill="#f7fbff"/><rect x="1698.0" y="360.5" width="10.23" height="9.57" fill="#083a7a"/><rect x="1708.2" y="360.5" width="10.23" height="9.57" fill="#f3f8fe"/><rect x="1392.6" y="370.0" width="10.23" height="9.57" fill="#f7fbff"/><rect x="1402.8" y="370.0" width="10.23" height="9.57" fill="#f7fbff"/><rect x="1413.0" y="370.0" width="10.23" height="9.57" fill="#f5fafe"/><rect x="1423.1" y="370.0" width="10.23" height="9.57" fill="#f3f8fe"/><rect x="1433.3" y="370.0" width="10.23" height="9.57" fill="#f7fbff"/><rect x="1443.5" y="370.0" width="10.23" height="9.57" fill="#f3f8fe"/><rect x="1453.7" y="370.0" width="10.23" height="9.57" fill="#f7fbff"/><rect x="1463.9" y="370.0" width="10.23" height="9.57" fill="#f5fafe"/><rect x="1474.0" y="370.0" width="10.23" height="9.57" fill="#f3f8fe"/><rect x="1484.2" y="370.0" width="10.23" height="9.57" fill="#f7fbff"/><rect x="1494.4" y="370.0" width="10.23" height="9.57" fill="#f5fafe"/><rect x="1504.6" y="370.0" width="10.23" height="9.57" fill="#f5fafe"/><rect x="1514.8" y="370.0" width="10.23" height="9.57" fill="#f5fafe"/><rect x="1524.9" y="370.0" width="10.23" height="9.57" fill="#5ba3d0"/><rect x="1535.1" y="370.0" width="10.23" height="9.57" fill="#f5fafe"/><rect x="1545.3" y="370.0" width="10.23" height="9.57" fill="#f3f8fe"/><rect x="1555.5" y="370.0" width="10.23" height="9.57" fill="#f3f8fe"/><rect x="1565.7" y="370.0" width="10.23" height="9.57" fill="#f7fbff"/><rect x="1575.8" y="370.0" width="10.23" height="9.57" fill="#f7fbff"/><rect x="1586.0" y="370.0" width="10.23" height="9.57" fill="#f2f7fd"/><rect x="1596.2" y="370.0" width="10.23" height="9.57" fill="#f2f7fd"/><rect x="1606.4" y="370.0" width="10.23" height="9.57" fill="#f3f8fe"/><rect x="1616.6" y="370.0" width="10.23" height="9.57" fill="#f2f7fd"/><rect x="1626.7" y="370.0" width="10.23" height="9.57" fill="#ccdff1"/><rect x="1636.9" y="370.0" width="10.23" height="9.57" fill="#f3f8fe"/><rect x="1647.1" y="370.0" width="10.23" height="9.57" fill="#f7fbff"/><rect x="1657.3" y="370.0" width="10.23" height="9.57" fill="#f3f8fe"/><rect x="1667.5" y="370.0" width="10.23" height="9.57" fill="#f5fafe"/><rect x="1677.6" y="370.0" width="10.23" height="9.57" fill="#f2f7fd"/><rect x="1687.8" y="370.0" width="10.23" height="9.57" fill="#f7fbff"/><rect x="1698.0" y="370.0" width="10.23" height="9.57" fill="#f7fbff"/><rect x="1708.2" y="370.0" width="10.23" height="9.57" fill="#f2f7fd"/>
<g class="dk"><text x="1395.1" y="81.0" textLength="5" lengthAdjust="spacingAndGlyphs">0.80</text><text x="1405.3" y="81.0" textLength="5" lengthAdjust="spacingAndGlyphs">0.00</text><text x="1415.4" y="81.0" textLength="5" lengthAdjust="spacingAndGlyphs">0.02</text><text x="1425.6" y="81.0" textLength="5" lengthAdjust="spacingAndGlyphs">0.02</text><text x="1435.8" y="81.0" textLength="5" lengthAdjust="spacingAndGlyphs">0.00</text><text x="1446.0" y="81.0" textLength="5" lengthAdjust="spacingAndGlyphs">0.01</text><text x="1456.2" y="81.0" textLength="5" lengthAdjust="spacingAndGlyphs">0.02</text><text x="1466.3" y="81.0" textLength="5" lengthAdjust="spacingAndGlyphs">0.01</text><text x="1476.5" y="81.0" textLength="5" lengthAdjust="spacingAndGlyphs">0.02</text><text x="1486.7" y="81.0" textLength="5" lengthAdjust="spacingAndGlyphs">0.02</text><text x="1496.9" y="81.0" textLength="5" lengthAdjust="spacingAndGlyphs">0.00</text><text x="1507.1" y="81.0" textLength="5" lengthAdjust="spacingAndGlyphs">0.02</text><text x="1517.2" y="81.0" textLength="5" lengthAdjust="spacingAndGlyphs">0.00</text><text x="1527.4" y="81.0" textLength="5" lengthAdjust="spacingAndGlyphs">0.03</text><text x="1537.6" y="81.0" textLength="5" lengthAdjust="spacingAndGlyphs">0.01</text><text x="1547.8" y="81.0" textLength="5" lengthAdjust="spacingAndGlyphs">0.01</text><text x="1558.0" y="81.0" textLength="5" lengthAdjust="spacingAndGlyphs">0.02</text><text x="1568.1" y="81.0" textLength="5" lengthAdjust="spacingAndGlyphs">0.00</text><text x="1578.3" y="81.0" textLength="5" lengthAdjust="spacingAndGlyphs">0.00</text><text x="1588.5" y="81.0" textLength="5" lengthAdjust="spacingAndGlyphs">0.02</text><text x="1598.7" y="81.0" textLength="5" lengthAdjust="spacingAndGlyphs">0.01</text><text x="1608.9" y="81.0" textLength="5" lengthAdjust="spacingAndGlyphs">0.02</text><text x="1619.0" y="81.0" textLength="5" lengthAdjust="spacingAndGlyphs">0.03</text><text x="1629.2" y="81.0" textLength="5" lengthAdjust="spacingAndGlyphs">0.02</text><text x="1639.4" y="81.0" textLength="5" lengthAdjust="spacingAndGlyphs">0.01</text><text x="1649.6" y="81.0" textLength="5" lengthAdjust="spacingAndGlyphs">0.01</text><text x="1659.8" y="81.0" textLength="5" lengthAdjust="spacingAndGlyphs">0.02</text><text x="1670.0" y="81.0" textLength="5" lengthAdjust="spacingAndGlyphs">0.03</text><text x="1680.1" y="81.0" textLength="5" lengthAdjust="spacingAndGlyphs">0.00</text><text x="1690.3" y="81.0" textLength="5" lengthAdjust="spacingAndGlyphs">0.00</text><text x="1700.5" y="81.0" textLength="5" lengthAdjust="spacingAndGlyphs">0.02</text><text x="1710.7" y="81.0" textLength="5" lengthAdjust="spacingAndGlyphs">0.00</text><text x="1395.1" y="90.5" textLength="5" lengthAdjust="spacingAndGlyphs">0.03</text><text x="1405.3" y="90.5" textLength="5" lengthAdjust="spacingAndGlyphs">0.97</text><text x="1415.4" y="90.5" textLength="5" lengthAdjust="spacingAndGlyphs">0.02</text><text x="1425.6" y="90.5" textLength="5" lengthAdjust="spacingAndGlyphs">0.01</text><text x="1435.8" y="90.5" textLength="5" lengthAdjust="spacingAndGlyphs">0.02</text><text x="1446.0" y="90.5" textLength="5" lengthAdjust="spacingAndGlyphs">0.00</text><text x="1456.2" y="90.5" textLength="5" lengthAdjust="spacingAndGlyphs">0.02</text><text x="1466.3" y="90.5" textLength="5" lengthAdjust="spacingAndGlyphs">0.03</text><text x="1476.5" y="90.5" textLength="5" lengthAdjust="spacingAndGlyphs">0.00</text><text x="1486.7" y="90.5" textLength="5" lengthAdjust="spacingAndGlyphs">0.00</text><text x="1496.9" y="90.5" textLength="5" lengthAdjust="spacingAndGlyphs">0.03</text><text x="1507.1" y="90.5" textLength="5" lengthAdjust="spacingAndGlyphs">0.02</text><text x="1517.2" y="90.5" textLength="5" lengthAdjust="spacingAndGlyphs">0.00</text><text x="1527.4" y="90.5" textLength="5" lengthAdjust="spacingAndGlyphs">0.01</text><text x="1537.6" y="90.5" textLength="5" lengthAdjust="spacingAndGlyphs">0.03</text><text x="1547.8" y="90.5" textLength="5" lengthAdjust="spacingAndGlyphs">0.00</text><text x="1558.0" y="90.5" textLength="5" lengthAdjust="spacingAndGlyphs">0.03</text><text x="1568.1" y="90.5" textLength="5" lengthAdjust="spacingAndGlyphs">0.03</text><text x="1578.3" y="90.5" textLength="5" lengthAdjust="spacingAndGlyphs">0.01</text><text x="1588.5" y="90.5" textLength="5" lengthAdjust="spacingAndGlyphs">0.01</text><text x="1598.7" y="90.5" textLength="5" lengthAdjust="spacingAndGlyphs">0.02</text><text x="1608.9" y="90.5" textLength="5" lengthAdjust="spacingAndGlyphs">0.02</text><text x="1619.0" y="90.5" textLength="5" lengthAdjust="spacingAndGlyphs">0.01</text><text x="1629.2" y="90.5" textLength="5" lengthAdjust="spacingAndGlyphs">0.02</text><text x="1639.4" y="90.5" textLength="5" lengthAdjust="spacingAndGlyphs">0.03</text><text x="1649.6" y="90.5" textLength="5" lengthAdjust="spacingAndGlyphs">0.01</text><text x="1659.8" y="90.5" textLength="5" lengthAdjust="spacingAndGlyphs">0.01</text><text x="1670.0" y="90.5" textLength="5" lengthAdjust="spacingAndGlyphs">0.02</text><text x="1680.1" y="90.5" textLength="5" lengthAdjust="spacingAndGlyphs">0.03</text><text x="1690.3" y="90.5" textLength="5" lengthAdjust="spacingAndGlyphs">0.02</text><text x="1700.5" y="90.5" textLength="5" lengthAdjust="spacingAndGlyphs">0.01</text><text x="1710.7" y="90.5" textLength="5" lengthAdjust="spacingAndGlyphs">0.00</text><text x="1395.1" y="100.0" textLength="5" lengthAdjust="spacingAndGlyphs">0.01</text><text x="1405.3" y="100.0" textLength="5" lengthAdjust="spacingAndGlyphs">0.00</text><text x="1415.4" y="100.0" textLength="5" lengthAdjust="spacingAndGlyphs">0.97</text><text x="1425.6" y="100.0" textLength="5" lengthAdjust="spacingAndGlyphs">0.00</text><text x="1435.8" y="100.0" textLength="5" lengthAdjust="spacingAndGlyphs">0.00</text><text x="1446.0" y="100.0" textLength="5" lengthAdjust="spacingAndGlyphs">0.01</text><text x="1456.2" y="100.0" textLength="5" lengthAdjust="spacingAndGlyphs">0.00</text><text x="1466.3" y="100.0" textLength="5" lengthAdjust="spacingAndGlyphs">0.01</text><text x="1476.5" y="100.0" textLength="5" lengthAdjust="spacingAndGlyphs">0.02</text><text x="1486.7" y="100.0" textLength="5" lengthAdjust="spacingAndGlyphs">0.01</text><text x="1496.9" y="100.0" textLength="5" lengthAdjust="spacingAndGlyphs">0.03</text><text x="1507.1" y="100.0" textLength="5" lengthAdjust="spacingAndGlyphs">0.02</text><text x="1517.2" y="100.0" textLength="5" lengthAdjust="spacingAndGlyphs">0.03</text><text x="1527.4" y="100.0" textLength="5" lengthAdjust="spacingAndGlyphs">0.01</text><text x="1537.6" y="100.0" textLength="5" lengthAdjust="spacingAndGlyphs">0.01</text><text x="1547.8" y="100.0" textLength="5" lengthAdjust="spacingAndGlyphs">0.02</text><text x="1558.0" y="100.0" textLength="5" lengthAdjust="spacingAndGlyphs">0.03</text><text x="1568.1" y="100.0" textLength="5" lengthAdjust="spacingAndGlyphs">0.01</text><text x="1578.3" y="100.0" textLength="5" lengthAdjust="spacingAndGlyphs">0.02</text><text x="1588.5" y="100.0" textLength="5" lengthAdjust="spacingAndGlyphs">0.01</text><text x="1598.7" y="100.0" textLength="5" lengthAdjust="spacingAndGlyphs">0.02</text><text x="1608.9" y="100.0" textLength="5" lengthAdjust="spacingAndGlyphs">0.02</text><text x="1619.0" y="100.0" textLength="5" lengthAdjust="spacingAndGlyphs">0.01</text><text x="1629.2" y="100.0" textLength="5" lengthAdjust="spacingAndGlyphs">0.02</text><text x="1639.4" y="100.0" textLength="5" lengthAdjust="spacingAndGlyphs">0.00</text><text x="1649.6" y="100.0" textLength="5" lengthAdjust="spacingAndGlyphs">0.01</text><text x="1659.8" y="100.0" textLength="5" lengthAdjust="spacingAndGlyphs">0.02</text><text x="1670.0" y="100.0" textLength="5" lengthAdjust="spacingAndGlyphs">0.00</text><text x="1680.1" y="100.0" textLength="5" lengthAdjust="spacingAndGlyphs">0.03</text><text x="1690.3" y="100.0" textLength="5" lengthAdjust="spacingAndGlyphs">0.01</text><text x="1700.5" y="100.0" textLength="5" lengthAdjust="spacingAndGlyphs">0.02</text><text x="1710.7" y="100.0" textLength="5" lengthAdjust="spacingAndGlyphs">0.02</text><text x="1395.1" y="109.5" textLength="5" lengthAdjust="spacingAndGlyphs">0.02</text><text x="1405.3" y="109.5" textLength="5" lengthAdjust="spacingAndGlyphs">0.00</text><text x="1415.4" y="109.5" textLength="5" lengthAdjust="spacingAndGlyphs">0.02</text><text x="1425.6" y="109.5" textLength="5" lengthAdjust="spacingAndGlyphs">0.95</text><text x="1435.8" y="109.5" textLength="5" lengthAdjust="spacingAndGlyphs">0.03</text><text x="1446.0" y="109.5" textLength="5" lengthAdjust="spacingAndGlyphs">0.01</text><text x="1456.2" y="109.5" textLength="5" lengthAdjust="spacingAndGlyphs">0.02</text><text x="1466.3" y="109.5" textLength="5" lengthAdjust="spacingAndGlyphs">0.02</text><text x="1476.5" y="109.5" textLength="5" lengthAdjust="spacingAndGlyphs">0.02</text><text x="1486.7" y="109.5" textLength="5" lengthAdjust="spacingAndGlyphs">0.00</text><text x="1496.9" y="109.5" textLength="5" lengthAdjust="spacingAndGlyphs">0.02</text><text x="1507.1" y="109.5" textLength="5" lengthAdjust="spacingAndGlyphs">0.02</text><text x="1517.2" y="109.5" textLength="5" lengthAdjust="spacingAndGlyphs">0.00</text><text x="1527.4" y="109.5" textLength="5" lengthAdjust="spacingAndGlyphs">0.02</text><text x="1537.6" y="109.5" textLength="5" lengthAdjust="spacingAndGlyphs">0.03</text><text x="1547.8" y="109.5" textLength="5" lengthAdjust="spacingAndGlyphs">0.02</text><text x="1558.0" y="109.5" textLength="5" lengthAdjust="spacingAndGlyphs">0.01</text><text x="1568.1" y="109.5" textLength="5" lengthAdjust="spacingAndGlyphs">0.01</text><text x="1578.3" y="109.5" textLength="5" lengthAdjust="spacingAndGlyphs">0.00</text><text x="1588.5" y="109.5" textLength="5" lengthAdjust="spacingAndGlyphs">0.00</text><text x="1598.7" y="109.5" textLength="5" lengthAdjust="spacingAndGlyphs">0.01</text><text x="1608.9" y="109.5" textLength="5" lengthAdjust="spacingAndGlyphs">0.03</text><text x="1619.0" y="109.5" textLength="5" lengthAdjust="spacingAndGlyphs">0.02</text><text x="1629.2" y="109.5" textLength="5" lengthAdjust="spacingAndGlyphs">0.01</text><text x="1639.4" y="109.5" textLength="5" lengthAdjust="spacingAndGlyphs">0.00</text><text x="1649.6" y="109.5" textLength="5" lengthAdjust="spacingAndGlyphs">0.01</text><text x="1659.8" y="109.5" textLength="5" lengthAdjust="spacingAndGlyphs">0.03</text><text x="1670.0" y="109.5" textLength="5" lengthAdjust="spacingAndGlyphs">0.00</text><text x="1680.1" y="109.5" textLength="5" lengthAdjust="spacingAndGlyphs">0.01</text><text x="1690.3" y="109.5" textLength="5" lengthAdjust="spacingAndGlyphs">0.00</text><text x="1700.5" y="109.5" textLength="5" lengthAdjust="spacingAndGlyphs">0.00</text><text x="1710.7" y="109.5" textLength="5" lengthAdjust="spacingAndGlyphs">0.01</text><text x="1395.1" y="119.0" textLength="5" lengthAdjust="spacingAndGlyphs">0.01</text><text x="1405.3" y="119.0" textLength="5" lengthAdjust="spacingAndGlyphs">0.03</text><text x="1415.4" y="119.0" textLength="5" lengthAdjust="spacingAndGlyphs">0.01</text><text x="1425.6" y="119.0" textLength="5" lengthAdjust="spacingAndGlyphs">0.03</text><text x="1435.8" y="119.0" textLength="5" lengthAdjust="spacingAndGlyphs">0.97</text><text x="1446.0" y="119.0" textLength="5" lengthAdjust="spacingAndGlyphs">0.00</text><text x="1456.2" y="119.0" textLength="5" lengthAdjust="spacingAndGlyphs">0.00</text><text x="1466.3" y="119.0" textLength="5" lengthAdjust="spacingAndGlyphs">0.02</text><text x="1476.5" y="119.0" textLength="5" lengthAdjust="spacingAndGlyphs">0.02</text><text x="1486.7" y="119.0" textLength="5" lengthAdjust="spacingAndGlyphs">0.03</text><text x="1496.9" y="119.0" textLength="5" lengthAdjust="spacingAndGlyphs">0.00</text><text x="1507.1" y="119.0" textLength="5" lengthAdjust="spacingAndGlyphs">0.01</text><text x="1517.2" y="119.0" textLength="5" lengthAdjust="spacingAndGlyphs">0.02</text><text x="1527.4" y="119.0" textLength="5" lengthAdjust="spacingAndGlyphs">0.02</text><text x="1537.6" y="119.0" textLength="5" lengthAdjust="spacingAndGlyphs">0.01</text><text x="1547.8" y="119.0" textLength="5" lengthAdjust="spacingAndGlyphs">0.02</text><text x="1558.0" y="119.0" textLength="5" lengthAdjust="spacingAndGlyphs">0.01</text><text x="1568.1" y="119.0" textLength="5" lengthAdjust="spacingAndGlyphs">0.02</text><text x="1578.3" y="119.0" textLength="5" lengthAdjust="spacingAndGlyphs">0.00</text><text x="1588.5" y="119.0" textLength="5" lengthAdjust="spacingAndGlyphs">0.00</text><text x="1598.7" y="119.0" textLength="5" lengthAdjust="spacingAndGlyphs">0.01</text><text x="1608.9" y="119.0" textLength="5" lengthAdjust="spacingAndGlyphs">0.00</text><text x="1619.0" y="119.0" textLength="5" lengthAdjust="spacingAndGlyphs">0.00</text><text x="1629.2" y="119.0" textLength="5" lengthAdjust="spacingAndGlyphs">0.00</text><text x="1639.4" y="119.0" textLength="5" lengthAdjust="spacingAndGlyphs">0.02</text><text x="1649.6" y="119.0" textLength="5" lengthAdjust="spacingAndGlyphs">0.02</text><text x="1659.8" y="119.0" textLength="5" lengthAdjust="spacingAndGlyphs">0.00</text><text x="1670.0" y="119.0" textLength="5" lengthAdjust="spacingAndGlyphs">0.00</text><text x="1680.1" y="119.0" textLength="5" lengthAdjust="spacingAndGlyphs">0.01</text><text x="1690.3" y="119.0" textLength="5" lengthAdjust="spacingAndGlyphs">0.01</text><text x="1700.5" y="119.0" textLength="5" lengthAdjust="spacingAndGlyphs">0.02</text><text x="1710.7" y="119.0" textLength="5" lengthAdjust="spacingAndGlyphs">0.01</text><text x="1395.1" y="128.6" textLength="5" lengthAdjust="spacingAndGlyphs">0.00</text><text x="1405.3" y="128.6" textLength="5" lengthAdjust="spacingAndGlyphs">0.02</text><text x="1415.4" y="128.6" textLength="5" lengthAdjust="spacingAndGlyphs">0.00</text><text x="1425.6" y="128.6" textLength="5" lengthAdjust="spacingAndGlyphs">0.03</text><text x="1435.8" y="128.6" textLength="5" lengthAdjust="spacingAndGlyphs">0.01</text><text x="1446.0" y="128.6" textLength="5" lengthAdjust="spacingAndGlyphs">0.95</text><text x="1456.2" y="128.6" textLength="5" lengthAdjust="spacingAndGlyphs">0.01</text><text x="1466.3" y="128.6" textLength="5" lengthAdjust="spacingAndGlyphs">0.01</text><text x="1476.5" y="128.6" textLength="5" lengthAdjust="spacingAndGlyphs">0.00</text><text x="1486.7" y="128.6" textLength="5" lengthAdjust="spacingAndGlyphs">0.03</text><text x="1496.9" y="128.6" textLength="5" lengthAdjust="spacingAndGlyphs">0.01</text><text x="1507.1" y="128.6" textLength="5" lengthAdjust="spacingAndGlyphs">0.01</text><text x="1517.2" y="128.6" textLength="5" lengthAdjust="spacingAndGlyphs">0.01</text><text x="1527.4" y="128.6" textLength="5" lengthAdjust="spacingAndGlyphs">0.03</text><text x="1537.6" y="128.6" textLength="5" lengthAdjust="spacingAndGlyphs">0.02</text><text x="1547.8" y="128.6" textLength="5" lengthAdjust="spacingAndGlyphs">0.01</text><text x="1558.0" y="128.6" textLength="5" lengthAdjust="spacingAndGlyphs">0.02</text><text x="1568.1" y="128.6" textLength="5" lengthAdjust="spacingAndGlyphs">0.03</text><text x="1578.3" y="128.6" textLength="5" lengthAdjust="spacingAndGlyphs">0.02</text><text x="1588.5" y="128.6" textLength="5" lengthAdjust="spacingAndGlyphs">0.02</text><text x="1598.7" y="128.6" textLength="5" lengthAdjust="spacingAndGlyphs">0.02</text><text x="1608.9" y="128.6" textLength="5" lengthAdjust="spacingAndGlyphs">0.00</text><text x="1619.0" y="128.6" textLength="5" lengthAdjust="spacingAndGlyphs">0.02</text><text x="1629.2" y="128.6" textLength="5" lengthAdjust="spacingAndGlyphs">0.03</text><text x="1639.4" y="128.6" textLength="5" lengthAdjust="spacingAndGlyphs">0.02</text><text x="1649.6" y="128.6" textLength="5" lengthAdjust="spacingAndGlyphs">0.01</text><text x="1659.8" y="128.6" textLength="5" lengthAdjust="spacingAndGlyphs">0.01</text><text x="1670.0" y="128.6" textLength="5" lengthAdjust="spacingAndGlyphs">0.02</text><text x="1680.1" y="128.6" textLength="5" lengthAdjust="spacingAndGlyphs">0.02</text><text x="1690.3" y="128.6" textLength="5" lengthAdjust="spacingAndGlyphs">0.02</text><text x="1700.5" y="128.6" textLength="5" lengthAdjust="spacingAndGlyphs">0.00</text><text x="1710.7" y="128.6" textLength="5" lengthAdjust="spacingAndGlyphs">0.01</text><text x="1395.1" y="138.1" textLength="5" lengthAdjust="spacingAndGlyphs">0.01</text><text x="1405.3" y="138.1" textLength="5" lengthAdjust="spacingAndGlyphs">0.01</text><text x="1415.4" y="138.1" textLength="5" lengthAdjust="spacingAndGlyphs">0.02</text><text x="1425.6" y="138.1" textLength="5" lengthAdjust="spacingAndGlyphs">0.01</text><text x="1435.8" y="138.1" textLength="5" lengthAdjust="spacingAndGlyphs">0.02</text><text x="1446.0" y="138.1" textLength="5" lengthAdjust="spacingAndGlyphs">0.01</text><text x="1456.2" y="138.1" textLength="5" lengthAdjust="spacingAndGlyphs">0.96</text><text x="1466.3" y="138.1" textLength="5" lengthAdjust="spacingAndGlyphs">0.00</text><text x="1476.5" y="138.1" textLength="5" lengthAdjust="spacingAndGlyphs">0.03</text><text x="1486.7" y="138.1" textLength="5" lengthAdjust="spacingAndGlyphs">0.01</text><text x="1496.9" y="138.1" textLength="5" lengthAdjust="spacingAndGlyphs">0.02</text><text x="1507.1" y="138.1" textLength="5" lengthAdjust="spacingAndGlyphs">0.01</text><text x="1517.2" y="138.1" textLength="5" lengthAdjust="spacingAndGlyphs">0.00</text><text x="1527.4" y="138.1" textLength="5" lengthAdjust="spacingAndGlyphs">0.01</text><text x="1537.6" y="138.1" textLength="5" lengthAdjust="spacingAndGlyphs">0.02</text><text x="1547.8" y="138.1" textLength="5" lengthAdjust="spacingAndGlyphs">0.02</text><text x="1558.0" y="138.1" textLength="5" lengthAdjust="spacingAndGlyphs">0.02</text><text x="1568.1" y="138.1" textLength="5" lengthAdjust="spacingAndGlyphs">0.00</text><text x="1578.3" y="138.1" textLength="5" lengthAdjust="spacingAndGlyphs">0.00</text><text x="1588.5" y="138.1" textLength="5" lengthAdjust="spacingAndGlyphs">0.02</text><text x="1598.7" y="138.1" textLength="5" lengthAdjust="spacingAndGlyphs">0.02</text><text x="1608.9" y="138.1" textLength="5" lengthAdjust="spacingAndGlyphs">0.01</text><text x="1619.0" y="138.1" textLength="5" lengthAdjust="spacingAndGlyphs">0.01</text><text x="1629.2" y="138.1" textLength="5" lengthAdjust="spacingAndGlyphs">0.01</text><text x="1639.4" y="138.1" textLength="5" lengthAdjust="spacingAndGlyphs">0.02</text><text x="1649.6" y="138.1" textLength="5" lengthAdjust="spacingAndGlyphs">0.01</text><text x="1659.8" y="138.1" textLength="5" lengthAdjust="spacingAndGlyphs">0.02</text><text x="1670.0" y="138.1" textLength="5" lengthAdjust="spacingAndGlyphs">0.02</text><text x="1680.1" y="138.1" textLength="5" lengthAdjust="spacingAndGlyphs">0.01</text><text x="1690.3" y="138.1" textLength="5" lengthAdjust="spacingAndGlyphs">0.02</text><text x="1700.5" y="138.1" textLength="5" lengthAdjust="spacingAndGlyphs">0.01</text><text x="1710.7" y="138.1" textLength="5" lengthAdjust="spacingAndGlyphs">0.00</text><text x="1395.1" y="147.6" textLength="5" lengthAdjust="spacingAndGlyphs">0.02</text><text x="1405.3" y="147.6" textLength="5" lengthAdjust="spacingAndGlyphs">0.00</text><text x="1415.4" y="147.6" textLength="5" lengthAdjust="spacingAndGlyphs">0.02</text><text x="1425.6" y="147.6" textLength="5" lengthAdjust="spacingAndGlyphs">0.00</text><text x="1435.8" y="147.6" textLength="5" lengthAdjust="spacingAndGlyphs">0.01</text><text x="1446.0" y="147.6" textLength="5" lengthAdjust="spacingAndGlyphs">0.01</text><text x="1456.2" y="147.6" textLength="5" lengthAdjust="spacingAndGlyphs">0.02</text><text x="1466.3" y="147.6" textLength="5" lengthAdjust="spacingAndGlyphs">0.94</text><text x="1476.5" y="147.6" textLength="5" lengthAdjust="spacingAndGlyphs">0.01</text><text x="1486.7" y="147.6" textLength="5" lengthAdjust="spacingAndGlyphs">0.01</text><text x="1496.9" y="147.6" textLength="5" lengthAdjust="spacingAndGlyphs">0.02</text><text x="1507.1" y="147.6" textLength="5" lengthAdjust="spacingAndGlyphs">0.02</text><text x="1517.2" y="147.6" textLength="5" lengthAdjust="spacingAndGlyphs">0.01</text><text x="1527.4" y="147.6" textLength="5" lengthAdjust="spacingAndGlyphs">0.00</text><text x="1537.6" y="147.6" textLength="5" lengthAdjust="spacingAndGlyphs">0.01</text><text x="1547.8" y="147.6" textLength="5" lengthAdjust="spacingAndGlyphs">0.00</text><text x="1558.0" y="147.6" textLength="5" lengthAdjust="spacingAndGlyphs">0.01</text><text x="1568.1" y="147.6" textLength="5" lengthAdjust="spacingAndGlyphs">0.03</text><text x="1578.3" y="147.6" textLength="5" lengthAdjust="spacingAndGlyphs">0.01</text><text x="1588.5" y="147.6" textLength="5" lengthAdjust="spacingAndGlyphs">0.03</text><text x="1598.7" y="147.6" textLength="5" lengthAdjust="spacingAndGlyphs">0.02</text><text x="1608.9" y="147.6" textLength="5" lengthAdjust="spacingAndGlyphs">0.01</text><text x="1619.0" y="147.6" textLength="5" lengthAdjust="spacingAndGlyphs">0.01</text><text x="1629.2" y="147.6" textLength="5" lengthAdjust="spacingAndGlyphs">0.03</text><text x="1639.4" y="147.6" textLength="5" lengthAdjust="spacingAndGlyphs">0.01</text><text x="1649.6" y="147.6" textLength="5" lengthAdjust="spacingAndGlyphs">0.00</text><text x="1659.8" y="147.6" textLength="5" lengthAdjust="spacingAndGlyphs">0.03</text><text x="1670.0" y="147.6" textLength="5" lengthAdjust="spacingAndGlyphs">0.03</text><text x="1680.1" y="147.6" textLength="5" lengthAdjust="spacingAndGlyphs">0.00</text><text x="1690.3" y="147.6" textLength="5" lengthAdjust="spacingAndGlyphs">0.02</text><text x="1700.5" y="147.6" textLength="5" lengthAdjust="spacingAndGlyphs">0.02</text><text x="1710.7" y="147.6" textLength="5" lengthAdjust="spacingAndGlyphs">0.02</text><text x="1395.1" y="157.1" textLength="5" lengthAdjust="spacingAndGlyphs">0.00</text><text x="1405.3" y="157.1" textLength="5" lengthAdjust="spacingAndGlyphs">0.01</text><text x="1415.4" y="157.1" textLength="5" lengthAdjust="spacingAndGlyphs">0.02</text><text x="1425.6" y="157.1" textLength="5" lengthAdjust="spacingAndGlyphs">0.00</text><text x="1435.8" y="157.1" textLength="5" lengthAdjust="spacingAndGlyphs">0.02</text><text x="1446.0" y="157.1" textLength="5" lengthAdjust="spacingAndGlyphs">0.03</text><text x="1456.2" y="157.1" textLength="5" lengthAdjust="spacingAndGlyphs">0.01</text><text x="1466.3" y="157.1" textLength="5" lengthAdjust="spacingAndGlyphs">0.00</text><text x="1476.5" y="157.1" textLength="5" lengthAdjust="spacingAndGlyphs">0.96</text><text x="1486.7" y="157.1" textLength="5" lengthAdjust="spacingAndGlyphs">0.01</text><text x="1496.9" y="157.1" textLength="5" lengthAdjust="spacingAndGlyphs">0.00</text><text x="1507.1" y="157.1" textLength="5" lengthAdjust="spacingAndGlyphs">0.02</text><text x="1517.2" y="157.1" textLength="5" lengthAdjust="spacingAndGlyphs">0.01</text><text x="1527.4" y="157.1" textLength="5" lengthAdjust="spacingAndGlyphs">0.02</text><text x="1537.6" y="157.1" textLength="5" lengthAdjust="spacingAndGlyphs">0.02</text><text x="1547.8" y="157.1" textLength="5" lengthAdjust="spacingAndGlyphs">0.00</text><text x="1558.0" y="157.1" textLength="5" lengthAdjust="spacingAndGlyphs">0.00</text><text x="1568.1" y="157.1" textLength="5" lengthAdjust="spacingAndGlyphs">0.02</text><text x="1578.3" y="157.1" textLength="5" lengthAdjust="spacingAndGlyphs">0.01</text><text x="1588.5" y="157.1" textLength="5" lengthAdjust="spacingAndGlyphs">0.01</text><text x="1598.7" y="157.1" textLength="5" lengthAdjust="spacingAndGlyphs">0.02</text><text x="1608.9" y="157.1" textLength="5" lengthAdjust="spacingAndGlyphs">0.03</text><text x="1619.0" y="157.1" textLength="5" lengthAdjust="spacingAndGlyphs">0.00</text><text x="1629.2" y="157.1" textLength="5" lengthAdjust="spacingAndGlyphs">0.01</text><text x="1639.4" y="157.1" textLength="5" lengthAdjust="spacingAndGlyphs">0.03</text><text x="1649.6" y="157.1" textLength="5" lengthAdjust="spacingAndGlyphs">0.03</text><text x="1659.8" y="157.1" textLength="5" lengthAdjust="spacingAndGlyphs">0.00</text><text x="1670.0" y="157.1" textLength="5" lengthAdjust="spacingAndGlyphs">0.00</text><text x="1680.1" y="157.1" textLength="5" lengthAdjust="spacingAndGlyphs">0.01</text><text x="1690.3" y="157.1" textLength="5" lengthAdjust="spacingAndGlyphs">0.02</text><text x="1700.5" y="157.1" textLength="5" lengthAdjust="spacingAndGlyphs">0.02</text><text x="1710.7" y="157.1" textLength="5" lengthAdjust="spacingAndGlyphs">0.00</text><text x="1395.1" y="166.6" textLength="5" lengthAdjust="spacingAndGlyphs">0.02</text><text x="1405.3" y="166.6" textLength="5" lengthAdjust="spacingAndGlyphs">0.01</text><text x="1415.4" y="166.6" textLength="5" lengthAdjust="spacingAndGlyphs">0.01</text><text x="1425.6" y="166.6" textLength="5" lengthAdjust="spacingAndGlyphs">0.00</text><text x="1435.8" y="166.6" textLength="5" lengthAdjust="spacingAndGlyphs">0.03</text><text x="1446.0" y="166.6" textLength="5" lengthAdjust="spacingAndGlyphs">0.00</text><text x="1456.2" y="166.6" textLength="5" lengthAdjust="spacingAndGlyphs">0.00</text><text x="1466.3" y="166.6" textLength="5" lengthAdjust="spacingAndGlyphs">0.02</text><text x="1476.5" y="166.6" textLength="5" lengthAdjust="spacingAndGlyphs">0.00</text><text x="1486.7" y="166.6" textLength="5" lengthAdjust="spacingAndGlyphs">0.82</text><text x="1496.9" y="166.6" textLength="5" lengthAdjust="spacingAndGlyphs">0.01</text><text x="1507.1" y="166.6" textLength="5" lengthAdjust="spacingAndGlyphs">0.03</text><text x="1517.2" y="166.6" textLength="5" lengthAdjust="spacingAndGlyphs">0.03</text><text x="1527.4" y="166.6" textLength="5" lengthAdjust="spacingAndGlyphs">0.03</text><text x="1537.6" y="166.6" textLength="5" lengthAdjust="spacingAndGlyphs">0.02</text><text x="1547.8" y="166.6" textLength="5" lengthAdjust="spacingAndGlyphs">0.00</text><text x="1558.0" y="166.6" textLength="5" lengthAdjust="spacingAndGlyphs">0.03</text><text x="1568.1" y="166.6" textLength="5" lengthAdjust="spacingAndGlyphs">0.01</text><text x="1578.3" y="166.6" textLength="5" lengthAdjust="spacingAndGlyphs">0.01</text><text x="1588.5" y="166.6" textLength="5" lengthAdjust="spacingAndGlyphs">0.03</text><text x="1598.7" y="166.6" textLength="5" lengthAdjust="spacingAndGlyphs">0.03</text><text x="1608.9" y="166.6" textLength="5" lengthAdjust="spacingAndGlyphs">0.02</text><text x="1619.0" y="166.6" textLength="5" lengthAdjust="spacingAndGlyphs">0.00</text><text x="1629.2" y="166.6" textLength="5" lengthAdjust="spacingAndGlyphs">0.03</text><text x="1639.4" y="166.6" textLength="5" lengthAdjust="spacingAndGlyphs">0.02</text><text x="1649.6" y="166.6" textLength="5" lengthAdjust="spacingAndGlyphs">0.01</text><text x="1659.8" y="166.6" textLength="5" lengthAdjust="spacingAndGlyphs">0.02</text><text x="1670.0" y="166.6" textLength="5" lengthAdjust="spacingAndGlyphs">0.00</text><text x="1680.1" y="166.6" textLength="5" lengthAdjust="spacingAndGlyphs">0.01</text><text x="1690.3" y="166.6" textLength="5" lengthAdjust="spacingAndGlyphs">0.01</text><text x="1700.5" y="166.6" textLength="5" lengthAdjust="spacingAndGlyphs">0.02</text><text x="1710.7" y="166.6" textLength="5" lengthAdjust="spacingAndGlyphs">0.03</text><text x="1395.1" y="176.2" textLength="5" lengthAdjust="spacingAndGlyphs">0.03</text><text x="1405.3" y="176.2" textLength="5" lengthAdjust="spacingAndGlyphs">0.01</text><text x="1415.4" y="176.2" textLength="5" lengthAdjust="spacingAndGlyphs">0.01</text><text x="1425.6" y="176.2" textLength="5" lengthAdjust="spacingAndGlyphs">0.01</text><text x="1435.8" y="176.2" textLength="5" lengthAdjust="spacingAndGlyphs">0.02</text><text x="1446.0" y="176.2" textLength="5" lengthAdjust="spacingAndGlyphs">0.01</text><text x="1456.2" y="176.2" textLength="5" lengthAdjust="spacingAndGlyphs">0.01</text><text x="1466.3" y="176.2" textLength="5" lengthAdjust="spacingAndGlyphs">0.01</text><text x="1476.5" y="176.2" textLength="5" lengthAdjust="spacingAndGlyphs">0.02</text><text x="1486.7" y="176.2" textLength="5" lengthAdjust="spacingAndGlyphs">0.01</text><text x="1496.9" y="176.2" textLength="5" lengthAdjust="spacingAndGlyphs">0.96</text><text x="1507.1" y="176.2" textLength="5" lengthAdjust="spacingAndGlyphs">0.00</text><text x="1517.2" y="176.2" textLength="5" lengthAdjust="spacingAndGlyphs">0.01</text><text x="1527.4" y="176.2" textLength="5" lengthAdjust="spacingAndGlyphs">0.00</text><text x="1537.6" y="176.2" textLength="5" lengthAdjust="spacingAndGlyphs">0.00</text><text x="1547.8" y="176.2" textLength="5" lengthAdjust="spacingAndGlyphs">0.00</text><text x="1558.0" y="176.2" textLength="5" lengthAdjust="spacingAndGlyphs">0.01</text><text x="1568.1" y="176.2" textLength="5" lengthAdjust="spacingAndGlyphs">0.03</text><text x="1578.3" y="176.2" textLength="5" lengthAdjust="spacingAndGlyphs">0.02</text><text x="1588.5" y="176.2" textLength="5" lengthAdjust="spacingAndGlyphs">0.02</text><text x="1598.7" y="176.2" textLength="5" lengthAdjust="spacingAndGlyphs">0.01</text><text x="1608.9" y="176.2" textLength="5" lengthAdjust="spacingAndGlyphs">0.02</text><text x="1619.0" y="176.2" textLength="5" lengthAdjust="spacingAndGlyphs">0.02</text><text x="1629.2" y="176.2" textLength="5" lengthAdjust="spacingAndGlyphs">0.00</text><text x="1639.4" y="176.2" textLength="5" lengthAdjust="spacingAndGlyphs">0.00</text><text x="1649.6" y="176.2" textLength="5" lengthAdjust="spacingAndGlyphs">0.02</text><text x="1659.8" y="176.2" textLength="5" lengthAdjust="spacingAndGlyphs">0.01</text><text x="1670.0" y="176.2" textLength="5" lengthAdjust="spacingAndGlyphs">0.03</text><text x="1680.1" y="176.2" textLength="5" lengthAdjust="spacingAndGlyphs">0.03</text><text x="1690.3" y="176.2" textLength="5" lengthAdjust="spacingAndGlyphs">0.02</text><text x="1700.5" y="176.2" textLength="5" lengthAdjust="spacingAndGlyphs">0.02</text><text x="1710.7" y="176.2" textLength="5" lengthAdjust="spacingAndGlyphs">0.02</text><text x="1395.1" y="185.7" textLength="5" lengthAdjust="spacingAndGlyphs">0.01</text><text x="1405.3" y="185.7" textLength="5" lengthAdjust="spacingAndGlyphs">0.02</text><text x="1415.4" y="185.7" textLength="5" lengthAdjust="spacingAndGlyphs">0.01</text><text x="1425.6" y="185.7" textLength="5" lengthAdjust="spacingAndGlyphs">0.00</text><text x="1435.8" y="185.7" textLength="5" lengthAdjust="spacingAndGlyphs">0.03</text><text x="1446.0" y="185.7" textLength="5" lengthAdjust="spacingAndGlyphs">0.00</text><text x="1456.2" y="185.7" textLength="5" lengthAdjust="spacingAndGlyphs">0.03</text><text x="1466.3" y="185.7" textLength="5" lengthAdjust="spacingAndGlyphs">0.02</text><text x="1476.5" y="185.7" textLength="5" lengthAdjust="spacingAndGlyphs">0.01</text><text x="1486.7" y="185.7" textLength="5" lengthAdjust="spacingAndGlyphs">0.00</text><text x="1496.9" y="185.7" textLength="5" lengthAdjust="spacingAndGlyphs">0.03</text><text x="1507.1" y="185.7" textLength="5" lengthAdjust="spacingAndGlyphs">0.85</text><text x="1517.2" y="185.7" textLength="5" lengthAdjust="spacingAndGlyphs">0.00</text><text x="1527.4" y="185.7" textLength="5" lengthAdjust="spacingAndGlyphs">0.00</text><text x="1537.6" y="185.7" textLength="5" lengthAdjust="spacingAndGlyphs">0.00</text><text x="1547.8" y="185.7" textLength="5" lengthAdjust="spacingAndGlyphs">0.03</text><text x="1558.0" y="185.7" textLength="5" lengthAdjust="spacingAndGlyphs">0.02</text><text x="1568.1" y="185.7" textLength="5" lengthAdjust="spacingAndGlyphs">0.02</text><text x="1578.3" y="185.7" textLength="5" lengthAdjust="spacingAndGlyphs">0.00</text><text x="1588.5" y="185.7" textLength="5" lengthAdjust="spacingAndGlyphs">0.01</text><text x="1598.7" y="185.7" textLength="5" lengthAdjust="spacingAndGlyphs">0.02</text><text x="1608.9" y="185.7" textLength="5" lengthAdjust="spacingAndGlyphs">0.00</text><text x="1619.0" y="185.7" textLength="5" lengthAdjust="spacingAndGlyphs">0.00</text><text x="1629.2" y="185.7" textLength="5" lengthAdjust="spacingAndGlyphs">0.01</text><text x="1639.4" y="185.7" textLength="5" lengthAdjust="spacingAndGlyphs">0.02</text><text x="1649.6" y="185.7" textLength="5" lengthAdjust="spacingAndGlyphs">0.00</text><text x="1659.8" y="185.7" textLength="5" lengthAdjust="spacingAndGlyphs">0.00</text><text x="1670.0" y="185.7" textLength="5" lengthAdjust="spacingAndGlyphs">0.02</text><text x="1680.1" y="185.7" textLength="5" lengthAdjust="spacingAndGlyphs">0.01</text><text x="1690.3" y="185.7" textLength="5" lengthAdjust="spacingAndGlyphs">0.00</text><text x="1700.5" y="185.7" textLength="5" lengthAdjust="spacingAndGlyphs">0.02</text><text x="1710.7" y="185.7" textLength="5" lengthAdjust="spacingAndGlyphs">0.00</text><text x="1395.1" y="195.2" textLength="5" lengthAdjust="spacingAndGlyphs">0.02</text><text x="1405.3" y="195.2" textLength="5" lengthAdjust="spacingAndGlyphs">0.02</text><text x="1415.4" y="195.2" textLength="5" lengthAdjust="spacingAndGlyphs">0.01</text><text x="1425.6" y="195.2" textLength="5" lengthAdjust="spacingAndGlyphs">0.00</text><text x="1435.8" y="195.2" textLength="5" lengthAdjust="spacingAndGlyphs">0.02</text><text x="1446.0" y="195.2" textLength="5" lengthAdjust="spacingAndGlyphs">0.00</text><text x="1456.2" y="195.2" textLength="5" lengthAdjust="spacingAndGlyphs">0.01</text><text x="1466.3" y="195.2" textLength="5" lengthAdjust="spacingAndGlyphs">0.00</text><text x="1476.5" y="195.2" textLength="5" lengthAdjust="spacingAndGlyphs">0.01</text><text x="1486.7" y="195.2" textLength="5" lengthAdjust="spacingAndGlyphs">0.03</text><text x="1496.9" y="195.2" textLength="5" lengthAdjust="spacingAndGlyphs">0.02</text><text x="1507.1" y="195.2" textLength="5" lengthAdjust="spacingAndGlyphs">0.01</text><text x="1517.2" y="195.2" textLength="5" lengthAdjust="spacingAndGlyphs">0.96</text><text x="1527.4" y="195.2" textLength="5" lengthAdjust="spacingAndGlyphs">0.03</text><text x="1537.6" y="195.2" textLength="5" lengthAdjust="spacingAndGlyphs">0.03</text><text x="1547.8" y="195.2" textLength="5" lengthAdjust="spacingAndGlyphs">0.00</text><text x="1558.0" y="195.2" textLength="5" lengthAdjust="spacingAndGlyphs">0.01</text><text x="1568.1" y="195.2" textLength="5" lengthAdjust="spacingAndGlyphs">0.00</text><text x="1578.3" y="195.2" textLength="5" lengthAdjust="spacingAndGlyphs">0.00</text><text x="1588.5" y="195.2" textLength="5" lengthAdjust="spacingAndGlyphs">0.00</text><text x="1598.7" y="195.2" textLength="5" lengthAdjust="spacingAndGlyphs">0.02</text><text x="1608.9" y="195.2" textLength="5" lengthAdjust="spacingAndGlyphs">0.03</text><text x="1619.0" y="195.2" textLength="5" lengthAdjust="spacingAndGlyphs">0.00</text><text x="1629.2" y="195.2" textLength="5" lengthAdjust="spacingAndGlyphs">0.00</text><text x="1639.4" y="195.2" textLength="5" lengthAdjust="spacingAndGlyphs">0.00</text><text x="1649.6" y="195.2" textLength="5" lengthAdjust="spacingAndGlyphs">0.03</text><text x="1659.8" y="195.2" textLength="5" lengthAdjust="spacingAndGlyphs">0.01</text><text x="1670.0" y="195.2" textLength="5" lengthAdjust="spacingAndGlyphs">0.03</text><text x="1680.1" y="195.2" textLength="5" lengthAdjust="spacingAndGlyphs">0.00</text><text x="1690.3" y="195.2" textLength="5" lengthAdjust="spacingAndGlyphs">0.03</text><text x="1700.5" y="195.2" textLength="5" lengthAdjust="spacingAndGlyphs">0.00</text><text x="1710.7" y="195.2" textLength="5" lengthAdjust="spacingAndGlyphs">0.01</text><text x="1395.1" y="204.7" textLength="5" lengthAdjust="spacingAndGlyphs">0.02</text><text x="1405.3" y="204.7" textLength="5" lengthAdjust="spacingAndGlyphs">0.02</text><text x="1415.4" y="204.7" textLength="5" lengthAdjust="spacingAndGlyphs">0.03</text><text x="1425.6" y="204.7" textLength="5" lengthAdjust="spacingAndGlyphs">0.01</text><text x="1435.8" y="204.7" textLength="5" lengthAdjust="spacingAndGlyphs">0.00</text><text x="1446.0" y="204.7" textLength="5" lengthAdjust="spacingAndGlyphs">0.03</text><text x="1456.2" y="204.7" textLength="5" lengthAdjust="spacingAndGlyphs">0.01</text><text x="1466.3" y="204.7" textLength="5" lengthAdjust="spacingAndGlyphs">0.00</text><text x="1476.5" y="204.7" textLength="5" lengthAdjust="spacingAndGlyphs">0.01</text><text x="1486.7" y="204.7" textLength="5" lengthAdjust="spacingAndGlyphs">0.02</text><text x="1496.9" y="204.7" textLength="5" lengthAdjust="spacingAndGlyphs">0.02</text><text x="1507.1" y="204.7" textLength="5" lengthAdjust="spacingAndGlyphs">0.02</text><text x="1517.2" y="204.7" textLength="5" lengthAdjust="spacingAndGlyphs">0.01</text><text x="1527.4" y="204.7" textLength="5" lengthAdjust="spacingAndGlyphs">0.92</text><text x="1537.6" y="204.7" textLength="5" lengthAdjust="spacingAndGlyphs">0.00</text><text x="1547.8" y="204.7" textLength="5" lengthAdjust="spacingAndGlyphs">0.01</text><text x="1558.0" y="204.7" textLength="5" lengthAdjust="spacingAndGlyphs">0.01</text><text x="1568.1" y="204.7" textLength="5" lengthAdjust="spacingAndGlyphs">0.03</text><text x="1578.3" y="204.7" textLength="5" lengthAdjust="spacingAndGlyphs">0.03</text><text x="1588.5" y="204.7" textLength="5" lengthAdjust="spacingAndGlyphs">0.00</text><text x="1598.7" y="204.7" textLength="5" lengthAdjust="spacingAndGlyphs">0.03</text><text x="1608.9" y="204.7" textLength="5" lengthAdjust="spacingAndGlyphs">0.00</text><text x="1619.0" y="204.7" textLength="5" lengthAdjust="spacingAndGlyphs">0.03</text><text x="1629.2" y="204.7" textLength="5" lengthAdjust="spacingAndGlyphs">0.00</text><text x="1639.4" y="204.7" textLength="5" lengthAdjust="spacingAndGlyphs">0.00</text><text x="1649.6" y="204.7" textLength="5" lengthAdjust="spacingAndGlyphs">0.00</text><text x="1659.8" y="204.7" textLength="5" lengthAdjust="spacingAndGlyphs">0.00</text><text x="1670.0" y="204.7" textLength="5" lengthAdjust="spacingAndGlyphs">0.00</text><text x="1680.1" y="204.7" textLength="5" lengthAdjust="spacingAndGlyphs">0.01</text><text x="1690.3" y="204.7" textLength="5" lengthAdjust="spacingAndGlyphs">0.00</text><text x="1700.5" y="204.7" textLength="5" lengthAdjust="spacingAndGlyphs">0.03</text><text x="1710.7" y="204.7" textLength="5" lengthAdjust="spacingAndGlyphs">0.02</text><text x="1395.1" y="214.2" textLength="5" lengthAdjust="spacingAndGlyphs">0.00</text><text x="1405.3" y="214.2" textLength="5" lengthAdjust="spacingAndGlyphs">0.02</text><text x="1415.4" y="214.2" textLength="5" lengthAdjust="spacingAndGlyphs">0.02</text><text x="1425.6" y="214.2" textLength="5" lengthAdjust="spacingAndGlyphs">0.01</text><text x="1435.8" y="214.2" textLength="5" lengthAdjust="spacingAndGlyphs">0.01</text><text x="1446.0" y="214.2" textLength="5" lengthAdjust="spacingAndGlyphs">0.00</text><text x="1456.2" y="214.2" textLength="5" lengthAdjust="spacingAndGlyphs">0.01</text><text x="1466.3" y="214.2" textLength="5" lengthAdjust="spacingAndGlyphs">0.00</text><text x="1476.5" y="214.2" textLength="5" lengthAdjust="spacingAndGlyphs">0.01</text><text x="1486.7" y="214.2" textLength="5" lengthAdjust="spacingAndGlyphs">0.01</text><text x="1496.9" y="214.2" textLength="5" lengthAdjust="spacingAndGlyphs">0.02</text><text x="1507.1" y="214.2" textLength="5" lengthAdjust="spacingAndGlyphs">0.01</text><text x="1517.2" y="214.2" textLength="5" lengthAdjust="spacingAndGlyphs">0.02</text><text x="1527.4" y="214.2" textLength="5" lengthAdjust="spacingAndGlyphs">0.01</text><text x="1537.6" y="214.2" textLength="5" lengthAdjust="spacingAndGlyphs">0.97</text><text x="1547.8" y="214.2" textLength="5" lengthAdjust="spacingAndGlyphs">0.01</text><text x="1558.0" y="214.2" textLength="5" lengthAdjust="spacingAndGlyphs">0.01</text><text x="1568.1" y="214.2" textLength="5" lengthAdjust="spacingAndGlyphs">0.00</text><text x="1578.3" y="214.2" textLength="5" lengthAdjust="spacingAndGlyphs">0.01</text><text x="1588.5" y="214.2" textLength="5" lengthAdjust="spacingAndGlyphs">0.01</text><text x="1598.7" y="214.2" textLength="5" lengthAdjust="spacingAndGlyphs">0.00</text><text x="1608.9" y="214.2" textLength="5" lengthAdjust="spacingAndGlyphs">0.00</text><text x="1619.0" y="214.2" textLength="5" lengthAdjust="spacingAndGlyphs">0.02</text><text x="1629.2" y="214.2" textLength="5" lengthAdjust="spacingAndGlyphs">0.00</text><text x="1639.4" y="214.2" textLength="5" lengthAdjust="spacingAndGlyphs">0.02</text><text x="1649.6" y="214.2" textLength="5" lengthAdjust="spacingAndGlyphs">0.02</text><text x="1659.8" y="214.2" textLength="5" lengthAdjust="spacingAndGlyphs">0.01</text><text x="1670.0" y="214.2" textLength="5" lengthAdjust="spacingAndGlyphs">0.03</text><text x="1680.1" y="214.2" textLength="5" lengthAdjust="spacingAndGlyphs">0.00</text><text x="1690.3" y="214.2" textLength="5" lengthAdjust="spacingAndGlyphs">0.02</text><text x="1700.5" y="214.2" textLength="5" lengthAdjust="spacingAndGlyphs">0.00</text><text x="1710.7" y="214.2" textLength="5" lengthAdjust="spacingAndGlyphs">0.00</text><text x="1395.1" y="223.8" textLength="5" lengthAdjust="spacingAndGlyphs">0.01</text><text x="1405.3" y="223.8" textLength="5" lengthAdjust="spacingAndGlyphs">0.01</text><text x="1415.4" y="223.8" textLength="5" lengthAdjust="spacingAndGlyphs">0.02</text><text x="1425.6" y="223.8" textLength="5" lengthAdjust="spacingAndGlyphs">0.02</text><text x="1435.8" y="223.8" textLength="5" lengthAdjust="spacingAndGlyphs">0.03</text><text x="1446.0" y="223.8" textLength="5" lengthAdjust="spacingAndGlyphs">0.02</text><text x="1456.2" y="223.8" textLength="5" lengthAdjust="spacingAndGlyphs">0.01</text><text x="1466.3" y="223.8" textLength="5" lengthAdjust="spacingAndGlyphs">0.02</text><text x="1476.5" y="223.8" textLength="5" lengthAdjust="spacingAndGlyphs">0.03</text><text x="1486.7" y="223.8" textLength="5" lengthAdjust="spacingAndGlyphs">0.00</text><text x="1496.9" y="223.8" textLength="5" lengthAdjust="spacingAndGlyphs">0.02</text><text x="1507.1" y="223.8" textLength="5" lengthAdjust="spacingAndGlyphs">0.01</text><text x="1517.2" y="223.8" textLength="5" lengthAdjust="spacingAndGlyphs">0.00</text><text x="1527.4" y="223.8" textLength="5" lengthAdjust="spacingAndGlyphs">0.01</text><text x="1537.6" y="223.8" textLength="5" lengthAdjust="spacingAndGlyphs">0.02</text><text x="1547.8" y="223.8" textLength="5" lengthAdjust="spacingAndGlyphs">0.96</text><text x="1558.0" y="223.8" textLength="5" lengthAdjust="spacingAndGlyphs">0.01</text><text x="1568.1" y="223.8" textLength="5" lengthAdjust="spacingAndGlyphs">0.03</text><text x="1578.3" y="223.8" textLength="5" lengthAdjust="spacingAndGlyphs">0.02</text><text x="1588.5" y="223.8" textLength="5" lengthAdjust="spacingAndGlyphs">0.01</text><text x="1598.7" y="223.8" textLength="5" lengthAdjust="spacingAndGlyphs">0.01</text><text x="1608.9" y="223.8" textLength="5" lengthAdjust="spacingAndGlyphs">0.02</text><text x="1619.0" y="223.8" textLength="5" lengthAdjust="spacingAndGlyphs">0.01</text><text x="1629.2" y="223.8" textLength="5" lengthAdjust="spacingAndGlyphs">0.01</text><text x="1639.4" y="223.8" textLength="5" lengthAdjust="spacingAndGlyphs">0.00</text><text x="1649.6" y="223.8" textLength="5" lengthAdjust="spacingAndGlyphs">0.00</text><text x="1659.8" y="223.8" textLength="5" lengthAdjust="spacingAndGlyphs">0.00</text><text x="1670.0" y="223.8" textLength="5" lengthAdjust="spacingAndGlyphs">0.02</text><text x="1680.1" y="223.8" textLength="5" lengthAdjust="spacingAndGlyphs">0.01</text><text x="1690.3" y="223.8" textLength="5" lengthAdjust="spacingAndGlyphs">0.02</text><text x="1700.5" y="223.8" textLength="5" lengthAdjust="spacingAndGlyphs">0.02</text><text x="1710.7" y="223.8" textLength="5" lengthAdjust="spacingAndGlyphs">0.00</text><text x="1395.1" y="233.3" textLength="5" lengthAdjust="spacingAndGlyphs">0.03</text><text x="1405.3" y="233.3" textLength="5" lengthAdjust="spacingAndGlyphs">0.01</text><text x="1415.4" y="233.3" textLength="5" lengthAdjust="spacingAndGlyphs">0.00</text><text x="1425.6" y="233.3" textLength="5" lengthAdjust="spacingAndGlyphs">0.01</text><text x="1435.8" y="233.3" textLength="5" lengthAdjust="spacingAndGlyphs">0.00</text><text x="1446.0" y="233.3" textLength="5" lengthAdjust="spacingAndGlyphs">0.00</text><text x="1456.2" y="233.3" textLength="5" lengthAdjust="spacingAndGlyphs">0.01</text><text x="1466.3" y="233.3" textLength="5" lengthAdjust="spacingAndGlyphs">0.01</text><text x="1476.5" y="233.3" textLength="5" lengthAdjust="spacingAndGlyphs">0.02</text><text x="1486.7" y="233.3" textLength="5" lengthAdjust="spacingAndGlyphs">0.03</text><text x="1496.9" y="233.3" textLength="5" lengthAdjust="spacingAndGlyphs">0.03</text><text x="1507.1" y="233.3" textLength="5" lengthAdjust="spacingAndGlyphs">0.01</text><text x="1517.2" y="233.3" textLength="5" lengthAdjust="spacingAndGlyphs">0.00</text><text x="1527.4" y="233.3" textLength="5" lengthAdjust="spacingAndGlyphs">0.01</text><text x="1537.6" y="233.3" textLength="5" lengthAdjust="spacingAndGlyphs">0.02</text><text x="1547.8" y="233.3" textLength="5" lengthAdjust="spacingAndGlyphs">0.00</text><text x="1558.0" y="233.3" textLength="5" lengthAdjust="spacingAndGlyphs">0.96</text><text x="1568.1" y="233.3" textLength="5" lengthAdjust="spacingAndGlyphs">0.03</text><text x="1578.3" y="233.3" textLength="5" lengthAdjust="spacingAndGlyphs">0.02</text><text x="1588.5" y="233.3" textLength="5" lengthAdjust="spacingAndGlyphs">0.02</text><text x="1598.7" y="233.3" textLength="5" lengthAdjust="spacingAndGlyphs">0.03</text><text x="1608.9" y="233.3" textLength="5" lengthAdjust="spacingAndGlyphs">0.02</text><text x="1619.0" y="233.3" textLength="5" lengthAdjust="spacingAndGlyphs">0.03</text><text x="1629.2" y="233.3" textLength="5" lengthAdjust="spacingAndGlyphs">0.01</text><text x="1639.4" y="233.3" textLength="5" lengthAdjust="spacingAndGlyphs">0.02</text><text x="1649.6" y="233.3" textLength="5" lengthAdjust="spacingAndGlyphs">0.00</text><text x="1659.8" y="233.3" textLength="5" lengthAdjust="spacingAndGlyphs">0.02</text><text x="1670.0" y="233.3" textLength="5" lengthAdjust="spacingAndGlyphs">0.01</text><text x="1680.1" y="233.3" textLength="5" lengthAdjust="spacingAndGlyphs">0.02</text><text x="1690.3" y="233.3" textLength="5" lengthAdjust="spacingAndGlyphs">0.02</text><text x="1700.5" y="233.3" textLength="5" lengthAdjust="spacingAndGlyphs">0.00</text><text x="1710.7" y="233.3" textLength="5" lengthAdjust="spacingAndGlyphs">0.03</text><text x="1395.1" y="242.8" textLength="5" lengthAdjust="spacingAndGlyphs">0.02</text><text x="1405.3" y="242.8" textLength="5" lengthAdjust="spacingAndGlyphs">0.02</text><text x="1415.4" y="242.8" textLength="5" lengthAdjust="spacingAndGlyphs">0.00</text><text x="1425.6" y="242.8" textLength="5" lengthAdjust="spacingAndGlyphs">0.01</text><text x="1435.8" y="242.8" textLength="5" lengthAdjust="spacingAndGlyphs">0.00</text><text x="1446.0" y="242.8" textLength="5" lengthAdjust="spacingAndGlyphs">0.00</text><text x="1456.2" y="242.8" textLength="5" lengthAdjust="spacingAndGlyphs">0.03</text><text x="1466.3" y="242.8" textLength="5" lengthAdjust="spacingAndGlyphs">0.01</text><text x="1476.5" y="242.8" textLength="5" lengthAdjust="spacingAndGlyphs">0.00</text><text x="1486.7" y="242.8" textLength="5" lengthAdjust="spacingAndGlyphs">0.02</text><text x="1496.9" y="242.8" textLength="5" lengthAdjust="spacingAndGlyphs">0.00</text><text x="1507.1" y="242.8" textLength="5" lengthAdjust="spacingAndGlyphs">0.02</text><text x="1517.2" y="242.8" textLength="5" lengthAdjust="spacingAndGlyphs">0.00</text><text x="1527.4" y="242.8" textLength="5" lengthAdjust="spacingAndGlyphs">0.02</text><text x="1537.6" y="242.8" textLength="5" lengthAdjust="spacingAndGlyphs">0.01</text><text x="1547.8" y="242.8" textLength="5" lengthAdjust="spacingAndGlyphs">0.00</text><text x="1558.0" y="242.8" textLength="5" lengthAdjust="spacingAndGlyphs">0.03</text><text x="1568.1" y="242.8" textLength="5" lengthAdjust="spacingAndGlyphs">0.94</text><text x="1578.3" y="242.8" textLength="5" lengthAdjust="spacingAndGlyphs">0.00</text><text x="1588.5" y="242.8" textLength="5" lengthAdjust="spacingAndGlyphs">0.01</text><text x="1598.7" y="242.8" textLength="5" lengthAdjust="spacingAndGlyphs">0.03</text><text x="1608.9" y="242.8" textLength="5" lengthAdjust="spacingAndGlyphs">0.03</text><text x="1619.0" y="242.8" textLength="5" lengthAdjust="spacingAndGlyphs">0.00</text><text x="1629.2" y="242.8" textLength="5" lengthAdjust="spacingAndGlyphs">0.00</text><text x="1639.4" y="242.8" textLength="5" lengthAdjust="spacingAndGlyphs">0.03</text><text x="1649.6" y="242.8" textLength="5" lengthAdjust="spacingAndGlyphs">0.00</text><text x="1659.8" y="242.8" textLength="5" lengthAdjust="spacingAndGlyphs">0.02</text><text x="1670.0" y="242.8" textLength="5" lengthAdjust="spacingAndGlyphs">0.01</text><text x="1680.1" y="242.8" textLength="5" lengthAdjust="spacingAndGlyphs">0.03</text><text x="1690.3" y="242.8" textLength="5" lengthAdjust="spacingAndGlyphs">0.02</text><text x="1700.5" y="242.8" textLength="5" lengthAdjust="spacingAndGlyphs">0.01</text><text x="1710.7" y="242.8" textLength="5" lengthAdjust="spacingAndGlyphs">0.02</text><text x="1395.1" y="252.3" textLength="5" lengthAdjust="spacingAndGlyphs">0.01</text><text x="1405.3" y="252.3" textLength="5" lengthAdjust="spacingAndGlyphs">0.03</text><text x="1415.4" y="252.3" textLength="5" lengthAdjust="spacingAndGlyphs">0.00</text><text x="1425.6" y="252.3" textLength="5" lengthAdjust="spacingAndGlyphs">0.00</text><text x="1435.8" y="252.3" textLength="5" lengthAdjust="spacingAndGlyphs">0.03</text><text x="1446.0" y="252.3" textLength="5" lengthAdjust="spacingAndGlyphs">0.02</text><text x="1456.2" y="252.3" textLength="5" lengthAdjust="spacingAndGlyphs">0.02</text><text x="1466.3" y="252.3" textLength="5" lengthAdjust="spacingAndGlyphs">0.02</text><text x="1476.5" y="252.3" textLength="5" lengthAdjust="spacingAndGlyphs">0.02</text><text x="1486.7" y="252.3" textLength="5" lengthAdjust="spacingAndGlyphs">0.00</text><text x="1496.9" y="252.3" textLength="5" lengthAdjust="spacingAndGlyphs">0.00</text><text x="1507.1" y="252.3" textLength="5" lengthAdjust="spacingAndGlyphs">0.02</text><text x="1517.2" y="252.3" textLength="5" lengthAdjust="spacingAndGlyphs">0.02</text><text x="1527.4" y="252.3" textLength="5" lengthAdjust="spacingAndGlyphs">0.00</text><text x="1537.6" y="252.3" textLength="5" lengthAdjust="spacingAndGlyphs">0.02</text><text x="1547.8" y="252.3" textLength="5" lengthAdjust="spacingAndGlyphs">0.00</text><text x="1558.0" y="252.3" textLength="5" lengthAdjust="spacingAndGlyphs">0.02</text><text x="1568.1" y="252.3" textLength="5" lengthAdjust="spacingAndGlyphs">0.01</text><text x="1578.3" y="252.3" textLength="5" lengthAdjust="spacingAndGlyphs">0.96</text><text x="1588.5" y="252.3" textLength="5" lengthAdjust="spacingAndGlyphs">0.03</text><text x="1598.7" y="252.3" textLength="5" lengthAdjust="spacingAndGlyphs">0.02</text><text x="1608.9" y="252.3" textLength="5" lengthAdjust="spacingAndGlyphs">0.00</text><text x="1619.0" y="252.3" textLength="5" lengthAdjust="spacingAndGlyphs">0.03</text><text x="1629.2" y="252.3" textLength="5" lengthAdjust="spacingAndGlyphs">0.00</text><text x="1639.4" y="252.3" textLength="5" lengthAdjust="spacingAndGlyphs">0.00</text><text x="1649.6" y="252.3" textLength="5" lengthAdjust="spacingAndGlyphs">0.00</text><text x="1659.8" y="252.3" textLength="5" lengthAdjust="spacingAndGlyphs">0.02</text><text x="1670.0" y="252.3" textLength="5" lengthAdjust="spacingAndGlyphs">0.00</text><text x="1680.1" y="252.3" textLength="5" lengthAdjust="spacingAndGlyphs">0.01</text><text x="1690.3" y="252.3" textLength="5" lengthAdjust="spacingAndGlyphs">0.02</text><text x="1700.5" y="252.3" textLength="5" lengthAdjust="spacingAndGlyphs">0.02</text><text x="1710.7" y="252.3" textLength="5" lengthAdjust="spacingAndGlyphs">0.03</text><text x="1395.1" y="261.8" textLength="5" lengthAdjust="spacingAndGlyphs">0.01</text><text x="1405.3" y="261.8" textLength="5" lengthAdjust="spacingAndGlyphs">0.01</text><text x="1415.4" y="261.8" textLength="5" lengthAdjust="spacingAndGlyphs">0.01</text><text x="1425.6" y="261.8" textLength="5" lengthAdjust="spacingAndGlyphs">0.02</text><text x="1435.8" y="261.8" textLength="5" lengthAdjust="spacingAndGlyphs">0.01</text><text x="1446.0" y="261.8" textLength="5" lengthAdjust="spacingAndGlyphs">0.01</text><text x="1456.2" y="261.8" textLength="5" lengthAdjust="spacingAndGlyphs">0.02</text><text x="1466.3" y="261.8" textLength="5" lengthAdjust="spacingAndGlyphs">0.01</text><text x="1476.5" y="261.8" textLength="5" lengthAdjust="spacingAndGlyphs">0.00</text><text x="1486.7" y="261.8" textLength="5" lengthAdjust="spacingAndGlyphs">0.01</text><text x="1496.9" y="261.8" textLength="5" lengthAdjust="spacingAndGlyphs">0.02</text><text x="1507.1" y="261.8" textLength="5" lengthAdjust="spacingAndGlyphs">0.00</text><text x="1517.2" y="261.8" textLength="5" lengthAdjust="spacingAndGlyphs">0.01</text><text x="1527.4" y="261.8" textLength="5" lengthAdjust="spacingAndGlyphs">0.03</text><text x="1537.6" y="261.8" textLength="5" lengthAdjust="spacingAndGlyphs">0.02</text><text x="1547.8" y="261.8" textLength="5" lengthAdjust="spacingAndGlyphs">0.00</text><text x="1558.0" y="261.8" textLength="5" lengthAdjust="spacingAndGlyphs">0.01</text><text x="1568.1" y="261.8" textLength="5" lengthAdjust="spacingAndGlyphs">0.02</text><text x="1578.3" y="261.8" textLength="5" lengthAdjust="spacingAndGlyphs">0.02</text><text x="1588.5" y="261.8" textLength="5" lengthAdjust="spacingAndGlyphs">0.96</text><text x="1598.7" y="261.8" textLength="5" lengthAdjust="spacingAndGlyphs">0.03</text><text x="1608.9" y="261.8" textLength="5" lengthAdjust="spacingAndGlyphs">0.02</text><text x="1619.0" y="261.8" textLength="5" lengthAdjust="spacingAndGlyphs">0.02</text><text x="1629.2" y="261.8" textLength="5" lengthAdjust="spacingAndGlyphs">0.02</text><text x="1639.4" y="261.8" textLength="5" lengthAdjust="spacingAndGlyphs">0.02</text><text x="1649.6" y="261.8" textLength="5" lengthAdjust="spacingAndGlyphs">0.01</text><text x="1659.8" y="261.8" textLength="5" lengthAdjust="spacingAndGlyphs">0.00</text><text x="1670.0" y="261.8" textLength="5" lengthAdjust="spacingAndGlyphs">0.02</text><text x="1680.1" y="261.8" textLength="5" lengthAdjust="spacingAndGlyphs">0.01</text><text x="1690.3" y="261.8" textLength="5" lengthAdjust="spacingAndGlyphs">0.00</text><text x="1700.5" y="261.8" textLength="5" lengthAdjust="spacingAndGlyphs">0.00</text><text x="1710.7" y="261.8" textLength="5" lengthAdjust="spacingAndGlyphs">0.00</text><text x="1395.1" y="271.4" textLength="5" lengthAdjust="spacingAndGlyphs">0.01</text><text x="1405.3" y="271.4" textLength="5" lengthAdjust="spacingAndGlyphs">0.02</text><text x="1415.4" y="271.4" textLength="5" lengthAdjust="spacingAndGlyphs">0.01</text><text x="1425.6" y="271.4" textLength="5" lengthAdjust="spacingAndGlyphs">0.02</text><text x="1435.8" y="271.4" textLength="5" lengthAdjust="spacingAndGlyphs">0.02</text><text x="1446.0" y="271.4" textLength="5" lengthAdjust="spacingAndGlyphs">0.01</text><text x="1456.2" y="271.4" textLength="5" lengthAdjust="spacingAndGlyphs">0.02</text><text x="1466.3" y="271.4" textLength="5" lengthAdjust="spacingAndGlyphs">0.02</text><text x="1476.5" y="271.4" textLength="5" lengthAdjust="spacingAndGlyphs">0.03</text><text x="1486.7" y="271.4" textLength="5" lengthAdjust="spacingAndGlyphs">0.00</text><text x="1496.9" y="271.4" textLength="5" lengthAdjust="spacingAndGlyphs">0.00</text><text x="1507.1" y="271.4" textLength="5" lengthAdjust="spacingAndGlyphs">0.01</text><text x="1517.2" y="271.4" textLength="5" lengthAdjust="spacingAndGlyphs">0.03</text><text x="1527.4" y="271.4" textLength="5" lengthAdjust="spacingAndGlyphs">0.00</text><text x="1537.6" y="271.4" textLength="5" lengthAdjust="spacingAndGlyphs">0.00</text><text x="1547.8" y="271.4" textLength="5" lengthAdjust="spacingAndGlyphs">0.02</text><text x="1558.0" y="271.4" textLength="5" lengthAdjust="spacingAndGlyphs">0.02</text><text x="1568.1" y="271.4" textLength="5" lengthAdjust="spacingAndGlyphs">0.01</text><text x="1578.3" y="271.4" textLength="5" lengthAdjust="spacingAndGlyphs">0.00</text><text x="1588.5" y="271.4" textLength="5" lengthAdjust="spacingAndGlyphs">0.03</text><text x="1598.7" y="271.4" textLength="5" lengthAdjust="spacingAndGlyphs">0.96</text><text x="1608.9" y="271.4" textLength="5" lengthAdjust="spacingAndGlyphs">0.02</text><text x="1619.0" y="271.4" textLength="5" lengthAdjust="spacingAndGlyphs">0.02</text><text x="1629.2" y="271.4" textLength="5" lengthAdjust="spacingAndGlyphs">0.03</text><text x="1639.4" y="271.4" textLength="5" lengthAdjust="spacingAndGlyphs">0.01</text><text x="1649.6" y="271.4" textLength="5" lengthAdjust="spacingAndGlyphs">0.02</text><text x="1659.8" y="271.4" textLength="5" lengthAdjust="spacingAndGlyphs">0.02</text><text x="1670.0" y="271.4" textLength="5" lengthAdjust="spacingAndGlyphs">0.03</text><text x="1680.1" y="271.4" textLength="5" lengthAdjust="spacingAndGlyphs">0.01</text><text x="1690.3" y="271.4" textLength="5" lengthAdjust="spacingAndGlyphs">0.02</text><text x="1700.5" y="271.4" textLength="5" lengthAdjust="spacingAndGlyphs">0.03</text><text x="1710.7" y="271.4" textLength="5" lengthAdjust="spacingAndGlyphs">0.02</text><text x="1395.1" y="280.9" textLength="5" lengthAdjust="spacingAndGlyphs">0.02</text><text x="1405.3" y="280.9" textLength="5" lengthAdjust="spacingAndGlyphs">0.01</text><text x="1415.4" y="280.9" textLength="5" lengthAdjust="spacingAndGlyphs">0.00</text><text x="1425.6" y="280.9" textLength="5" lengthAdjust="spacingAndGlyphs">0.01</text><text x="1435.8" y="280.9" textLength="5" lengthAdjust="spacingAndGlyphs">0.00</text><text x="1446.0" y="280.9" textLength="5" lengthAdjust="spacingAndGlyphs">0.01</text><text x="1456.2" y="280.9" textLength="5" lengthAdjust="spacingAndGlyphs">0.01</text><text x="1466.3" y="280.9" textLength="5" lengthAdjust="spacingAndGlyphs">0.03</text><text x="1476.5" y="280.9" textLength="5" lengthAdjust="spacingAndGlyphs">0.01</text><text x="1486.7" y="280.9" textLength="5" lengthAdjust="spacingAndGlyphs">0.00</text><text x="1496.9" y="280.9" textLength="5" lengthAdjust="spacingAndGlyphs">0.00</text><text x="1507.1" y="280.9" textLength="5" lengthAdjust="spacingAndGlyphs">0.02</text><text x="1517.2" y="280.9" textLength="5" lengthAdjust="spacingAndGlyphs">0.01</text><text x="1527.4" y="280.9" textLength="5" lengthAdjust="spacingAndGlyphs">0.00</text><text x="1537.6" y="280.9" textLength="5" lengthAdjust="spacingAndGlyphs">0.01</text><text x="1547.8" y="280.9" textLength="5" lengthAdjust="spacingAndGlyphs">0.01</text><text x="1558.0" y="280.9" textLength="5" lengthAdjust="spacingAndGlyphs">0.03</text><text x="1568.1" y="280.9" textLength="5" lengthAdjust="spacingAndGlyphs">0.03</text><text x="1578.3" y="280.9" textLength="5" lengthAdjust="spacingAndGlyphs">0.00</text><text x="1588.5" y="280.9" textLength="5" lengthAdjust="spacingAndGlyphs">0.01</text><text x="1598.7" y="280.9" textLength="5" lengthAdjust="spacingAndGlyphs">0.02</text><text x="1608.9" y="280.9" textLength="5" lengthAdjust="spacingAndGlyphs">0.96</text><text x="1619.0" y="280.9" textLength="5" lengthAdjust="spacingAndGlyphs">0.01</text><text x="1629.2" y="280.9" textLength="5" lengthAdjust="spacingAndGlyphs">0.02</text><text x="1639.4" y="280.9" textLength="5" lengthAdjust="spacingAndGlyphs">0.02</text><text x="1649.6" y="280.9" textLength="5" lengthAdjust="spacingAndGlyphs">0.00</text><text x="1659.8" y="280.9" textLength="5" lengthAdjust="spacingAndGlyphs">0.01</text><text x="1670.0" y="280.9" textLength="5" lengthAdjust="spacingAndGlyphs">0.02</text><text x="1680.1" y="280.9" textLength="5" lengthAdjust="spacingAndGlyphs">0.03</text><text x="1690.3" y="280.9" textLength="5" lengthAdjust="spacingAndGlyphs">0.03</text><text x="1700.5" y="280.9" textLength="5" lengthAdjust="spacingAndGlyphs">0.02</text><text x="1710.7" y="280.9" textLength="5" lengthAdjust="spacingAndGlyphs">0.02</text><text x="1395.1" y="290.4" textLength="5" lengthAdjust="spacingAndGlyphs">0.00</text><text x="1405.3" y="290.4" textLength="5" lengthAdjust="spacingAndGlyphs">0.01</text><text x="1415.4" y="290.4" textLength="5" lengthAdjust="spacingAndGlyphs">0.02</text><text x="1425.6" y="290.4" textLength="5" lengthAdjust="spacingAndGlyphs">0.00</text><text x="1435.8" y="290.4" textLength="5" lengthAdjust="spacingAndGlyphs">0.03</text><text x="1446.0" y="290.4" textLength="5" lengthAdjust="spacingAndGlyphs">0.01</text><text x="1456.2" y="290.4" textLength="5" lengthAdjust="spacingAndGlyphs">0.03</text><text x="1466.3" y="290.4" textLength="5" lengthAdjust="spacingAndGlyphs">0.02</text><text x="1476.5" y="290.4" textLength="5" lengthAdjust="spacingAndGlyphs">0.00</text><text x="1486.7" y="290.4" textLength="5" lengthAdjust="spacingAndGlyphs">0.01</text><text x="1496.9" y="290.4" textLength="5" lengthAdjust="spacingAndGlyphs">0.00</text><text x="1507.1" y="290.4" textLength="5" lengthAdjust="spacingAndGlyphs">0.00</text><text x="1517.2" y="290.4" textLength="5" lengthAdjust="spacingAndGlyphs">0.02</text><text x="1527.4" y="290.4" textLength="5" lengthAdjust="spacingAndGlyphs">0.02</text><text x="1537.6" y="290.4" textLength="5" lengthAdjust="spacingAndGlyphs">0.03</text><text x="1547.8" y="290.4" textLength="5" lengthAdjust="spacingAndGlyphs">0.02</text><text x="1558.0" y="290.4" textLength="5" lengthAdjust="spacingAndGlyphs">0.00</text><text x="1568.1" y="290.4" textLength="5" lengthAdjust="spacingAndGlyphs">0.00</text><text x="1578.3" y="290.4" textLength="5" lengthAdjust="spacingAndGlyphs">0.03</text><text x="1588.5" y="290.4" textLength="5" lengthAdjust="spacingAndGlyphs">0.01</text><text x="1598.7" y="290.4" textLength="5" lengthAdjust="spacingAndGlyphs">0.00</text><text x="1608.9" y="290.4" textLength="5" lengthAdjust="spacingAndGlyphs">0.00</text><text x="1619.0" y="290.4" textLength="5" lengthAdjust="spacingAndGlyphs">0.84</text><text x="1629.2" y="290.4" textLength="5" lengthAdjust="spacingAndGlyphs">0.03</text><text x="1639.4" y="290.4" textLength="5" lengthAdjust="spacingAndGlyphs">0.01</text><text x="1649.6" y="290.4" textLength="5" lengthAdjust="spacingAndGlyphs">0.00</text><text x="1659.8" y="290.4" textLength="5" lengthAdjust="spacingAndGlyphs">0.00</text><text x="1670.0" y="290.4" textLength="5" lengthAdjust="spacingAndGlyphs">0.02</text><text x="1680.1" y="290.4" textLength="5" lengthAdjust="spacingAndGlyphs">0.02</text><text x="1690.3" y="290.4" textLength="5" lengthAdjust="spacingAndGlyphs">0.02</text><text x="1700.5" y="290.4" textLength="5" lengthAdjust="spacingAndGlyphs">0.03</text><text x="1710.7" y="290.4" textLength="5" lengthAdjust="spacingAndGlyphs">0.00</text><text x="1395.1" y="299.9" textLength="5" lengthAdjust="spacingAndGlyphs">0.01</text><text x="1405.3" y="299.9" textLength="5" lengthAdjust="spacingAndGlyphs">0.00</text><text x="1415.4" y="299.9" textLength="5" lengthAdjust="spacingAndGlyphs">0.03</text><text x="1425.6" y="299.9" textLength="5" lengthAdjust="spacingAndGlyphs">0.00</text><text x="1435.8" y="299.9" textLength="5" lengthAdjust="spacingAndGlyphs">0.01</text><text x="1446.0" y="299.9" textLength="5" lengthAdjust="spacingAndGlyphs">0.00</text><text x="1456.2" y="299.9" textLength="5" lengthAdjust="spacingAndGlyphs">0.01</text><text x="1466.3" y="299.9" textLength="5" lengthAdjust="spacingAndGlyphs">0.00</text><text x="1476.5" y="299.9" textLength="5" lengthAdjust="spacingAndGlyphs">0.02</text><text x="1486.7" y="299.9" textLength="5" lengthAdjust="spacingAndGlyphs">0.03</text><text x="1496.9" y="299.9" textLength="5" lengthAdjust="spacingAndGlyphs">0.00</text><text x="1507.1" y="299.9" textLength="5" lengthAdjust="spacingAndGlyphs">0.00</text><text x="1517.2" y="299.9" textLength="5" lengthAdjust="spacingAndGlyphs">0.00</text><text x="1527.4" y="299.9" textLength="5" lengthAdjust="spacingAndGlyphs">0.01</text><text x="1537.6" y="299.9" textLength="5" lengthAdjust="spacingAndGlyphs">0.03</text><text x="1547.8" y="299.9" textLength="5" lengthAdjust="spacingAndGlyphs">0.01</text><text x="1558.0" y="299.9" textLength="5" lengthAdjust="spacingAndGlyphs">0.00</text><text x="1568.1" y="299.9" textLength="5" lengthAdjust="spacingAndGlyphs">0.01</text><text x="1578.3" y="299.9" textLength="5" lengthAdjust="spacingAndGlyphs">0.01</text><text x="1588.5" y="299.9" textLength="5" lengthAdjust="spacingAndGlyphs">0.02</text><text x="1598.7" y="299.9" textLength="5" lengthAdjust="spacingAndGlyphs">0.02</text><text x="1608.9" y="299.9" textLength="5" lengthAdjust="spacingAndGlyphs">0.02</text><text x="1619.0" y="299.9" textLength="5" lengthAdjust="spacingAndGlyphs">0.01</text><text x="1629.2" y="299.9" textLength="5" lengthAdjust="spacingAndGlyphs">0.90</text><text x="1639.4" y="299.9" textLength="5" lengthAdjust="spacingAndGlyphs">0.00</text><text x="1649.6" y="299.9" textLength="5" lengthAdjust="spacingAndGlyphs">0.00</text><text x="1659.8" y="299.9" textLength="5" lengthAdjust="spacingAndGlyphs">0.01</text><text x="1670.0" y="299.9" textLength="5" lengthAdjust="spacingAndGlyphs">0.01</text><text x="1680.1" y="299.9" textLength="5" lengthAdjust="spacingAndGlyphs">0.01</text><text x="1690.3" y="299.9" textLength="5" lengthAdjust="spacingAndGlyphs">0.01</text><text x="1700.5" y="299.9" textLength="5" lengthAdjust="spacingAndGlyphs">0.01</text><text x="1710.7" y="299.9" textLength="5" lengthAdjust="spacingAndGlyphs">0.00</text><text x="1395.1" y="309.4" textLength="5" lengthAdjust="spacingAndGlyphs">0.00</text><text x="1405.3" y="309.4" textLength="5" lengthAdjust="spacingAndGlyphs">0.02</text><text x="1415.4" y="309.4" textLength="5" lengthAdjust="spacingAndGlyphs">0.02</text><text x="1425.6" y="309.4" textLength="5" lengthAdjust="spacingAndGlyphs">0.02</text><text x="1435.8" y="309.4" textLength="5" lengthAdjust="spacingAndGlyphs">0.01</text><text x="1446.0" y="309.4" textLength="5" lengthAdjust="spacingAndGlyphs">0.01</text><text x="1456.2" y="309.4" textLength="5" lengthAdjust="spacingAndGlyphs">0.00</text><text x="1466.3" y="309.4" textLength="5" lengthAdjust="spacingAndGlyphs">0.02</text><text x="1476.5" y="309.4" textLength="5" lengthAdjust="spacingAndGlyphs">0.01</text><text x="1486.7" y="309.4" textLength="5" lengthAdjust="spacingAndGlyphs">0.00</text><text x="1496.9" y="309.4" textLength="5" lengthAdjust="spacingAndGlyphs">0.01</text><text x="1507.1" y="309.4" textLength="5" lengthAdjust="spacingAndGlyphs">0.00</text><text x="1517.2" y="309.4" textLength="5" lengthAdjust="spacingAndGlyphs">0.02</text><text x="1527.4" y="309.4" textLength="5" lengthAdjust="spacingAndGlyphs">0.01</text><text x="1537.6" y="309.4" textLength="5" lengthAdjust="spacingAndGlyphs">0.00</text><text x="1547.8" y="309.4" textLength="5" lengthAdjust="spacingAndGlyphs">0.01</text><text x="1558.0" y="309.4" textLength="5" lengthAdjust="spacingAndGlyphs">0.02</text><text x="1568.1" y="309.4" textLength="5" lengthAdjust="spacingAndGlyphs">0.01</text><text x="1578.3" y="309.4" textLength="5" lengthAdjust="spacingAndGlyphs">0.00</text><text x="1588.5" y="309.4" textLength="5" lengthAdjust="spacingAndGlyphs">0.02</text><text x="1598.7" y="309.4" textLength="5" lengthAdjust="spacingAndGlyphs">0.02</text><text x="1608.9" y="309.4" textLength="5" lengthAdjust="spacingAndGlyphs">0.01</text><text x="1619.0" y="309.4" textLength="5" lengthAdjust="spacingAndGlyphs">0.02</text><text x="1629.2" y="309.4" textLength="5" lengthAdjust="spacingAndGlyphs">0.03</text><text x="1639.4" y="309.4" textLength="5" lengthAdjust="spacingAndGlyphs">0.95</text><text x="1649.6" y="309.4" textLength="5" lengthAdjust="spacingAndGlyphs">0.01</text><text x="1659.8" y="309.4" textLength="5" lengthAdjust="spacingAndGlyphs">0.03</text><text x="1670.0" y="309.4" textLength="5" lengthAdjust="spacingAndGlyphs">0.01</text><text x="1680.1" y="309.4" textLength="5" lengthAdjust="spacingAndGlyphs">0.01</text><text x="1690.3" y="309.4" textLength="5" lengthAdjust="spacingAndGlyphs">0.02</text><text x="1700.5" y="309.4" textLength="5" lengthAdjust="spacingAndGlyphs">0.02</text><text x="1710.7" y="309.4" textLength="5" lengthAdjust="spacingAndGlyphs">0.02</text><text x="1395.1" y="319.0" textLength="5" lengthAdjust="spacingAndGlyphs">0.02</text><text x="1405.3" y="319.0" textLength="5" lengthAdjust="spacingAndGlyphs">0.03</text><text x="1415.4" y="319.0" textLength="5" lengthAdjust="spacingAndGlyphs">0.03</text><text x="1425.6" y="319.0" textLength="5" lengthAdjust="spacingAndGlyphs">0.01</text><text x="1435.8" y="319.0" textLength="5" lengthAdjust="spacingAndGlyphs">0.00</text><text x="1446.0" y="319.0" textLength="5" lengthAdjust="spacingAndGlyphs">0.03</text><text x="1456.2" y="319.0" textLength="5" lengthAdjust="spacingAndGlyphs">0.01</text><text x="1466.3" y="319.0" textLength="5" lengthAdjust="spacingAndGlyphs">0.02</text><text x="1476.5" y="319.0" textLength="5" lengthAdjust="spacingAndGlyphs">0.02</text><text x="1486.7" y="319.0" textLength="5" lengthAdjust="spacingAndGlyphs">0.02</text><text x="1496.9" y="319.0" textLength="5" lengthAdjust="spacingAndGlyphs">0.02</text><text x="1507.1" y="319.0" textLength="5" lengthAdjust="spacingAndGlyphs">0.00</text><text x="1517.2" y="319.0" textLength="5" lengthAdjust="spacingAndGlyphs">0.02</text><text x="1527.4" y="319.0" textLength="5" lengthAdjust="spacingAndGlyphs">0.01</text><text x="1537.6" y="319.0" textLength="5" lengthAdjust="spacingAndGlyphs">0.02</text><text x="1547.8" y="319.0" textLength="5" lengthAdjust="spacingAndGlyphs">0.01</text><text x="1558.0" y="319.0" textLength="5" lengthAdjust="spacingAndGlyphs">0.00</text><text x="1568.1" y="319.0" textLength="5" lengthAdjust="spacingAndGlyphs">0.02</text><text x="1578.3" y="319.0" textLength="5" lengthAdjust="spacingAndGlyphs">0.01</text><text x="1588.5" y="319.0" textLength="5" lengthAdjust="spacingAndGlyphs">0.02</text><text x="1598.7" y="319.0" textLength="5" lengthAdjust="spacingAndGlyphs">0.02</text><text x="1608.9" y="319.0" textLength="5" lengthAdjust="spacingAndGlyphs">0.02</text><text x="1619.0" y="319.0" textLength="5" lengthAdjust="spacingAndGlyphs">0.02</text><text x="1629.2" y="319.0" textLength="5" lengthAdjust="spacingAndGlyphs">0.00</text><text x="1639.4" y="319.0" textLength="5" lengthAdjust="spacingAndGlyphs">0.02</text><text x="1649.6" y="319.0" textLength="5" lengthAdjust="spacingAndGlyphs">0.96</text><text x="1659.8" y="319.0" textLength="5" lengthAdjust="spacingAndGlyphs">0.02</text><text x="1670.0" y="319.0" textLength="5" lengthAdjust="spacingAndGlyphs">0.02</text><text x="1680.1" y="319.0" textLength="5" lengthAdjust="spacingAndGlyphs">0.02</text><text x="1690.3" y="319.0" textLength="5" lengthAdjust="spacingAndGlyphs">0.00</text><text x="1700.5" y="319.0" textLength="5" lengthAdjust="spacingAndGlyphs">0.00</text><text x="1710.7" y="319.0" textLength="5" lengthAdjust="spacingAndGlyphs">0.01</text><text x="1395.1" y="328.5" textLength="5" lengthAdjust="spacingAndGlyphs">0.02</text><text x="1405.3" y="328.5" textLength="5" lengthAdjust="spacingAndGlyphs">0.01</text><text x="1415.4" y="328.5" textLength="5" lengthAdjust="spacingAndGlyphs">0.00</text><text x="1425.6" y="328.5" textLength="5" lengthAdjust="spacingAndGlyphs">0.00</text><text x="1435.8" y="328.5" textLength="5" lengthAdjust="spacingAndGlyphs">0.02</text><text x="1446.0" y="328.5" textLength="5" lengthAdjust="spacingAndGlyphs">0.00</text><text x="1456.2" y="328.5" textLength="5" lengthAdjust="spacingAndGlyphs">0.01</text><text x="1466.3" y="328.5" textLength="5" lengthAdjust="spacingAndGlyphs">0.02</text><text x="1476.5" y="328.5" textLength="5" lengthAdjust="spacingAndGlyphs">0.02</text><text x="1486.7" y="328.5" textLength="5" lengthAdjust="spacingAndGlyphs">0.02</text><text x="1496.9" y="328.5" textLength="5" lengthAdjust="spacingAndGlyphs">0.02</text><text x="1507.1" y="328.5" textLength="5" lengthAdjust="spacingAndGlyphs">0.01</text><text x="1517.2" y="328.5" textLength="5" lengthAdjust="spacingAndGlyphs">0.02</text><text x="1527.4" y="328.5" textLength="5" lengthAdjust="spacingAndGlyphs">0.01</text><text x="1537.6" y="328.5" textLength="5" lengthAdjust="spacingAndGlyphs">0.02</text><text x="1547.8" y="328.5" textLength="5" lengthAdjust="spacingAndGlyphs">0.00</text><text x="1558.0" y="328.5" textLength="5" lengthAdjust="spacingAndGlyphs">0.01</text><text x="1568.1" y="328.5" textLength="5" lengthAdjust="spacingAndGlyphs">0.01</text><text x="1578.3" y="328.5" textLength="5" lengthAdjust="spacingAndGlyphs">0.01</text><text x="1588.5" y="328.5" textLength="5" lengthAdjust="spacingAndGlyphs">0.03</text><text x="1598.7" y="328.5" textLength="5" lengthAdjust="spacingAndGlyphs">0.00</text><text x="1608.9" y="328.5" textLength="5" lengthAdjust="spacingAndGlyphs">0.02</text><text x="1619.0" y="328.5" textLength="5" lengthAdjust="spacingAndGlyphs">0.00</text><text x="1629.2" y="328.5" textLength="5" lengthAdjust="spacingAndGlyphs">0.00</text><text x="1639.4" y="328.5" textLength="5" lengthAdjust="spacingAndGlyphs">0.02</text><text x="1649.6" y="328.5" textLength="5" lengthAdjust="spacingAndGlyphs">0.00</text><text x="1659.8" y="328.5" textLength="5" lengthAdjust="spacingAndGlyphs">0.96</text><text x="1670.0" y="328.5" textLength="5" lengthAdjust="spacingAndGlyphs">0.03</text><text x="1680.1" y="328.5" textLength="5" lengthAdjust="spacingAndGlyphs">0.02</text><text x="1690.3" y="328.5" textLength="5" lengthAdjust="spacingAndGlyphs">0.02</text><text x="1700.5" y="328.5" textLength="5" lengthAdjust="spacingAndGlyphs">0.02</text><text x="1710.7" y="328.5" textLength="5" lengthAdjust="spacingAndGlyphs">0.02</text><text x="1395.1" y="338.0" textLength="5" lengthAdjust="spacingAndGlyphs">0.01</text><text x="1405.3" y="338.0" textLength="5" lengthAdjust="spacingAndGlyphs">0.01</text><text x="1415.4" y="338.0" textLength="5" lengthAdjust="spacingAndGlyphs">0.00</text><text x="1425.6" y="338.0" textLength="5" lengthAdjust="spacingAndGlyphs">0.01</text><text x="1435.8" y="338.0" textLength="5" lengthAdjust="spacingAndGlyphs">0.01</text><text x="1446.0" y="338.0" textLength="5" lengthAdjust="spacingAndGlyphs">0.01</text><text x="1456.2" y="338.0" textLength="5" lengthAdjust="spacingAndGlyphs">0.00</text><text x="1466.3" y="338.0" textLength="5" lengthAdjust="spacingAndGlyphs">0.03</text><text x="1476.5" y="338.0" textLength="5" lengthAdjust="spacingAndGlyphs">0.00</text><text x="1486.7" y="338.0" textLength="5" lengthAdjust="spacingAndGlyphs">0.00</text><text x="1496.9" y="338.0" textLength="5" lengthAdjust="spacingAndGlyphs">0.01</text><text x="1507.1" y="338.0" textLength="5" lengthAdjust="spacingAndGlyphs">0.02</text><text x="1517.2" y="338.0" textLength="5" lengthAdjust="spacingAndGlyphs">0.01</text><text x="1527.4" y="338.0" textLength="5" lengthAdjust="spacingAndGlyphs">0.00</text><text x="1537.6" y="338.0" textLength="5" lengthAdjust="spacingAndGlyphs">0.02</text><text x="1547.8" y="338.0" textLength="5" lengthAdjust="spacingAndGlyphs">0.03</text><text x="1558.0" y="338.0" textLength="5" lengthAdjust="spacingAndGlyphs">0.02</text><text x="1568.1" y="338.0" textLength="5" lengthAdjust="spacingAndGlyphs">0.01</text><text x="1578.3" y="338.0" textLength="5" lengthAdjust="spacingAndGlyphs">0.01</text><text x="1588.5" y="338.0" textLength="5" lengthAdjust="spacingAndGlyphs">0.01</text><text x="1598.7" y="338.0" textLength="5" lengthAdjust="spacingAndGlyphs">0.01</text><text x="1608.9" y="338.0" textLength="5" lengthAdjust="spacingAndGlyphs">0.02</text><text x="1619.0" y="338.0" textLength="5" lengthAdjust="spacingAndGlyphs">0.03</text><text x="1629.2" y="338.0" textLength="5" lengthAdjust="spacingAndGlyphs">0.03</text><text x="1639.4" y="338.0" textLength="5" lengthAdjust="spacingAndGlyphs">0.00</text><text x="1649.6" y="338.0" textLength="5" lengthAdjust="spacingAndGlyphs">0.01</text><text x="1659.8" y="338.0" textLength="5" lengthAdjust="spacingAndGlyphs">0.01</text><text x="1670.0" y="338.0" textLength="5" lengthAdjust="spacingAndGlyphs">0.94</text><text x="1680.1" y="338.0" textLength="5" lengthAdjust="spacingAndGlyphs">0.03</text><text x="1690.3" y="338.0" textLength="5" lengthAdjust="spacingAndGlyphs">0.00</text><text x="1700.5" y="338.0" textLength="5" lengthAdjust="spacingAndGlyphs">0.00</text><text x="1710.7" y="338.0" textLength="5" lengthAdjust="spacingAndGlyphs">0.01</text><text x="1395.1" y="347.5" textLength="5" lengthAdjust="spacingAndGlyphs">0.02</text><text x="1405.3" y="347.5" textLength="5" lengthAdjust="spacingAndGlyphs">0.00</text><text x="1415.4" y="347.5" textLength="5" lengthAdjust="spacingAndGlyphs">0.02</text><text x="1425.6" y="347.5" textLength="5" lengthAdjust="spacingAndGlyphs">0.00</text><text x="1435.8" y="347.5" textLength="5" lengthAdjust="spacingAndGlyphs">0.02</text><text x="1446.0" y="347.5" textLength="5" lengthAdjust="spacingAndGlyphs">0.03</text><text x="1456.2" y="347.5" textLength="5" lengthAdjust="spacingAndGlyphs">0.02</text><text x="1466.3" y="347.5" textLength="5" lengthAdjust="spacingAndGlyphs">0.00</text><text x="1476.5" y="347.5" textLength="5" lengthAdjust="spacingAndGlyphs">0.00</text><text x="1486.7" y="347.5" textLength="5" lengthAdjust="spacingAndGlyphs">0.02</text><text x="1496.9" y="347.5" textLength="5" lengthAdjust="spacingAndGlyphs">0.00</text><text x="1507.1" y="347.5" textLength="5" lengthAdjust="spacingAndGlyphs">0.02</text><text x="1517.2" y="347.5" textLength="5" lengthAdjust="spacingAndGlyphs">0.01</text><text x="1527.4" y="347.5" textLength="5" lengthAdjust="spacingAndGlyphs">0.02</text><text x="1537.6" y="347.5" textLength="5" lengthAdjust="spacingAndGlyphs">0.02</text><text x="1547.8" y="347.5" textLength="5" lengthAdjust="spacingAndGlyphs">0.01</text><text x="1558.0" y="347.5" textLength="5" lengthAdjust="spacingAndGlyphs">0.03</text><text x="1568.1" y="347.5" textLength="5" lengthAdjust="spacingAndGlyphs">0.02</text><text x="1578.3" y="347.5" textLength="5" lengthAdjust="spacingAndGlyphs">0.00</text><text x="1588.5" y="347.5" textLength="5" lengthAdjust="spacingAndGlyphs">0.02</text><text x="1598.7" y="347.5" textLength="5" lengthAdjust="spacingAndGlyphs">0.02</text><text x="1608.9" y="347.5" textLength="5" lengthAdjust="spacingAndGlyphs">0.00</text><text x="1619.0" y="347.5" textLength="5" lengthAdjust="spacingAndGlyphs">0.03</text><text x="1629.2" y="347.5" textLength="5" lengthAdjust="spacingAndGlyphs">0.01</text><text x="1639.4" y="347.5" textLength="5" lengthAdjust="spacingAndGlyphs">0.03</text><text x="1649.6" y="347.5" textLength="5" lengthAdjust="spacingAndGlyphs">0.00</text><text x="1659.8" y="347.5" textLength="5" lengthAdjust="spacingAndGlyphs">0.02</text><text x="1670.0" y="347.5" textLength="5" lengthAdjust="spacingAndGlyphs">0.02</text><text x="1680.1" y="347.5" textLength="5" lengthAdjust="spacingAndGlyphs">0.96</text><text x="1690.3" y="347.5" textLength="5" lengthAdjust="spacingAndGlyphs">0.00</text><text x="1700.5" y="347.5" textLength="5" lengthAdjust="spacingAndGlyphs">0.02</text><text x="1710.7" y="347.5" textLength="5" lengthAdjust="spacingAndGlyphs">0.00</text><text x="1395.1" y="357.0" textLength="5" lengthAdjust="spacingAndGlyphs">0.00</text><text x="1405.3" y="357.0" textLength="5" lengthAdjust="spacingAndGlyphs">0.03</text><text x="1415.4" y="357.0" textLength="5" lengthAdjust="spacingAndGlyphs">0.01</text><text x="1425.6" y="357.0" textLength="5" lengthAdjust="spacingAndGlyphs">0.01</text><text x="1435.8" y="357.0" textLength="5" lengthAdjust="spacingAndGlyphs">0.03</text><text x="1446.0" y="357.0" textLength="5" lengthAdjust="spacingAndGlyphs">0.01</text><text x="1456.2" y="357.0" textLength="5" lengthAdjust="spacingAndGlyphs">0.00</text><text x="1466.3" y="357.0" textLength="5" lengthAdjust="spacingAndGlyphs">0.03</text><text x="1476.5" y="357.0" textLength="5" lengthAdjust="spacingAndGlyphs">0.03</text><text x="1486.7" y="357.0" textLength="5" lengthAdjust="spacingAndGlyphs">0.01</text><text x="1496.9" y="357.0" textLength="5" lengthAdjust="spacingAndGlyphs">0.01</text><text x="1507.1" y="357.0" textLength="5" lengthAdjust="spacingAndGlyphs">0.03</text><text x="1517.2" y="357.0" textLength="5" lengthAdjust="spacingAndGlyphs">0.01</text><text x="1527.4" y="357.0" textLength="5" lengthAdjust="spacingAndGlyphs">0.01</text><text x="1537.6" y="357.0" textLength="5" lengthAdjust="spacingAndGlyphs">0.02</text><text x="1547.8" y="357.0" textLength="5" lengthAdjust="spacingAndGlyphs">0.02</text><text x="1558.0" y="357.0" textLength="5" lengthAdjust="spacingAndGlyphs">0.01</text><text x="1568.1" y="357.0" textLength="5" lengthAdjust="spacingAndGlyphs">0.02</text><text x="1578.3" y="357.0" textLength="5" lengthAdjust="spacingAndGlyphs">0.01</text><text x="1588.5" y="357.0" textLength="5" lengthAdjust="spacingAndGlyphs">0.02</text><text x="1598.7" y="357.0" textLength="5" lengthAdjust="spacingAndGlyphs">0.02</text><text x="1608.9" y="357.0" textLength="5" lengthAdjust="spacingAndGlyphs">0.02</text><text x="1619.0" y="357.0" textLength="5" lengthAdjust="spacingAndGlyphs">0.01</text><text x="1629.2" y="357.0" textLength="5" lengthAdjust="spacingAndGlyphs">0.03</text><text x="1639.4" y="357.0" textLength="5" lengthAdjust="spacingAndGlyphs">0.02</text><text x="1649.6" y="357.0" textLength="5" lengthAdjust="spacingAndGlyphs">0.01</text><text x="1659.8" y="357.0" textLength="5" lengthAdjust="spacingAndGlyphs">0.00</text><text x="1670.0" y="357.0" textLength="5" lengthAdjust="spacingAndGlyphs">0.02</text><text x="1680.1" y="357.0" textLength="5" lengthAdjust="spacingAndGlyphs">0.00</text><text x="1690.3" y="357.0" textLength="5" lengthAdjust="spacingAndGlyphs">0.95</text><text x="1700.5" y="357.0" textLength="5" lengthAdjust="spacingAndGlyphs">0.02</text><text x="1710.7" y="357.0" textLength="5" lengthAdjust="spacingAndGlyphs">0.02</text><text x="1395.1" y="366.6" textLength="5" lengthAdjust="spacingAndGlyphs">0.00</text><text x="1405.3" y="366.6" textLength="5" lengthAdjust="spacingAndGlyphs">0.00</text><text x="1415.4" y="366.6" textLength="5" lengthAdjust="spacingAndGlyphs">0.03</text><text x="1425.6" y="366.6" textLength="5" lengthAdjust="spacingAndGlyphs">0.03</text><text x="1435.8" y="366.6" textLength="5" lengthAdjust="spacingAndGlyphs">0.02</text><text x="1446.0" y="366.6" textLength="5" lengthAdjust="spacingAndGlyphs">0.00</text><text x="1456.2" y="366.6" textLength="5" lengthAdjust="spacingAndGlyphs">0.01</text><text x="1466.3" y="366.6" textLength="5" lengthAdjust="spacingAndGlyphs">0.00</text><text x="1476.5" y="366.6" textLength="5" lengthAdjust="spacingAndGlyphs">0.02</text><text x="1486.7" y="366.6" textLength="5" lengthAdjust="spacingAndGlyphs">0.02</text><text x="1496.9" y="366.6" textLength="5" lengthAdjust="spacingAndGlyphs">0.01</text><text x="1507.1" y="366.6" textLength="5" lengthAdjust="spacingAndGlyphs">0.00</text><text x="1517.2" y="366.6" textLength="5" lengthAdjust="spacingAndGlyphs">0.00</text><text x="1527.4" y="366.6" textLength="5" lengthAdjust="spacingAndGlyphs">0.03</text><text x="1537.6" y="366.6" textLength="5" lengthAdjust="spacingAndGlyphs">0.02</text><text x="1547.8" y="366.6" textLength="5" lengthAdjust="spacingAndGlyphs">0.00</text><text x="1558.0" y="366.6" textLength="5" lengthAdjust="spacingAndGlyphs">0.00</text><text x="1568.1" y="366.6" textLength="5" lengthAdjust="spacingAndGlyphs">0.03</text><text x="1578.3" y="366.6" textLength="5" lengthAdjust="spacingAndGlyphs">0.02</text><text x="1588.5" y="366.6" textLength="5" lengthAdjust="spacingAndGlyphs">0.02</text><text x="1598.7" y="366.6" textLength="5" lengthAdjust="spacingAndGlyphs">0.01</text><text x="1608.9" y="366.6" textLength="5" lengthAdjust="spacingAndGlyphs">0.00</text><text x="1619.0" y="366.6" textLength="5" lengthAdjust="spacingAndGlyphs">0.02</text><text x="1629.2" y="366.6" textLength="5" lengthAdjust="spacingAndGlyphs">0.01</text><text x="1639.4" y="366.6" textLength="5" lengthAdjust="spacingAndGlyphs">0.02</text><text x="1649.6" y="366.6" textLength="5" lengthAdjust="spacingAndGlyphs">0.00</text><text x="1659.8" y="366.6" textLength="5" lengthAdjust="spacingAndGlyphs">0.00</text><text x="1670.0" y="366.6" textLength="5" lengthAdjust="spacingAndGlyphs">0.01</text><text x="1680.1" y="366.6" textLength="5" lengthAdjust="spacingAndGlyphs">0.03</text><text x="1690.3" y="366.6" textLength="5" lengthAdjust="spacingAndGlyphs">0.00</text><text x="1700.5" y="366.6" textLength="5" lengthAdjust="spacingAndGlyphs">0.96</text><text x="1710.7" y="366.6" textLength="5" lengthAdjust="spacingAndGlyphs">0.02</text><text x="1395.1" y="376.1" textLength="5" lengthAdjust="spacingAndGlyphs">0.00</text><text x="1405.3" y="376.1" textLength="5" lengthAdjust="spacingAndGlyphs">0.00</text><text x="1415.4" y="376.1" textLength="5" lengthAdjust="spacingAndGlyphs">0.01</text><text x="1425.6" y="376.1" textLength="5" lengthAdjust="spacingAndGlyphs">0.02</text><text x="1435.8" y="376.1" textLength="5" lengthAdjust="spacingAndGlyphs">0.00</text><text x="1446.0" y="376.1" textLength="5" lengthAdjust="spacingAndGlyphs">0.02</text><text x="1456.2" y="376.1" textLength="5" lengthAdjust="spacingAndGlyphs">0.00</text><text x="1466.3" y="376.1" textLength="5" lengthAdjust="spacingAndGlyphs">0.01</text><text x="1476.5" y="376.1" textLength="5" lengthAdjust="spacingAndGlyphs">0.02</text><text x="1486.7" y="376.1" textLength="5" lengthAdjust="spacingAndGlyphs">0.00</text><text x="1496.9" y="376.1" textLength="5" lengthAdjust="spacingAndGlyphs">0.01</text><text x="1507.1" y="376.1" textLength="5" lengthAdjust="spacingAndGlyphs">0.01</text><text x="1517.2" y="376.1" textLength="5" lengthAdjust="spacingAndGlyphs">0.01</text><text x="1537.6" y="376.1" textLength="5" lengthAdjust="spacingAndGlyphs">0.01</text><text x="1547.8" y="376.1" textLength="5" lengthAdjust="spacingAndGlyphs">0.02</text><text x="1558.0" y="376.1" textLength="5" lengthAdjust="spacingAndGlyphs">0.02</text><text x="1568.1" y="376.1" textLength="5" lengthAdjust="spacingAndGlyphs">0.00</text><text x="1578.3" y="376.1" textLength="5" lengthAdjust="spacingAndGlyphs">0.00</text><text x="1588.5" y="376.1" textLength="5" lengthAdjust="spacingAndGlyphs">0.03</text><text x="1598.7" y="376.1" textLength="5" lengthAdjust="spacingAndGlyphs">0.03</text><text x="1608.9" y="376.1" textLength="5" lengthAdjust="spacingAndGlyphs">0.02</text><text x="1619.0" y="376.1" textLength="5" lengthAdjust="spacingAndGlyphs">0.03</text><text x="1629.2" y="376.1" textLength="5" lengthAdjust="spacingAndGlyphs">0.22</text><text x="1639.4" y="376.1" textLength="5" lengthAdjust="spacingAndGlyphs">0.02</text><text x="1649.6" y="376.1" textLength="5" lengthAdjust="spacingAndGlyphs">0.00</text><text x="1659.8" y="376.1" textLength="5" lengthAdjust="spacingAndGlyphs">0.02</text><text x="1670.0" y="376.1" textLength="5" lengthAdjust="spacingAndGlyphs">0.01</text><text x="1680.1" y="376.1" textLength="5" lengthAdjust="spacingAndGlyphs">0.03</text><text x="1690.3" y="376.1" textLength="5" lengthAdjust="spacingAndGlyphs">0.00</text><text x="1700.5" y="376.1" textLength="5" lengthAdjust="spacingAndGlyphs">0.00</text><text x="1710.7" y="376.1" textLength="5" lengthAdjust="spacingAndGlyphs">0.03</text></g>
<g class="dw"><text x="1527.4" y="376.1" textLength="5" lengthAdjust="spacingAndGlyphs">0.55</text></g>
<line x1="1392.60" y1="74.9" x2="1392.60" y2="379.54" stroke="#ffffff" stroke-width="0.4"/>
<line x1="1392.6" y1="74.90" x2="1718.36" y2="74.90" stroke="#ffffff" stroke-width="0.4"/>
<line x1="1402.78" y1="74.9" x2="1402.78" y2="379.54" stroke="#ffffff" stroke-width="0.4"/>
<line x1="1392.6" y1="84.42" x2="1718.36" y2="84.42" stroke="#ffffff" stroke-width="0.4"/>
<line x1="1412.96" y1="74.9" x2="1412.96" y2="379.54" stroke="#ffffff" stroke-width="0.4"/>
<line x1="1392.6" y1="93.94" x2="1718.36" y2="93.94" stroke="#ffffff" stroke-width="0.4"/>
<line x1="1423.14" y1="74.9" x2="1423.14" y2="379.54" stroke="#ffffff" stroke-width="0.4"/>
<line x1="1392.6" y1="103.46" x2="1718.36" y2="103.46" stroke="#ffffff" stroke-width="0.4"/>
<line x1="1433.32" y1="74.9" x2="1433.32" y2="379.54" stroke="#ffffff" stroke-width="0.4"/>
<line x1="1392.6" y1="112.98" x2="1718.36" y2="112.98" stroke="#ffffff" stroke-width="0.4"/>
<line x1="1443.50" y1="74.9" x2="1443.50" y2="379.54" stroke="#ffffff" stroke-width="0.4"/>
<line x1="1392.6" y1="122.50" x2="1718.36" y2="122.50" stroke="#ffffff" stroke-width="0.4"/>
<line x1="1453.68" y1="74.9" x2="1453.68" y2="379.54" stroke="#ffffff" stroke-width="0.4"/>
<line x1="1392.6" y1="132.02" x2="1718.36" y2="132.02" stroke="#ffffff" stroke-width="0.4"/>
<line x1="1463.86" y1="74.9" x2="1463.86" y2="379.54" stroke="#ffffff" stroke-width="0.4"/>
<line x1="1392.6" y1="141.54" x2="1718.36" y2="141.54" stroke="#ffffff" stroke-width="0.4"/>
<line x1="1474.04" y1="74.9" x2="1474.04" y2="379.54" stroke="#ffffff" stroke-width="0.4"/>
<line x1="1392.6" y1="151.06" x2="1718.36" y2="151.06" stroke="#ffffff" stroke-width="0.4"/>
<line x1="1484.22" y1="74.9" x2="1484.22" y2="379.54" stroke="#ffffff" stroke-width="0.4"/>
<line x1="1392.6" y1="160.58" x2="1718.36" y2="160.58" stroke="#ffffff" stroke-width="0.4"/>
<line x1="1494.40" y1="74.9" x2="1494.40" y2="379.54" stroke="#ffffff" stroke-width="0.4"/>
<line x1="1392.6" y1="170.10" x2="1718.36" y2="170.10" stroke="#ffffff" stroke-width="0.4"/>
<line x1="1504.58" y1="74.9" x2="1504.58" y2="379.54" stroke="#ffffff" stroke-width="0.4"/>
<line x1="1392.6" y1="179.62" x2="1718.36" y2="179.62" stroke="#ffffff" stroke-width="0.4"/>
<line x1="1514.76" y1="74.9" x2="1514.76" y2="379.54" stroke="#ffffff" stroke-width="0.4"/>
<line x1="1392.6" y1="189.14" x2="1718.36" y2="189.14" stroke="#ffffff" stroke-width="0.4"/>
<line x1="1524.94" y1="74.9" x2="1524.94" y2="379.54" stroke="#ffffff" stroke-width="0.4"/>
<line x1="1392.6" y1="198.66" x2="1718.36" y2="198.66" stroke="#ffffff" stroke-width="0.4"/>
<line x1="1535.12" y1="74.9" x2="1535.12" y2="379.54" stroke="#ffffff" stroke-width="0.4"/>
<line x1="1392.6" y1="208.18" x2="1718.36" y2="208.18" stroke="#ffffff" stroke-width="0.4"/>
<line x1="1545.30" y1="74.9" x2="1545.30" y2="379.54" stroke="#ffffff" stroke-width="0.4"/>
<line x1="1392.6" y1="217.70" x2="1718.36" y2="217.70" stroke="#ffffff" stroke-width="0.4"/>
<line x1="1555.48" y1="74.9" x2="1555.48" y2="379.54" stroke="#ffffff" stroke-width="0.4"/>
<line x1="1392.6" y1="227.22" x2="1718.36" y2="227.22" stroke="#ffffff" stroke-width="0.4"/>
<line x1="1565.66" y1="74.9" x2="1565.66" y2="379.54" stroke="#ffffff" stroke-width="0.4"/>
<line x1="1392.6" y1="236.74" x2="1718.36" y2="236.74" stroke="#ffffff" stroke-width="0.4"/>
<line x1="1575.84" y1="74.9" x2="1575.84" y2="379.54" stroke="#ffffff" stroke-width="0.4"/>
<line x1="1392.6" y1="246.26" x2="1718.36" y2="246.26" stroke="#ffffff" stroke-width="0.4"/>
<line x1="1586.02" y1="74.9" x2="1586.02" y2="379.54" stroke="#ffffff" stroke-width="0.4"/>
<line x1="1392.6" y1="255.78" x2="1718.36" y2="255.78" stroke="#ffffff" stroke-width="0.4"/>
<line x1="1596.20" y1="74.9" x2="1596.20" y2="379.54" stroke="#ffffff" stroke-width="0.4"/>
<line x1="1392.6" y1="265.30" x2="1718.36" y2="265.30" stroke="#ffffff" stroke-width="0.4"/>
<line x1="1606.38" y1="74.9" x2="1606.38" y2="379.54" stroke="#ffffff" stroke-width="0.4"/>
<line x1="1392.6" y1="274.82" x2="1718.36" y2="274.82" stroke="#ffffff" stroke-width="0.4"/>
<line x1="1616.56" y1="74.9" x2="1616.56" y2="379.54" stroke="#ffffff" stroke-width="0.4"/>
<line x1="1392.6" y1="284.34" x2="1718.36" y2="284.34" stroke="#ffffff" stroke-width="0.4"/>
<line x1="1626.74" y1="74.9" x2="1626.74" y2="379.54" stroke="#ffffff" stroke-width="0.4"/>
<line x1="1392.6" y1="293.86" x2="1718.36" y2="293.86" stroke="#ffffff" stroke-width="0.4"/>
<line x1="1636.92" y1="74.9" x2="1636.92" y2="379.54" stroke="#ffffff" stroke-width="0.4"/>
<line x1="1392.6" y1="303.38" x2="1718.36" y2="303.38" stroke="#ffffff" stroke-width="0.4"/>
<line x1="1647.10" y1="74.9" x2="1647.10" y2="379.54" stroke="#ffffff" stroke-width="0.4"/>
<line x1="1392.6" y1="312.90" x2="1718.36" y2="312.90" stroke="#ffffff" stroke-width="0.4"/>
<line x1="1657.28" y1="74.9" x2="1657.28" y2="379.54" stroke="#ffffff" stroke-width="0.4"/>
<line x1="1392.6" y1="322.42" x2="1718.36" y2="322.42" stroke="#ffffff" stroke-width="0.4"/>
<line x1="1667.46" y1="74.9" x2="1667.46" y2="379.54" stroke="#ffffff" stroke-width="0.4"/>
<line x1="1392.6" y1="331.94" x2="1718.36" y2="331.94" stroke="#ffffff" stroke-width="0.4"/>
<line x1="1677.64" y1="74.9" x2="1677.64" y2="379.54" stroke="#ffffff" stroke-width="0.4"/>
<line x1="1392.6" y1="341.46" x2="1718.36" y2="341.46" stroke="#ffffff" stroke-width="0.4"/>
<line x1="1687.82" y1="74.9" x2="1687.82" y2="379.54" stroke="#ffffff" stroke-width="0.4"/>
<line x1="1392.6" y1="350.98" x2="1718.36" y2="350.98" stroke="#ffffff" stroke-width="0.4"/>
<line x1="1698.00" y1="74.9" x2="1698.00" y2="379.54" stroke="#ffffff" stroke-width="0.4"/>
<line x1="1392.6" y1="360.50" x2="1718.36" y2="360.50" stroke="#ffffff" stroke-width="0.4"/>
<line x1="1708.18" y1="74.9" x2="1708.18" y2="379.54" stroke="#ffffff" stroke-width="0.4"/>
<line x1="1392.6" y1="370.02" x2="1718.36" y2="370.02" stroke="#ffffff" stroke-width="0.4"/>
<line x1="1718.36" y1="74.9" x2="1718.36" y2="379.54" stroke="#ffffff" stroke-width="0.4"/>
<line x1="1392.6" y1="379.54" x2="1718.36" y2="379.54" stroke="#ffffff" stroke-width="0.4"/>
<line x1="1423.14" y1="74.9" x2="1423.14" y2="379.54" stroke="#9c9c9c" stroke-opacity="1" stroke-width="1"/>
<line x1="1433.32" y1="74.9" x2="1433.32" y2="379.54" stroke="#9c9c9c" stroke-opacity="0.35" stroke-width="1"/>
<line x1="1474.04" y1="74.9" x2="1474.04" y2="379.54" stroke="#9c9c9c" stroke-opacity="1" stroke-width="1"/>
<line x1="1484.22" y1="74.9" x2="1484.22" y2="379.54" stroke="#9c9c9c" stroke-opacity="1" stroke-width="1"/>
<line x1="1524.94" y1="74.9" x2="1524.94" y2="379.54" stroke="#9c9c9c" stroke-opacity="0.35" stroke-width="1"/>
<line x1="1535.12" y1="74.9" x2="1535.12" y2="379.54" stroke="#9c9c9c" stroke-opacity="1" stroke-width="1"/>
<line x1="1586.02" y1="74.9" x2="1586.02" y2="379.54" stroke="#9c9c9c" stroke-opacity="0.8" stroke-width="1"/>
<line x1="1596.20" y1="74.9" x2="1596.20" y2="379.54" stroke="#9c9c9c" stroke-opacity="1" stroke-width="1"/>
<line x1="1636.92" y1="74.9" x2="1636.92" y2="379.54" stroke="#9c9c9c" stroke-opacity="1" stroke-width="1"/>
<line x1="1647.10" y1="74.9" x2="1647.10" y2="379.54" stroke="#9c9c9c" stroke-opacity="1" stroke-width="1"/>
<line x1="1698.00" y1="74.9" x2="1698.00" y2="379.54" stroke="#9c9c9c" stroke-opacity="1" stroke-width="1"/>
<line x1="1708.18" y1="74.9" x2="1708.18" y2="379.54" stroke="#9c9c9c" stroke-opacity="0.5" stroke-width="1"/>
<line x1="1718.36" y1="74.9" x2="1718.36" y2="379.54" stroke="#9c9c9c" stroke-opacity="1" stroke-width="1"/>
<line x1="1390.6" y1="112.98" x2="1718.36" y2="112.98" stroke="#9c9c9c" stroke-width="1"/>
<line x1="1390.6" y1="122.50" x2="1718.36" y2="122.50" stroke="#9c9c9c" stroke-width="1"/>
<line x1="1390.6" y1="179.62" x2="1718.36" y2="179.62" stroke="#9c9c9c" stroke-width="1"/>
<line x1="1390.6" y1="246.26" x2="1718.36" y2="246.26" stroke="#9c9c9c" stroke-width="1"/>
<line x1="1390.6" y1="303.38" x2="1718.36" y2="303.38" stroke="#9c9c9c" stroke-width="1"/>
<line x1="1390.6" y1="312.90" x2="1718.36" y2="312.90" stroke="#9c9c9c" stroke-width="1"/>
<line x1="1390.6" y1="370.02" x2="1718.36" y2="370.02" stroke="#9c9c9c" stroke-width="1"/>
<rect x="1392.6" y="379.8" width="325.76" height="1.4" fill="#111"/>
<text x="1390.80" y="81.16" font-size="4.2" font-weight="bold" fill="#000" text-anchor="end">0</text>
<text x="1390.80" y="90.68" font-size="4.2" font-weight="bold" fill="#000" text-anchor="end">1</text>
<text x="1390.80" y="100.20" font-size="4.2" font-weight="bold" fill="#000" text-anchor="end">2</text>
<text x="1390.80" y="109.72" font-size="4.2" font-weight="bold" fill="#000" text-anchor="end">3</text>
<text x="1390.80" y="119.24" font-size="4.2" font-weight="bold" fill="#000" text-anchor="end">4</text>
<text x="1390.80" y="128.76" font-size="4.2" font-weight="bold" fill="#000" text-anchor="end">5</text>
<text x="1390.80" y="138.28" font-size="4.2" font-weight="bold" fill="#000" text-anchor="end">6</text>
<text x="1390.80" y="147.80" font-size="4.2" font-weight="bold" fill="#000" text-anchor="end">7</text>
<text x="1390.80" y="157.32" font-size="4.2" font-weight="bold" fill="#000" text-anchor="end">8</text>
<text x="1390.80" y="166.84" font-size="4.2" font-weight="bold" fill="#000" text-anchor="end">9</text>
<text x="1390.80" y="176.36" font-size="4.2" font-weight="bold" fill="#000" text-anchor="end">10</text>
<text x="1390.80" y="185.88" font-size="4.2" font-weight="bold" fill="#000" text-anchor="end">11</text>
<text x="1390.80" y="195.40" font-size="4.2" font-weight="bold" fill="#000" text-anchor="end">12</text>
<text x="1390.80" y="204.92" font-size="4.2" font-weight="bold" fill="#000" text-anchor="end">13</text>
<text x="1390.80" y="214.44" font-size="4.2" font-weight="bold" fill="#000" text-anchor="end">14</text>
<text x="1390.80" y="223.96" font-size="4.2" font-weight="bold" fill="#000" text-anchor="end">15</text>
<text x="1390.80" y="233.48" font-size="4.2" font-weight="bold" fill="#000" text-anchor="end">16</text>
<text x="1390.80" y="243.00" font-size="4.2" font-weight="bold" fill="#000" text-anchor="end">17</text>
<text x="1390.80" y="252.52" font-size="4.2" font-weight="bold" fill="#000" text-anchor="end">18</text>
<text x="1390.80" y="262.04" font-size="4.2" font-weight="bold" fill="#000" text-anchor="end">19</text>
<text x="1390.80" y="271.56" font-size="4.2" font-weight="bold" fill="#000" text-anchor="end">20</text>
<text x="1390.80" y="281.08" font-size="4.2" font-weight="bold" fill="#000" text-anchor="end">21</text>
<text x="1390.80" y="290.60" font-size="4.2" font-weight="bold" fill="#000" text-anchor="end">22</text>
<text x="1390.80" y="300.12" font-size="4.2" font-weight="bold" fill="#000" text-anchor="end">23</text>
<text x="1390.80" y="309.64" font-size="4.2" font-weight="bold" fill="#000" text-anchor="end">24</text>
<text x="1390.80" y="319.16" font-size="4.2" font-weight="bold" fill="#000" text-anchor="end">25</text>
<text x="1390.80" y="328.68" font-size="4.2" font-weight="bold" fill="#000" text-anchor="end">26</text>
<text x="1390.80" y="338.20" font-size="4.2" font-weight="bold" fill="#000" text-anchor="end">27</text>
<text x="1390.80" y="347.72" font-size="4.2" font-weight="bold" fill="#000" text-anchor="end">28</text>
<text x="1390.80" y="357.24" font-size="4.2" font-weight="bold" fill="#000" text-anchor="end">29</text>
<text x="1390.80" y="366.76" font-size="4.2" font-weight="bold" fill="#000" text-anchor="end">30</text>
<text x="1390.80" y="376.28" font-size="4.2" font-weight="bold" fill="#000" text-anchor="end">31</text>
<text transform="translate(1398.29,70.2) rotate(-45)" font-size="4.0" font-weight="bold" fill="#000" text-anchor="middle">0</text>
<rect x="1397.09" y="72.6" width="1.2" height="1.5" fill="#111"/>
<text transform="translate(1408.47,70.2) rotate(-45)" font-size="4.0" font-weight="bold" fill="#000" text-anchor="middle">1</text>
<text transform="translate(1418.65,70.2) rotate(-45)" font-size="4.0" font-weight="bold" fill="#000" text-anchor="middle">2</text>
<text transform="translate(1428.83,70.2) rotate(-45)" font-size="4.0" font-weight="bold" fill="#000" text-anchor="middle">3</text>
<text transform="translate(1439.01,70.2) rotate(-45)" font-size="4.0" font-weight="bold" fill="#000" text-anchor="middle">4</text>
<text transform="translate(1449.19,70.2) rotate(-45)" font-size="4.0" font-weight="bold" fill="#000" text-anchor="middle">5</text>
<rect x="1447.99" y="72.6" width="1.2" height="1.5" fill="#111"/>
<text transform="translate(1459.37,70.2) rotate(-45)" font-size="4.0" font-weight="bold" fill="#000" text-anchor="middle">6</text>
<rect x="1458.17" y="72.6" width="1.2" height="1.5" fill="#111" fill-opacity="0.25"/>
<text transform="translate(1469.55,70.2) rotate(-45)" font-size="4.0" font-weight="bold" fill="#000" text-anchor="middle">7</text>
<text transform="translate(1479.73,70.2) rotate(-45)" font-size="4.0" font-weight="bold" fill="#000" text-anchor="middle">8</text>
<text transform="translate(1489.91,70.2) rotate(-45)" font-size="4.0" font-weight="bold" fill="#000" text-anchor="middle">9</text>
<text transform="translate(1500.09,70.2) rotate(-45)" font-size="4.0" font-weight="bold" fill="#000" text-anchor="middle">10</text>
<rect x="1498.89" y="72.6" width="1.2" height="1.5" fill="#111"/>
<text transform="translate(1510.27,70.2) rotate(-45)" font-size="4.0" font-weight="bold" fill="#000" text-anchor="middle">11</text>
<rect x="1509.07" y="72.6" width="1.2" height="1.5" fill="#111"/>
<text transform="translate(1520.45,70.2) rotate(-45)" font-size="4.0" font-weight="bold" fill="#000" text-anchor="middle">12</text>
<rect x="1519.25" y="72.6" width="1.2" height="1.5" fill="#111" fill-opacity="0.25"/>
<text transform="translate(1530.63,70.2) rotate(-45)" font-size="4.0" font-weight="bold" fill="#000" text-anchor="middle">13</text>
<text transform="translate(1540.81,70.2) rotate(-45)" font-size="4.0" font-weight="bold" fill="#000" text-anchor="middle">14</text>
<text transform="translate(1550.99,70.2) rotate(-45)" font-size="4.0" font-weight="bold" fill="#000" text-anchor="middle">15</text>
<rect x="1549.79" y="72.6" width="1.2" height="1.5" fill="#111" fill-opacity="0.25"/>
<text transform="translate(1561.17,70.2) rotate(-45)" font-size="4.0" font-weight="bold" fill="#000" text-anchor="middle">16</text>
<rect x="1559.97" y="72.6" width="1.2" height="1.5" fill="#111"/>
<text transform="translate(1571.35,70.2) rotate(-45)" font-size="4.0" font-weight="bold" fill="#000" text-anchor="middle">17</text>
<rect x="1570.15" y="72.6" width="1.2" height="1.5" fill="#111" fill-opacity="0.25"/>
<text transform="translate(1581.53,70.2) rotate(-45)" font-size="4.0" font-weight="bold" fill="#000" text-anchor="middle">18</text>
<text transform="translate(1591.71,70.2) rotate(-45)" font-size="4.0" font-weight="bold" fill="#000" text-anchor="middle">19</text>
<text transform="translate(1601.89,70.2) rotate(-45)" font-size="4.0" font-weight="bold" fill="#000" text-anchor="middle">20</text>
<text transform="translate(1612.07,70.2) rotate(-45)" font-size="4.0" font-weight="bold" fill="#000" text-anchor="middle">21</text>
<rect x="1610.87" y="72.6" width="1.2" height="1.5" fill="#111"/>
<text transform="translate(1622.25,70.2) rotate(-45)" font-size="4.0" font-weight="bold" fill="#000" text-anchor="middle">22</text>
<rect x="1621.05" y="72.6" width="1.2" height="1.5" fill="#111"/>
<text transform="translate(1632.43,70.2) rotate(-45)" font-size="4.0" font-weight="bold" fill="#000" text-anchor="middle">23</text>
<text transform="translate(1642.61,70.2) rotate(-45)" font-size="4.0" font-weight="bold" fill="#000" text-anchor="middle">24</text>
<text transform="translate(1652.79,70.2) rotate(-45)" font-size="4.0" font-weight="bold" fill="#000" text-anchor="middle">25</text>
<text transform="translate(1662.97,70.2) rotate(-45)" font-size="4.0" font-weight="bold" fill="#000" text-anchor="middle">26</text>
<rect x="1661.77" y="72.6" width="1.2" height="1.5" fill="#111"/>
<text transform="translate(1673.15,70.2) rotate(-45)" font-size="4.0" font-weight="bold" fill="#000" text-anchor="middle">27</text>
<rect x="1671.95" y="72.6" width="1.2" height="1.5" fill="#111"/>
<text transform="translate(1683.33,70.2) rotate(-45)" font-size="4.0" font-weight="bold" fill="#000" text-anchor="middle">28</text>
<rect x="1682.13" y="72.6" width="1.2" height="1.5" fill="#111" fill-opacity="0.25"/>
<text transform="translate(1693.51,70.2) rotate(-45)" font-size="4.0" font-weight="bold" fill="#000" text-anchor="middle">29</text>
<text transform="translate(1703.69,70.2) rotate(-45)" font-size="4.0" font-weight="bold" fill="#000" text-anchor="middle">30</text>
<text transform="translate(1713.87,70.2) rotate(-45)" font-size="4.0" font-weight="bold" fill="#000" text-anchor="middle">31</text>
<rect x="1712.67" y="72.6" width="1.2" height="1.5" fill="#111" fill-opacity="0.25"/>
<text x="1516.8" y="64.4" font-size="5.0" font-weight="bold" fill="#111" textLength="76.8" lengthAdjust="spacingAndGlyphs">Normalized Deformable DETR</text>
<text x="1554.5" y="386.8" font-size="3.8" font-weight="bold" fill="#111" text-anchor="middle">Predicted label</text>
<text transform="translate(1381.7,243.8) rotate(-90)" font-size="3.9" font-weight="bold" fill="#111" textLength="33" lengthAdjust="spacing">True label</text>
<defs><linearGradient id="cbD" x1="0" y1="1" x2="0" y2="0">
<stop offset="0.00" stop-color="#f7fbff"/>
<stop offset="0.10" stop-color="#e3eef9"/>
<stop offset="0.20" stop-color="#d0e1f2"/>
<stop offset="0.30" stop-color="#b7d4ea"/>
<stop offset="0.40" stop-color="#94c4df"/>
<stop offset="0.50" stop-color="#6aaed6"/>
<stop offset="0.60" stop-color="#4a98c9"/>
<stop offset="0.70" stop-color="#2e7ebc"/>
<stop offset="0.80" stop-color="#1764ab"/>
<stop offset="0.90" stop-color="#084a91"/>
<stop offset="1.00" stop-color="#08306b"/>
</linearGradient></defs>
<rect x="1740" y="74.5" width="15.8" height="305.5" fill="url(#cbD)"/>
<rect x="1738.5" y="379.4" width="19" height="1.3" fill="#111"/>
<text x="1758.8" y="75.90" font-size="3.9" font-weight="bold" fill="#000">1.0</text>
<text x="1758.8" y="137.00" font-size="3.9" font-weight="bold" fill="#000">0.8</text>
<text x="1758.8" y="198.10" font-size="3.9" font-weight="bold" fill="#000">0.6</text>
<text x="1758.8" y="259.20" font-size="3.9" font-weight="bold" fill="#000">0.4</text>
<text x="1758.8" y="320.30" font-size="3.9" font-weight="bold" fill="#000">0.2</text>
<text x="1758.8" y="381.40" font-size="3.9" font-weight="bold" fill="#000">0</text>
<text transform="translate(8.3,32.5) scale(0.95,1)" font-size="31.4" font-weight="bold" fill="#000" class="lt">A</text>
<text transform="translate(467.3,32.1) scale(0.95,1)" font-size="31.4" font-weight="bold" fill="#000" class="lt">B</text>
<text transform="translate(937.5,32.4) scale(0.95,1)" font-size="31.4" font-weight="bold" fill="#000" class="lt">C</text>
<text transform="translate(1371.6,30.7) scale(0.95,1)" font-size="31.4" font-weight="bold" fill="#000" class="lt">D</text>
</svg>
</body></html>
